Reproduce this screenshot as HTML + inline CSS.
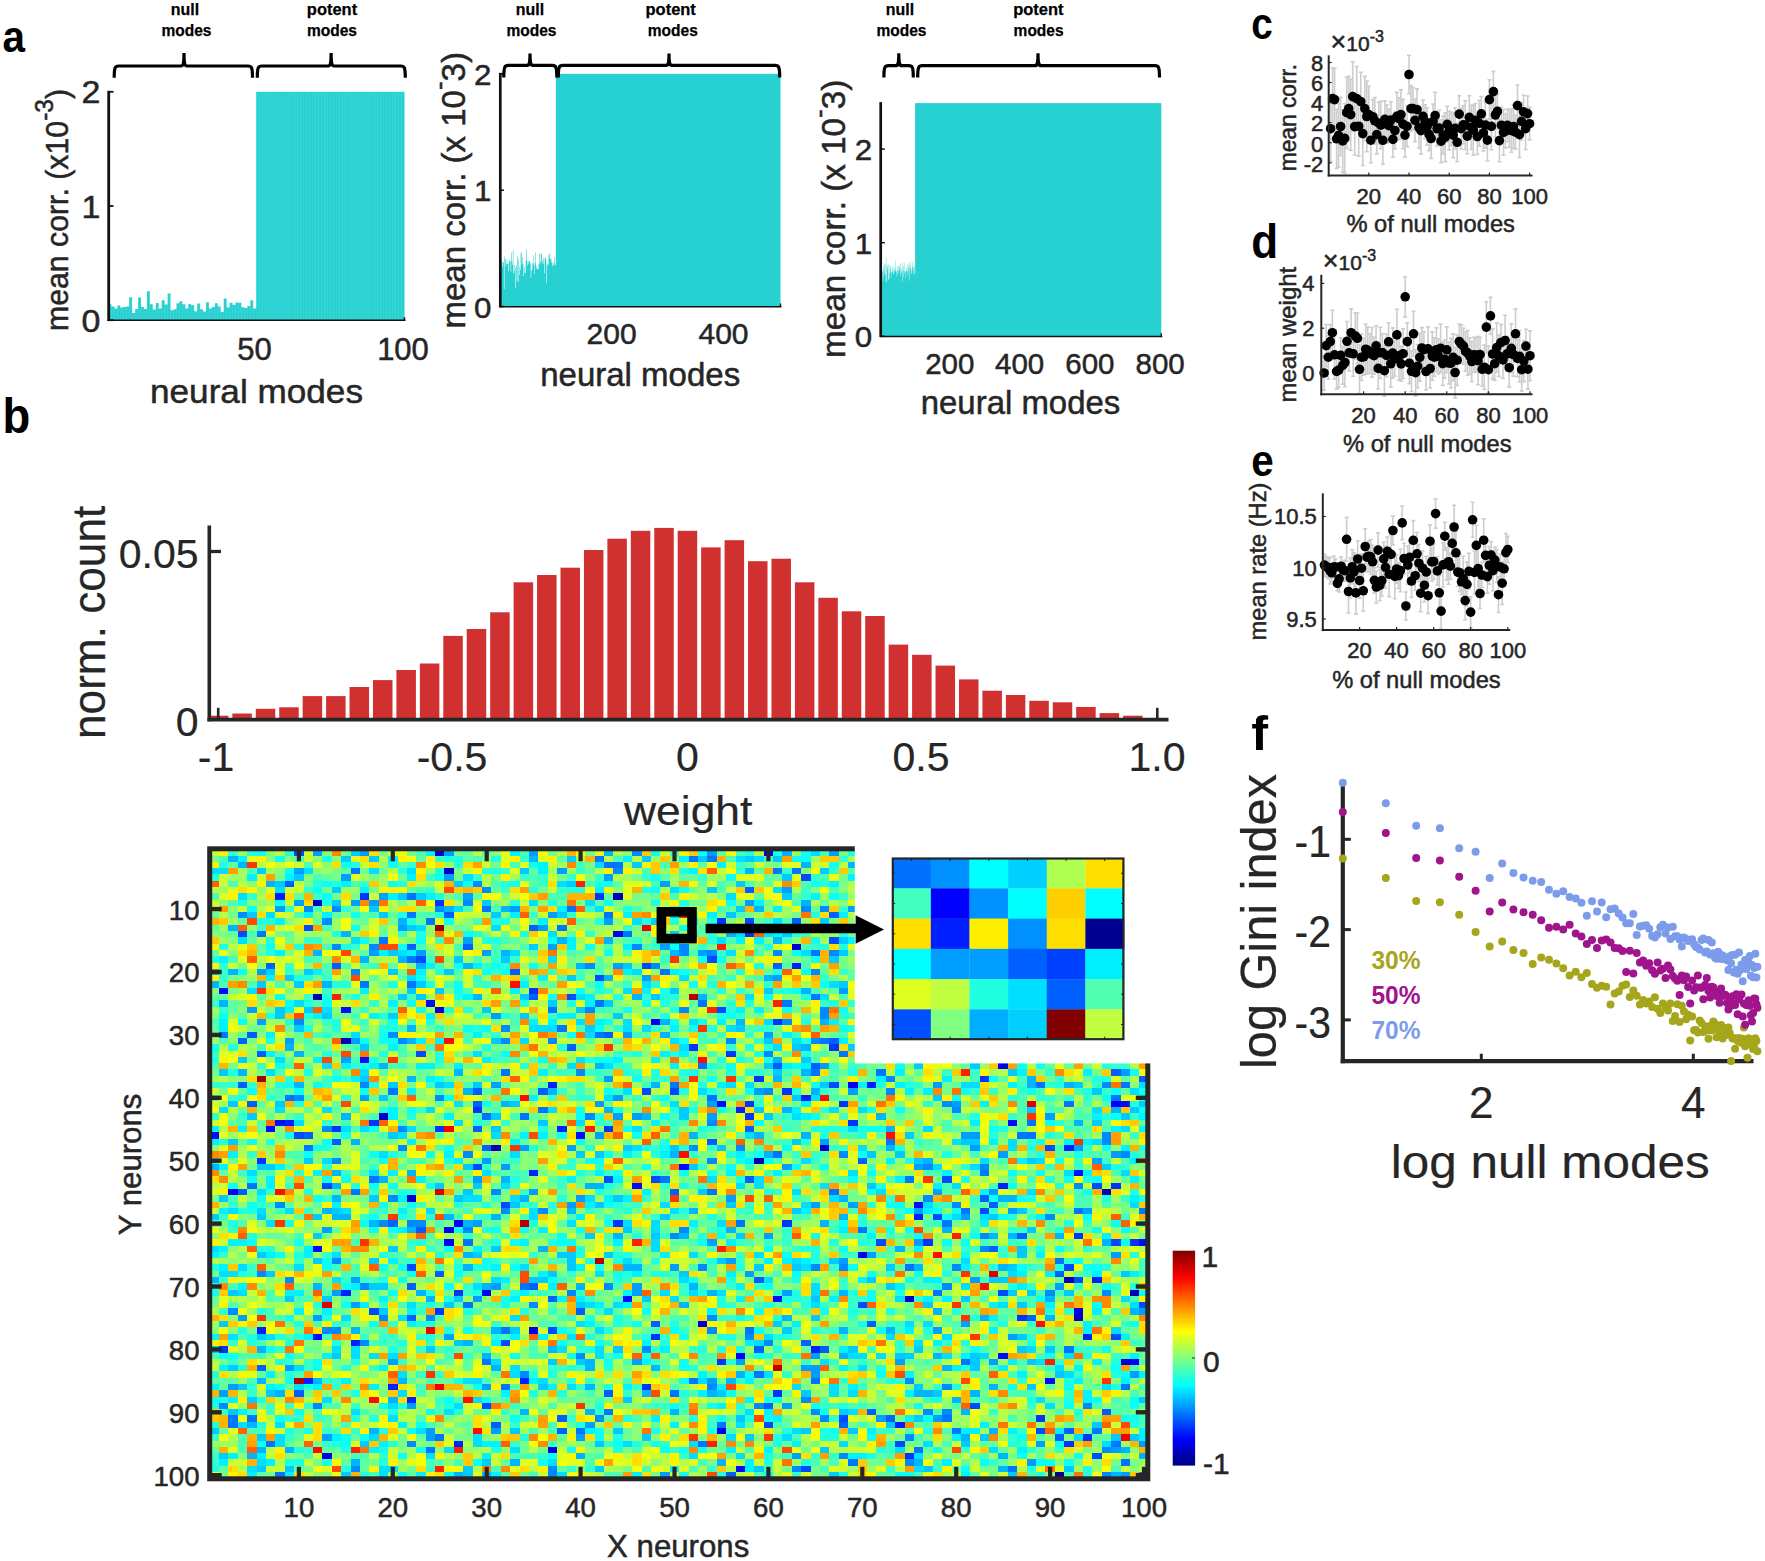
<!DOCTYPE html>
<html><head><meta charset="utf-8"><title>Figure</title>
<style>html,body{margin:0;padding:0;background:#fff}svg{display:block}</style></head>
<body>
<svg width="1765" height="1561" viewBox="0 0 1765 1561" font-family='"Liberation Sans", Arial, Helvetica, sans-serif' stroke-width="0.5">
<style>text{stroke:#262626}text[font-weight]{stroke:none}</style>
<rect width="1765" height="1561" fill="#fff"/>
<path d="M108.50 320.20V304.3H111.45V306.6H114.41V308.4H117.36V305.4H120.32V307.5H123.27V307.1H126.22V306.6H129.18V297.3H132.13V312.9H135.09V309.0H138.04V297.4H140.99V306.9H143.95V309.0H146.90V291.2H149.86V304.2H152.81V309.6H155.76V303.0H158.72V308.4H161.67V300.3H164.63V304.6H167.58V293.6H170.53V310.2H173.49V309.3H176.44V303.2H179.40V301.2H182.35V304.3H185.30V308.4H188.26V304.1H191.21V305.2H194.17V311.3H197.12V303.6H200.07V309.3H203.03V311.4H205.98V302.3H208.94V308.4H211.89V306.9H214.84V303.2H217.80V306.6H220.75V312.0H223.71V298.6H226.66V307.5H229.61V302.7H232.57V304.8H235.52V302.5H238.48V302.8H241.43V307.3H244.38V308.0H247.34V306.1H250.29V300.3H253.25V308.4H256.80V320.20Z" fill="#28D1D1"/>
<rect x="256.20" y="91.80" width="148.30" height="228.40" fill="#28D1D1"/>
<path d="M259.17 91.8V320.2M262.13 91.8V320.2M265.10 91.8V320.2M268.06 91.8V320.2M271.03 91.8V320.2M274.00 91.8V320.2M276.96 91.8V320.2M279.93 91.8V320.2M282.89 91.8V320.2M285.86 91.8V320.2M288.83 91.8V320.2M291.79 91.8V320.2M294.76 91.8V320.2M297.72 91.8V320.2M300.69 91.8V320.2M303.66 91.8V320.2M306.62 91.8V320.2M309.59 91.8V320.2M312.55 91.8V320.2M315.52 91.8V320.2M318.49 91.8V320.2M321.45 91.8V320.2M324.42 91.8V320.2M327.38 91.8V320.2M330.35 91.8V320.2M333.32 91.8V320.2M336.28 91.8V320.2M339.25 91.8V320.2M342.21 91.8V320.2M345.18 91.8V320.2M348.15 91.8V320.2M351.11 91.8V320.2M354.08 91.8V320.2M357.04 91.8V320.2M360.01 91.8V320.2M362.98 91.8V320.2M365.94 91.8V320.2M368.91 91.8V320.2M371.87 91.8V320.2M374.84 91.8V320.2M377.81 91.8V320.2M380.77 91.8V320.2M383.74 91.8V320.2M386.70 91.8V320.2M389.67 91.8V320.2M392.64 91.8V320.2M395.60 91.8V320.2M398.57 91.8V320.2M401.53 91.8V320.2M111.45 290.2V320.2M114.41 290.2V320.2M117.36 290.2V320.2M120.32 290.2V320.2M123.27 290.2V320.2M126.22 290.2V320.2M129.18 290.2V320.2M132.13 290.2V320.2M135.09 290.2V320.2M138.04 290.2V320.2M140.99 290.2V320.2M143.95 290.2V320.2M146.90 290.2V320.2M149.86 290.2V320.2M152.81 290.2V320.2M155.76 290.2V320.2M158.72 290.2V320.2M161.67 290.2V320.2M164.63 290.2V320.2M167.58 290.2V320.2M170.53 290.2V320.2M173.49 290.2V320.2M176.44 290.2V320.2M179.40 290.2V320.2M182.35 290.2V320.2M185.30 290.2V320.2M188.26 290.2V320.2M191.21 290.2V320.2M194.17 290.2V320.2M197.12 290.2V320.2M200.07 290.2V320.2M203.03 290.2V320.2M205.98 290.2V320.2M208.94 290.2V320.2M211.89 290.2V320.2M214.84 290.2V320.2M217.80 290.2V320.2M220.75 290.2V320.2M223.71 290.2V320.2M226.66 290.2V320.2M229.61 290.2V320.2M232.57 290.2V320.2M235.52 290.2V320.2M238.48 290.2V320.2M241.43 290.2V320.2M244.38 290.2V320.2M247.34 290.2V320.2M250.29 290.2V320.2M253.25 290.2V320.2" stroke="#fff" stroke-opacity="0.13" stroke-width="0.8" fill="none"/>
<line x1="108.7" y1="90.8" x2="108.7" y2="321.0" stroke="#111" stroke-width="2.8"/>
<line x1="107.3" y1="320.2" x2="405.5" y2="320.2" stroke="#111" stroke-width="1.6"/>
<line x1="108.5" y1="91.8" x2="113.5" y2="91.8" stroke="#111" stroke-width="1.8"/>
<text x="100.3" y="103.4" font-size="32" text-anchor="end" fill="#262626" textLength="18.9" lengthAdjust="spacingAndGlyphs">2</text>
<line x1="108.5" y1="206.0" x2="113.5" y2="206.0" stroke="#111" stroke-width="1.8"/>
<text x="100.3" y="217.6" font-size="32" text-anchor="end" fill="#262626" textLength="18.9" lengthAdjust="spacingAndGlyphs">1</text>
<line x1="108.5" y1="320.2" x2="113.5" y2="320.2" stroke="#111" stroke-width="1.8"/>
<text x="100.3" y="331.8" font-size="32" text-anchor="end" fill="#262626" textLength="18.9" lengthAdjust="spacingAndGlyphs">0</text>
<line x1="404.5" y1="320.2" x2="404.5" y2="317.2" stroke="#111" stroke-width="1.4"/>
<text x="254.4" y="360.3" font-size="31" text-anchor="middle" fill="#262626">50</text>
<text x="403.0" y="360.3" font-size="31" text-anchor="middle" fill="#262626">100</text>
<text x="256.5" y="402.7" font-size="34" text-anchor="middle" fill="#262626" textLength="213.0" lengthAdjust="spacingAndGlyphs">neural modes</text>
<text x="68.2" y="331.0" font-size="31.5" text-anchor="start" fill="#262626" transform="rotate(-90 68.2 331.0)" textLength="242.0" lengthAdjust="spacingAndGlyphs">mean corr. (x10<tspan font-size="25.5" dy="-15">-3</tspan><tspan dy="15">)</tspan></text>
<path d="M114.2 77.8 C114.2 67.0 115.2 66.0 118.7 66.0 L181.0 66.0 C183.5 66.0 184.0 63.0 184.0 53.0 C184.0 63.0 184.5 66.0 187.0 66.0 L248.0 66.0 C251.5 66.0 252.5 67.0 252.5 77.8" fill="none" stroke="#000" stroke-width="3.2" stroke-linejoin="miter"/>
<path d="M257.3 77.8 C257.3 67.0 258.3 66.0 261.8 66.0 L328.1 66.0 C330.6 66.0 331.1 63.0 331.1 53.0 C331.1 63.0 331.6 66.0 334.1 66.0 L400.8 66.0 C404.3 66.0 405.3 67.0 405.3 77.8" fill="none" stroke="#000" stroke-width="3.2" stroke-linejoin="miter"/>
<text x="185.0" y="15.0" font-size="16.4" font-weight="bold" text-anchor="middle" fill="#000" style="stroke:#000;stroke-width:.25px" textLength="28.3" lengthAdjust="spacingAndGlyphs">null</text>
<text x="186.5" y="36.2" font-size="16.4" font-weight="bold" text-anchor="middle" fill="#000" style="stroke:#000;stroke-width:.25px" textLength="50" lengthAdjust="spacingAndGlyphs">modes</text>
<text x="332.0" y="15.0" font-size="16.4" font-weight="bold" text-anchor="middle" fill="#000" style="stroke:#000;stroke-width:.25px" textLength="50.3" lengthAdjust="spacingAndGlyphs">potent</text>
<text x="332.0" y="36.2" font-size="16.4" font-weight="bold" text-anchor="middle" fill="#000" style="stroke:#000;stroke-width:.25px" textLength="50" lengthAdjust="spacingAndGlyphs">modes</text>
<path d="M500.00 306.50V252.4H500.56V265.3H501.12V262.3H501.67V260.1H502.23V267.2H502.79V262.5H503.35V262.5H503.91V288.9H504.46V256.4H505.02V258.9H505.58V266.3H506.14V263.5H506.70V259.5H507.25V264.1H507.81V264.0H508.37V271.2H508.93V259.2H509.49V261.8H510.04V260.9H510.60V271.7H511.16V252.6H511.72V261.6H512.28V264.8H512.83V250.3H513.39V273.5H513.95V271.2H514.51V264.9H515.07V288.0H515.62V267.4H516.18V265.0H516.74V281.3H517.30V256.1H517.86V282.2H518.41V259.3H518.97V274.9H519.53V266.5H520.09V269.7H520.65V253.7H521.20V251.9H521.76V264.5H522.32V257.5H522.88V263.6H523.44V276.2H523.99V267.0H524.55V272.8H525.11V273.3H525.67V260.2H526.23V249.0H526.78V260.9H527.34V265.6H527.90V264.2H528.46V261.1H529.02V261.9H529.57V261.0H530.13V263.3H530.69V277.4H531.25V271.1H531.81V269.4H532.36V263.1H532.92V255.3H533.48V264.7H534.04V273.9H534.60V263.1H535.15V252.3H535.71V264.8H536.27V267.8H536.83V269.7H537.39V268.8H537.94V264.3H538.50V269.6H539.06V253.5H539.62V264.2H540.18V261.8H540.73V253.9H541.29V253.5H541.85V263.8H542.41V260.5H542.97V258.1H543.52V263.7H544.08V273.2H544.64V258.6H545.20V257.1H545.76V260.0H546.31V283.2H546.87V263.7H547.43V266.0H547.99V264.3H548.55V254.7H549.10V253.3H549.66V258.5H550.22V259.2H550.78V258.4H551.34V262.6H551.89V263.0H552.45V266.5H553.01V262.8H553.57V265.3H554.13V257.3H554.68V264.6H555.24V265.3H556.40V306.50Z" fill="#28D1D1"/>
<rect x="555.80" y="73.80" width="224.70" height="232.70" fill="#28D1D1"/>
<line x1="500.3" y1="72.8" x2="500.3" y2="307.3" stroke="#111" stroke-width="2.7"/>
<line x1="499.2" y1="306.8" x2="781.5" y2="306.8" stroke="#111" stroke-width="1.5"/>
<line x1="500.0" y1="73.8" x2="504.0" y2="73.8" stroke="#111" stroke-width="1.5"/>
<text x="491.5" y="84.8" font-size="30" text-anchor="end" fill="#262626" textLength="17.4" lengthAdjust="spacingAndGlyphs">2</text>
<line x1="500.0" y1="190.2" x2="504.0" y2="190.2" stroke="#111" stroke-width="1.5"/>
<text x="491.5" y="201.2" font-size="30" text-anchor="end" fill="#262626" textLength="17.4" lengthAdjust="spacingAndGlyphs">1</text>
<line x1="500.0" y1="306.5" x2="504.0" y2="306.5" stroke="#111" stroke-width="1.5"/>
<text x="491.5" y="317.5" font-size="30" text-anchor="end" fill="#262626" textLength="17.4" lengthAdjust="spacingAndGlyphs">0</text>
<text x="611.6" y="344.2" font-size="30" text-anchor="middle" fill="#262626">200</text>
<text x="723.5" y="344.2" font-size="30" text-anchor="middle" fill="#262626">400</text>
<line x1="780.5" y1="306.5" x2="780.5" y2="303.5" stroke="#111" stroke-width="1.3"/>
<text x="640.2" y="385.5" font-size="32.5" text-anchor="middle" fill="#262626" textLength="200.0" lengthAdjust="spacingAndGlyphs">neural modes</text>
<text x="464.6" y="328.5" font-size="33" text-anchor="start" fill="#262626" transform="rotate(-90 464.6 328.5)">mean corr. (x 10<tspan dy="-17" font-size="26">-</tspan><tspan dy="17">3)</tspan></text>
<path d="M503.8 77.6 C503.8 66.4 504.8 65.4 508.3 65.4 L527.0 65.4 C529.5 65.4 530.0 62.4 530.0 53.5 C530.0 62.4 530.5 65.4 533.0 65.4 L552.3 65.4 C555.8 65.4 556.8 66.4 556.8 77.6" fill="none" stroke="#000" stroke-width="3.2" stroke-linejoin="miter"/>
<path d="M558.3 77.6 C558.3 66.4 559.3 65.4 562.8 65.4 L666.0 65.4 C668.5 65.4 669.0 62.4 669.0 53.5 C669.0 62.4 669.5 65.4 672.0 65.4 L775.2 65.4 C778.7 65.4 779.7 66.4 779.7 77.6" fill="none" stroke="#000" stroke-width="3.2" stroke-linejoin="miter"/>
<text x="530.0" y="14.7" font-size="16.4" font-weight="bold" text-anchor="middle" fill="#000" style="stroke:#000;stroke-width:.25px" textLength="28.3" lengthAdjust="spacingAndGlyphs">null</text>
<text x="531.5" y="35.6" font-size="16.4" font-weight="bold" text-anchor="middle" fill="#000" style="stroke:#000;stroke-width:.25px" textLength="50" lengthAdjust="spacingAndGlyphs">modes</text>
<text x="670.7" y="14.7" font-size="16.4" font-weight="bold" text-anchor="middle" fill="#000" style="stroke:#000;stroke-width:.25px" textLength="50.3" lengthAdjust="spacingAndGlyphs">potent</text>
<text x="672.8" y="35.6" font-size="16.4" font-weight="bold" text-anchor="middle" fill="#000" style="stroke:#000;stroke-width:.25px" textLength="50" lengthAdjust="spacingAndGlyphs">modes</text>
<path d="M880.30 336.30V278.2H880.65V266.3H881.00V273.2H881.34V268.0H881.69V268.5H882.04V272.8H882.39V269.6H882.74V281.4H883.08V278.5H883.43V265.9H883.78V271.8H884.13V263.5H884.48V268.7H884.82V274.8H885.17V263.8H885.52V275.1H885.87V282.6H886.22V257.9H886.56V281.8H886.91V266.5H887.26V264.7H887.61V269.4H887.96V280.4H888.30V264.2H888.65V278.9H889.00V278.4H889.35V272.5H889.70V265.6H890.04V268.5H890.39V265.4H890.74V273.0H891.09V271.3H891.44V277.1H891.78V272.2H892.13V266.7H892.48V272.1H892.83V267.4H893.18V273.7H893.52V273.9H893.87V270.1H894.22V271.5H894.57V266.7H894.92V269.2H895.26V259.9H895.61V271.6H895.96V271.7H896.31V276.5H896.66V270.2H897.00V266.2H897.35V274.7H897.70V270.6H898.05V266.0H898.40V271.1H898.74V273.4H899.09V264.5H899.44V269.7H899.79V267.9H900.14V263.3H900.48V276.0H900.83V272.4H901.18V273.5H901.53V268.6H901.88V271.1H902.22V281.7H902.57V262.6H902.92V270.2H903.27V265.9H903.62V277.3H903.96V262.6H904.31V273.8H904.66V270.9H905.01V278.7H905.36V271.3H905.70V271.7H906.05V271.4H906.40V267.7H906.75V269.9H907.10V264.4H907.44V273.1H907.79V276.3H908.14V270.4H908.49V266.5H908.84V262.8H909.18V265.4H909.53V280.9H909.88V268.0H910.23V261.5H910.58V269.9H910.92V273.4H911.27V268.4H911.62V273.3H911.97V266.5H912.32V270.4H912.66V261.9H913.01V267.3H913.36V274.6H913.71V266.7H914.06V264.7H914.40V273.7H914.75V272.9H915.70V336.30Z" fill="#28D1D1"/>
<rect x="915.10" y="103.10" width="246.20" height="233.20" fill="#28D1D1"/>
<line x1="880.7" y1="102.1" x2="880.7" y2="337.1" stroke="#111" stroke-width="2.7"/>
<line x1="880.3" y1="336.6" x2="1162.3" y2="336.6" stroke="#111" stroke-width="1.5"/>
<line x1="881.3" y1="336.3" x2="884.8" y2="336.3" stroke="#111" stroke-width="1.5"/>
<text x="872.2" y="347.3" font-size="30" text-anchor="end" fill="#262626" textLength="17.4" lengthAdjust="spacingAndGlyphs">0</text>
<line x1="881.3" y1="242.7" x2="884.8" y2="242.7" stroke="#111" stroke-width="1.5"/>
<text x="872.2" y="253.7" font-size="30" text-anchor="end" fill="#262626" textLength="17.4" lengthAdjust="spacingAndGlyphs">1</text>
<line x1="881.3" y1="149.1" x2="884.8" y2="149.1" stroke="#111" stroke-width="1.5"/>
<text x="872.2" y="160.1" font-size="30" text-anchor="end" fill="#262626" textLength="17.4" lengthAdjust="spacingAndGlyphs">2</text>
<text x="949.8" y="374.2" font-size="29.5" text-anchor="middle" fill="#262626">200</text>
<text x="1019.6" y="374.2" font-size="29.5" text-anchor="middle" fill="#262626">400</text>
<text x="1089.9" y="374.2" font-size="29.5" text-anchor="middle" fill="#262626">600</text>
<text x="1160.1" y="374.2" font-size="29.5" text-anchor="middle" fill="#262626">800</text>
<line x1="1161.3" y1="336.3" x2="1161.3" y2="333.3" stroke="#111" stroke-width="1.3"/>
<text x="1020.5" y="414.4" font-size="32.5" text-anchor="middle" fill="#262626" textLength="199.5" lengthAdjust="spacingAndGlyphs">neural modes</text>
<text x="845.1" y="358.0" font-size="33" text-anchor="start" fill="#262626" transform="rotate(-90 845.1 358.0)" textLength="278.4" lengthAdjust="spacingAndGlyphs">mean corr. (x 10<tspan dy="-17" font-size="26">-</tspan><tspan dy="17">3)</tspan></text>
<path d="M883.9 77.5 C883.9 66.7 884.9 65.7 888.4 65.7 L895.8 65.7 C898.3 65.7 898.8 62.7 898.8 53.3 C898.8 62.7 899.3 65.7 901.8 65.7 L908.8 65.7 C912.3 65.7 913.3 66.7 913.3 77.5" fill="none" stroke="#000" stroke-width="3.2" stroke-linejoin="miter"/>
<path d="M917.7 77.5 C917.7 66.7 918.7 65.7 922.2 65.7 L1035.0 65.7 C1037.5 65.7 1038.0 62.7 1038.0 53.3 C1038.0 62.7 1038.5 65.7 1041.0 65.7 L1155.0 65.7 C1158.5 65.7 1159.5 66.7 1159.5 77.5" fill="none" stroke="#000" stroke-width="3.2" stroke-linejoin="miter"/>
<text x="900.0" y="14.7" font-size="16.4" font-weight="bold" text-anchor="middle" fill="#000" style="stroke:#000;stroke-width:.25px" textLength="28.3" lengthAdjust="spacingAndGlyphs">null</text>
<text x="901.5" y="35.6" font-size="16.4" font-weight="bold" text-anchor="middle" fill="#000" style="stroke:#000;stroke-width:.25px" textLength="50" lengthAdjust="spacingAndGlyphs">modes</text>
<text x="1038.4" y="14.7" font-size="16.4" font-weight="bold" text-anchor="middle" fill="#000" style="stroke:#000;stroke-width:.25px" textLength="50.3" lengthAdjust="spacingAndGlyphs">potent</text>
<text x="1038.6" y="35.6" font-size="16.4" font-weight="bold" text-anchor="middle" fill="#000" style="stroke:#000;stroke-width:.25px" textLength="50" lengthAdjust="spacingAndGlyphs">modes</text>
<text x="2.5" y="52.4" font-size="45" text-anchor="start" fill="#000" font-weight="bold" textLength="22.5" lengthAdjust="spacingAndGlyphs">a</text>
<text x="2.5" y="432.8" font-size="50.5" text-anchor="start" fill="#000" font-weight="bold" textLength="27.8" lengthAdjust="spacingAndGlyphs">b</text>
<text x="1251.3" y="39.3" font-size="44" text-anchor="start" fill="#000" font-weight="bold" textLength="21.5" lengthAdjust="spacingAndGlyphs">c</text>
<text x="1251.3" y="257.8" font-size="49" text-anchor="start" fill="#000" font-weight="bold" textLength="26.9" lengthAdjust="spacingAndGlyphs">d</text>
<text x="1251.3" y="475.5" font-size="44" text-anchor="start" fill="#000" font-weight="bold" textLength="22.5" lengthAdjust="spacingAndGlyphs">e</text>
<text x="1251.2" y="750.3" font-size="49" text-anchor="start" fill="#000" font-weight="bold" textLength="16.8" lengthAdjust="spacingAndGlyphs">f</text>
<rect x="208.90" y="715.70" width="19.50" height="3.60" fill="#D03030"/>
<rect x="232.34" y="713.50" width="19.50" height="5.80" fill="#D03030"/>
<rect x="255.78" y="708.80" width="19.50" height="10.50" fill="#D03030"/>
<rect x="279.22" y="707.30" width="19.50" height="12.00" fill="#D03030"/>
<rect x="302.66" y="696.10" width="19.50" height="23.20" fill="#D03030"/>
<rect x="326.10" y="696.10" width="19.50" height="23.20" fill="#D03030"/>
<rect x="349.54" y="687.00" width="19.50" height="32.30" fill="#D03030"/>
<rect x="372.98" y="680.10" width="19.50" height="39.20" fill="#D03030"/>
<rect x="396.42" y="670.00" width="19.50" height="49.30" fill="#D03030"/>
<rect x="419.86" y="663.50" width="19.50" height="55.80" fill="#D03030"/>
<rect x="443.30" y="635.90" width="19.50" height="83.40" fill="#D03030"/>
<rect x="466.74" y="629.00" width="19.50" height="90.30" fill="#D03030"/>
<rect x="490.18" y="612.30" width="19.50" height="107.00" fill="#D03030"/>
<rect x="513.62" y="582.30" width="19.50" height="137.00" fill="#D03030"/>
<rect x="537.06" y="575.00" width="19.50" height="144.30" fill="#D03030"/>
<rect x="560.50" y="567.70" width="19.50" height="151.60" fill="#D03030"/>
<rect x="583.94" y="550.00" width="19.50" height="169.30" fill="#D03030"/>
<rect x="607.38" y="538.70" width="19.50" height="180.60" fill="#D03030"/>
<rect x="630.82" y="530.80" width="19.50" height="188.50" fill="#D03030"/>
<rect x="654.26" y="527.90" width="19.50" height="191.40" fill="#D03030"/>
<rect x="677.70" y="530.80" width="19.50" height="188.50" fill="#D03030"/>
<rect x="701.14" y="547.40" width="19.50" height="171.90" fill="#D03030"/>
<rect x="724.58" y="540.20" width="19.50" height="179.10" fill="#D03030"/>
<rect x="748.02" y="561.20" width="19.50" height="158.10" fill="#D03030"/>
<rect x="771.46" y="558.70" width="19.50" height="160.60" fill="#D03030"/>
<rect x="794.90" y="582.30" width="19.50" height="137.00" fill="#D03030"/>
<rect x="818.34" y="597.80" width="19.50" height="121.50" fill="#D03030"/>
<rect x="841.78" y="611.30" width="19.50" height="108.00" fill="#D03030"/>
<rect x="865.22" y="616.00" width="19.50" height="103.30" fill="#D03030"/>
<rect x="888.66" y="644.60" width="19.50" height="74.70" fill="#D03030"/>
<rect x="912.10" y="654.80" width="19.50" height="64.50" fill="#D03030"/>
<rect x="935.54" y="665.60" width="19.50" height="53.70" fill="#D03030"/>
<rect x="958.98" y="679.40" width="19.50" height="39.90" fill="#D03030"/>
<rect x="982.42" y="690.70" width="19.50" height="28.60" fill="#D03030"/>
<rect x="1005.86" y="695.00" width="19.50" height="24.30" fill="#D03030"/>
<rect x="1029.30" y="700.80" width="19.50" height="18.50" fill="#D03030"/>
<rect x="1052.74" y="702.30" width="19.50" height="17.00" fill="#D03030"/>
<rect x="1076.18" y="707.00" width="19.50" height="12.30" fill="#D03030"/>
<rect x="1099.62" y="713.10" width="19.50" height="6.20" fill="#D03030"/>
<rect x="1123.06" y="715.70" width="19.50" height="3.60" fill="#D03030"/>
<line x1="207.4" y1="719.6" x2="1168.5" y2="719.6" stroke="#262626" stroke-width="3.8"/>
<line x1="209.3" y1="525.6" x2="209.3" y2="721.3" stroke="#262626" stroke-width="3.6"/>
<line x1="209.0" y1="551.5" x2="221.0" y2="551.5" stroke="#262626" stroke-width="3.3"/>
<line x1="218.2" y1="719.3" x2="218.2" y2="707.8" stroke="#262626" stroke-width="2.6"/>
<line x1="1157.3" y1="719.3" x2="1157.3" y2="707.8" stroke="#262626" stroke-width="2.6"/>
<text x="198.6" y="567.7" font-size="41" text-anchor="end" fill="#262626" stroke-width="0.2">0.05</text>
<text x="198.6" y="736.0" font-size="41" text-anchor="end" fill="#262626" stroke-width="0.2">0</text>
<text x="216.0" y="771.3" font-size="41" text-anchor="middle" fill="#262626" stroke-width="0.2">-1</text>
<text x="452.0" y="771.3" font-size="41" text-anchor="middle" fill="#262626" stroke-width="0.2">-0.5</text>
<text x="687.3" y="771.3" font-size="41" text-anchor="middle" fill="#262626" stroke-width="0.2">0</text>
<text x="921.0" y="771.3" font-size="41" text-anchor="middle" fill="#262626" stroke-width="0.2">0.5</text>
<text x="1157.0" y="771.3" font-size="41" text-anchor="middle" fill="#262626" stroke-width="0.2">1.0</text>
<text x="688.2" y="824.7" font-size="41.5" text-anchor="middle" fill="#262626" textLength="128.4" lengthAdjust="spacingAndGlyphs" stroke-width="0.2">weight</text>
<text x="105.2" y="739.0" font-size="47" text-anchor="start" fill="#262626" transform="rotate(-90 105.2 739.0)" textLength="233.3" lengthAdjust="spacingAndGlyphs" stroke-width="0.2">norm. count</text>
<rect x="209.70" y="849.30" width="939.00" height="629.00" fill="#75FF8A"/>
<g transform="translate(209.7 849.3) scale(9.39 6.29)" shape-rendering="crispEdges">
<path fill="#00008A" d="M86 32h1v1h-1zM90 99h1v1h-1z"/>
<path fill="#00009F" d="M81 29h1v1h-1z"/>
<path fill="#0000B5" d="M43 7h1v1h-1zM11 23h1v1h-1zM14 30h1v1h-1zM30 47h1v1h-1zM58 49h1v1h-1zM95 54h1v1h-1zM98 70h1v1h-1z"/>
<path fill="#0000CA" d="M24 0h1v1h-1zM25 3h1v1h-1zM11 8h1v1h-1zM62 15h1v1h-1zM99 16h1v1h-1zM86 26h1v1h-1zM18 42h1v1h-1zM65 47h1v1h-1zM21 55h1v1h-1zM91 68h1v1h-1zM74 71h1v1h-1zM92 74h1v1h-1z"/>
<path fill="#0000DF" d="M95 11h1v1h-1zM24 25h1v1h-1zM92 73h1v1h-1zM52 75h1v1h-1zM97 81h1v1h-1zM36 95h1v1h-1zM12 96h1v1h-1z"/>
<path fill="#0000F4" d="M59 0h1v1h-1zM89 0h1v1h-1zM97 0h1v1h-1zM43 13h1v1h-1zM76 13h1v1h-1zM47 27h1v1h-1zM84 34h1v1h-1zM68 37h1v1h-1zM96 40h1v1h-1zM2 54h1v1h-1zM26 59h1v1h-1zM25 60h1v1h-1zM25 62h1v1h-1zM69 64h1v1h-1zM29 70h1v1h-1zM34 76h1v1h-1zM56 80h1v1h-1zM98 81h1v1h-1zM54 92h1v1h-1z"/>
<path fill="#000BFF" d="M80 10h1v1h-1zM82 18h1v1h-1zM1 22h1v1h-1zM23 24h1v1h-1zM14 25h1v1h-1zM78 28h1v1h-1zM16 33h1v1h-1zM73 33h1v1h-1zM54 40h1v1h-1zM97 40h1v1h-1zM7 43h1v1h-1zM85 43h1v1h-1zM6 44h1v1h-1zM0 45h1v1h-1zM39 45h1v1h-1zM50 50h1v1h-1zM92 51h1v1h-1zM45 53h1v1h-1zM75 56h1v1h-1zM99 62h1v1h-1zM11 63h1v1h-1zM44 71h1v1h-1zM60 71h1v1h-1zM11 77h1v1h-1zM84 80h1v1h-1zM89 84h1v1h-1zM56 98h1v1h-1z"/>
<path fill="#0020FF" d="M7 7h1v1h-1zM93 17h1v1h-1zM62 18h1v1h-1zM89 25h1v1h-1zM77 27h1v1h-1zM36 37h1v1h-1zM70 37h1v1h-1zM63 39h1v1h-1zM56 41h1v1h-1zM8 43h1v1h-1zM37 44h1v1h-1zM91 47h1v1h-1zM34 51h1v1h-1zM84 53h1v1h-1zM75 58h1v1h-1zM94 68h1v1h-1zM14 70h1v1h-1zM5 76h1v1h-1zM93 77h1v1h-1zM15 78h1v1h-1zM64 79h1v1h-1zM10 84h1v1h-1zM33 84h1v1h-1zM19 85h1v1h-1zM21 87h1v1h-1zM73 91h1v1h-1zM26 94h1v1h-1z"/>
<path fill="#0035FF" d="M99 2h1v1h-1zM84 3h1v1h-1zM16 7h1v1h-1zM41 7h1v1h-1zM24 8h1v1h-1zM54 11h1v1h-1zM98 11h1v1h-1zM55 12h1v1h-1zM57 13h1v1h-1zM34 22h1v1h-1zM72 23h1v1h-1zM90 23h1v1h-1zM60 27h1v1h-1zM51 31h1v1h-1zM66 31h1v1h-1zM55 32h1v1h-1zM58 36h1v1h-1zM82 36h1v1h-1zM61 38h1v1h-1zM57 40h1v1h-1zM67 40h1v1h-1zM28 41h1v1h-1zM57 42h1v1h-1zM17 43h1v1h-1zM68 43h1v1h-1zM13 44h1v1h-1zM24 44h1v1h-1zM42 44h1v1h-1zM5 49h1v1h-1zM96 53h1v1h-1zM43 59h1v1h-1zM61 59h1v1h-1zM92 61h1v1h-1zM76 62h1v1h-1zM98 62h1v1h-1zM26 70h1v1h-1zM24 73h1v1h-1zM86 74h1v1h-1zM47 77h1v1h-1zM1 79h1v1h-1zM54 81h1v1h-1zM46 85h1v1h-1zM60 86h1v1h-1zM88 90h1v1h-1zM93 93h1v1h-1zM91 94h1v1h-1zM74 96h1v1h-1z"/>
<path fill="#004AFF" d="M9 0h1v1h-1zM63 4h1v1h-1zM57 11h1v1h-1zM10 12h1v1h-1zM97 12h1v1h-1zM3 13h1v1h-1zM66 14h1v1h-1zM22 17h1v1h-1zM53 17h1v1h-1zM69 17h1v1h-1zM46 18h1v1h-1zM91 19h1v1h-1zM41 20h1v1h-1zM90 22h1v1h-1zM38 23h1v1h-1zM54 25h1v1h-1zM93 28h1v1h-1zM22 32h1v1h-1zM66 37h1v1h-1zM46 38h1v1h-1zM49 38h1v1h-1zM9 45h1v1h-1zM89 47h1v1h-1zM28 50h1v1h-1zM42 52h1v1h-1zM47 52h1v1h-1zM78 52h1v1h-1zM12 53h1v1h-1zM94 53h1v1h-1zM31 56h1v1h-1zM82 57h1v1h-1zM77 58h1v1h-1zM71 62h1v1h-1zM96 62h1v1h-1zM21 66h1v1h-1zM91 66h1v1h-1zM92 68h1v1h-1zM84 70h1v1h-1zM69 72h1v1h-1zM99 72h1v1h-1zM17 73h1v1h-1zM36 76h1v1h-1zM96 77h1v1h-1zM31 78h1v1h-1zM29 88h1v1h-1zM81 88h1v1h-1zM67 90h1v1h-1zM59 91h1v1h-1zM88 92h1v1h-1zM73 94h1v1h-1zM94 96h1v1h-1zM63 98h1v1h-1z"/>
<path fill="#0060FF" d="M97 1h1v1h-1zM71 3h1v1h-1zM96 4h1v1h-1zM8 5h1v1h-1zM57 6h1v1h-1zM95 7h1v1h-1zM25 10h1v1h-1zM66 10h1v1h-1zM62 11h1v1h-1zM34 12h1v1h-1zM96 12h1v1h-1zM72 13h1v1h-1zM89 13h1v1h-1zM21 15h1v1h-1zM27 15h1v1h-1zM6 18h1v1h-1zM13 18h1v1h-1zM60 18h1v1h-1zM32 19h1v1h-1zM34 23h1v1h-1zM77 25h1v1h-1zM86 25h1v1h-1zM86 28h1v1h-1zM4 29h1v1h-1zM42 29h1v1h-1zM3 30h1v1h-1zM66 30h1v1h-1zM79 30h1v1h-1zM38 31h1v1h-1zM5 32h1v1h-1zM99 32h1v1h-1zM60 34h1v1h-1zM64 34h1v1h-1zM96 35h1v1h-1zM99 36h1v1h-1zM3 37h1v1h-1zM28 38h1v1h-1zM35 38h1v1h-1zM4 40h1v1h-1zM28 40h1v1h-1zM28 44h1v1h-1zM57 44h1v1h-1zM10 45h1v1h-1zM13 46h1v1h-1zM53 46h1v1h-1zM29 47h1v1h-1zM69 49h1v1h-1zM57 52h1v1h-1zM3 54h1v1h-1zM49 54h1v1h-1zM82 55h1v1h-1zM83 56h1v1h-1zM19 59h1v1h-1zM22 60h1v1h-1zM86 61h1v1h-1zM83 63h1v1h-1zM24 67h1v1h-1zM90 67h1v1h-1zM58 68h1v1h-1zM21 69h1v1h-1zM34 69h1v1h-1zM36 71h1v1h-1zM39 73h1v1h-1zM21 74h1v1h-1zM87 74h1v1h-1zM47 75h1v1h-1zM70 75h1v1h-1zM63 78h1v1h-1zM58 79h1v1h-1zM65 79h1v1h-1zM5 82h1v1h-1zM9 86h1v1h-1zM42 86h1v1h-1zM59 88h1v1h-1zM70 89h1v1h-1zM95 89h1v1h-1zM37 90h1v1h-1zM72 90h1v1h-1zM30 91h1v1h-1zM67 91h1v1h-1zM37 92h1v1h-1zM91 92h1v1h-1zM90 93h1v1h-1zM55 99h1v1h-1z"/>
<path fill="#0075FF" d="M41 1h1v1h-1zM51 1h1v1h-1zM53 1h1v1h-1zM84 1h1v1h-1zM42 2h2v1h-2zM15 3h1v1h-1zM60 3h1v1h-1zM62 3h1v1h-1zM21 7h1v1h-1zM29 9h1v1h-1zM38 9h1v1h-1zM21 10h1v1h-1zM42 10h1v1h-1zM23 11h1v1h-1zM37 12h1v1h-1zM5 13h1v1h-1zM44 13h1v1h-1zM91 13h1v1h-1zM18 14h1v1h-1zM64 16h1v1h-1zM21 17h1v1h-1zM48 19h1v1h-1zM75 20h1v1h-1zM98 20h1v1h-1zM16 21h1v1h-1zM21 21h1v1h-1zM69 21h1v1h-1zM64 23h1v1h-1zM41 24h1v1h-1zM52 24h1v1h-1zM61 24h1v1h-1zM87 24h1v1h-1zM36 25h1v1h-1zM85 26h1v1h-1zM37 28h1v1h-1zM1 29h1v1h-1zM41 29h1v1h-1zM76 29h1v1h-1zM65 30h1v1h-1zM94 31h1v1h-1zM67 32h1v1h-1zM74 33h1v1h-1zM52 34h1v1h-1zM31 35h1v1h-1zM64 35h1v1h-1zM71 35h1v1h-1zM49 37h1v1h-1zM88 37h1v1h-1zM97 37h1v1h-1zM19 38h1v1h-1zM8 39h1v1h-1zM53 39h1v1h-1zM96 39h1v1h-1zM91 40h1v1h-1zM35 41h1v1h-1zM29 42h1v1h-1zM33 42h1v1h-1zM87 43h1v1h-1zM86 45h2v1h-2zM72 46h1v1h-1zM10 47h1v1h-1zM60 48h1v1h-1zM82 51h1v1h-1zM17 52h1v1h-1zM48 52h1v1h-1zM74 52h1v1h-1zM4 53h1v1h-1zM15 54h1v1h-1zM53 54h1v1h-1zM66 54h1v1h-1zM80 57h1v1h-1zM92 57h1v1h-1zM99 57h1v1h-1zM56 59h1v1h-1zM78 59h1v1h-1zM69 60h1v1h-1zM27 62h1v1h-1zM90 65h1v1h-1zM74 66h1v1h-1zM33 69h1v1h-1zM77 70h1v1h-1zM27 72h1v1h-1zM31 76h1v1h-1zM57 76h1v1h-1zM91 79h1v1h-1zM29 81h1v1h-1zM80 81h1v1h-1zM58 83h1v1h-1zM51 84h1v1h-1zM64 84h1v1h-1zM31 85h1v1h-1zM97 85h1v1h-1zM49 86h1v1h-1zM42 89h1v1h-1zM2 90h1v1h-1zM4 90h1v1h-1zM78 90h1v1h-1zM2 91h1v1h-1zM54 91h1v1h-1zM39 92h1v1h-1zM79 92h1v1h-1zM94 92h1v1h-1zM24 93h1v1h-1zM6 94h1v1h-1zM52 94h1v1h-1zM96 94h1v1h-1zM23 95h1v1h-1zM75 95h1v1h-1zM68 97h1v1h-1zM97 97h1v1h-1zM85 98h1v1h-1zM7 99h1v1h-1zM99 99h1v1h-1z"/>
<path fill="#008AFF" d="M45 0h1v1h-1zM43 3h1v1h-1zM81 3h1v1h-1zM87 4h1v1h-1zM28 5h1v1h-1zM88 5h1v1h-1zM29 6h1v1h-1zM99 7h1v1h-1zM27 8h1v1h-1zM10 9h1v1h-1zM13 9h1v1h-1zM24 9h1v1h-1zM63 9h1v1h-1zM65 9h1v1h-1zM3 10h1v1h-1zM12 11h1v1h-1zM65 12h1v1h-1zM74 12h1v1h-1zM72 14h1v1h-1zM94 14h1v1h-1zM13 15h1v1h-1zM17 15h1v1h-1zM45 15h1v1h-1zM50 15h1v1h-1zM50 16h1v1h-1zM53 16h1v1h-1zM60 16h1v1h-1zM66 16h1v1h-1zM84 16h1v1h-1zM79 17h1v1h-1zM40 18h1v1h-1zM47 18h1v1h-1zM15 19h1v1h-1zM64 19h1v1h-1zM70 21h1v1h-1zM97 22h1v1h-1zM40 25h1v1h-1zM50 25h1v1h-1zM65 25h1v1h-1zM65 26h1v1h-1zM82 26h1v1h-1zM9 27h1v1h-1zM61 27h1v1h-1zM31 28h1v1h-1zM81 28h1v1h-1zM19 29h1v1h-1zM20 30h1v1h-1zM31 30h1v1h-1zM36 30h1v1h-1zM55 30h1v1h-1zM64 30h1v1h-1zM59 32h1v1h-1zM39 35h1v1h-1zM72 36h1v1h-1zM16 37h1v1h-1zM95 37h1v1h-1zM59 38h1v1h-1zM72 38h1v1h-1zM9 39h1v1h-1zM24 39h1v1h-1zM78 40h1v1h-1zM79 41h1v1h-1zM40 42h1v1h-1zM53 43h1v1h-1zM12 44h1v1h-1zM20 44h1v1h-1zM95 45h1v1h-1zM95 46h1v1h-1zM20 47h1v1h-1zM51 47h1v1h-1zM56 47h1v1h-1zM27 48h1v1h-1zM67 48h1v1h-1zM97 48h1v1h-1zM13 49h1v1h-1zM53 49h1v1h-1zM76 50h1v1h-1zM82 50h1v1h-1zM92 53h1v1h-1zM30 54h1v1h-1zM19 55h1v1h-1zM76 55h1v1h-1zM7 56h1v1h-1zM79 56h1v1h-1zM31 57h1v1h-1zM35 57h1v1h-1zM89 58h1v1h-1zM18 59h1v1h-1zM21 59h2v1h-2zM27 60h1v1h-1zM50 60h1v1h-1zM49 61h1v1h-1zM82 61h1v1h-1zM82 63h1v1h-1zM13 65h1v1h-1zM52 66h1v1h-1zM64 66h1v1h-1zM67 66h1v1h-1zM79 66h1v1h-1zM5 67h1v1h-1zM8 68h1v1h-1zM16 69h1v1h-1zM42 69h1v1h-1zM78 69h1v1h-1zM38 70h1v1h-1zM89 70h1v1h-1zM95 70h1v1h-1zM34 72h1v1h-1zM2 73h1v1h-1zM18 74h1v1h-1zM23 74h1v1h-1zM53 74h1v1h-1zM12 76h2v1h-2zM53 76h1v1h-1zM57 77h1v1h-1zM16 78h1v1h-1zM59 78h1v1h-1zM46 79h1v1h-1zM39 80h1v1h-1zM33 83h1v1h-1zM74 84h1v1h-1zM53 85h1v1h-1zM78 85h1v1h-1zM63 87h1v1h-1zM1 88h1v1h-1zM11 88h1v1h-1zM58 88h1v1h-1zM93 88h1v1h-1zM64 89h1v1h-1zM76 89h1v1h-1zM78 89h1v1h-1zM41 90h1v1h-1zM65 90h1v1h-1zM74 93h1v1h-1zM21 94h1v1h-1zM95 95h1v1h-1zM67 96h1v1h-1zM74 97h1v1h-1zM15 98h1v1h-1zM36 98h1v1h-1zM62 98h1v1h-1zM36 99h1v1h-1zM95 99h1v1h-1z"/>
<path fill="#009FFF" d="M11 0h1v1h-1zM16 0h1v1h-1zM25 0h1v1h-1zM34 0h1v1h-1zM53 0h1v1h-1zM66 0h1v1h-1zM9 3h1v1h-1zM37 3h1v1h-1zM14 4h1v1h-1zM25 4h1v1h-1zM42 4h1v1h-1zM48 5h1v1h-1zM61 6h1v1h-1zM84 6h1v1h-1zM18 7h1v1h-1zM27 7h1v1h-1zM97 7h1v1h-1zM9 8h1v1h-1zM15 8h1v1h-1zM17 8h1v1h-1zM57 8h1v1h-1zM95 8h1v1h-1zM7 9h1v1h-1zM32 9h1v1h-1zM68 9h1v1h-1zM91 9h1v1h-1zM36 10h1v1h-1zM72 10h1v1h-1zM81 10h1v1h-1zM42 11h1v1h-1zM74 11h1v1h-1zM20 12h1v1h-1zM35 12h1v1h-1zM86 12h1v1h-1zM27 14h1v1h-1zM95 14h1v1h-1zM36 15h1v1h-1zM48 15h1v1h-1zM17 16h1v1h-1zM22 16h1v1h-1zM29 16h1v1h-1zM52 16h1v1h-1zM75 16h1v1h-1zM79 16h1v1h-1zM74 17h1v1h-1zM43 18h1v1h-1zM5 19h1v1h-1zM46 20h1v1h-1zM60 20h1v1h-1zM97 21h1v1h-1zM67 22h1v1h-1zM83 24h1v1h-1zM4 25h1v1h-1zM30 26h1v1h-1zM5 27h1v1h-1zM82 27h1v1h-1zM44 29h1v1h-1zM59 29h1v1h-1zM8 30h1v1h-1zM15 30h1v1h-1zM87 32h1v1h-1zM14 33h1v1h-1zM65 34h1v1h-1zM97 35h1v1h-1zM42 36h1v1h-1zM30 37h1v1h-1zM77 37h1v1h-1zM58 38h1v1h-1zM68 38h1v1h-1zM16 39h1v1h-1zM43 39h1v1h-1zM41 40h1v1h-1zM53 40h1v1h-1zM79 40h1v1h-1zM43 42h1v1h-1zM45 42h1v1h-1zM53 42h1v1h-1zM89 42h1v1h-1zM41 45h1v1h-1zM80 45h2v1h-2zM65 46h1v1h-1zM33 47h1v1h-1zM38 47h1v1h-1zM81 47h1v1h-1zM92 47h1v1h-1zM84 48h1v1h-1zM96 48h1v1h-1zM29 49h1v1h-1zM94 49h1v1h-1zM31 50h1v1h-1zM61 50h1v1h-1zM75 50h1v1h-1zM28 52h1v1h-1zM34 54h1v1h-1zM77 54h1v1h-1zM83 54h1v1h-1zM39 55h1v1h-1zM55 55h1v1h-1zM38 56h1v1h-1zM64 56h1v1h-1zM68 56h1v1h-1zM75 57h1v1h-1zM85 57h1v1h-1zM93 57h1v1h-1zM80 58h1v1h-1zM28 59h1v1h-1zM12 60h1v1h-1zM59 61h1v1h-1zM53 62h1v1h-1zM75 62h1v1h-1zM70 64h1v1h-1zM96 64h1v1h-1zM55 65h1v1h-1zM67 65h1v1h-1zM49 66h1v1h-1zM57 67h1v1h-1zM15 68h1v1h-1zM81 68h1v1h-1zM30 69h1v1h-1zM45 69h1v1h-1zM90 69h1v1h-1zM13 70h1v1h-1zM45 70h1v1h-1zM61 70h1v1h-1zM28 71h1v1h-1zM15 72h1v1h-1zM99 73h1v1h-1zM3 74h1v1h-1zM11 74h1v1h-1zM80 75h1v1h-1zM77 76h1v1h-1zM25 77h1v1h-1zM85 77h1v1h-1zM64 80h1v1h-1zM19 81h1v1h-1zM45 81h1v1h-1zM56 81h1v1h-1zM73 81h1v1h-1zM83 81h1v1h-1zM8 82h1v1h-1zM63 82h2v1h-2zM64 83h1v1h-1zM98 83h1v1h-1zM53 84h1v1h-1zM2 85h1v1h-1zM29 85h1v1h-1zM1 86h1v1h-1zM21 88h1v1h-1zM61 88h1v1h-1zM71 90h1v1h-1zM77 90h1v1h-1zM40 91h1v1h-1zM23 92h1v1h-1zM30 92h1v1h-1zM12 93h1v1h-1zM23 93h1v1h-1zM39 93h1v1h-1zM88 94h1v1h-1zM99 94h1v1h-1zM96 95h1v1h-1zM62 96h1v1h-1zM87 97h1v1h-1zM48 99h1v1h-1zM97 99h1v1h-1z"/>
<path fill="#00B5FF" d="M42 0h1v1h-1zM61 0h1v1h-1zM2 1h1v1h-1zM34 1h1v1h-1zM83 1h1v1h-1zM3 2h1v1h-1zM63 2h1v1h-1zM68 2h1v1h-1zM77 2h1v1h-1zM57 3h1v1h-1zM70 3h1v1h-1zM89 3h1v1h-1zM69 4h1v1h-1zM6 5h1v1h-1zM81 6h1v1h-1zM90 6h1v1h-1zM96 7h1v1h-1zM63 8h1v1h-1zM25 9h1v1h-1zM31 9h1v1h-1zM58 9h1v1h-1zM78 10h1v1h-1zM20 11h1v1h-1zM2 12h1v1h-1zM83 12h1v1h-1zM14 13h1v1h-1zM55 13h1v1h-1zM93 13h1v1h-1zM98 13h1v1h-1zM37 14h1v1h-1zM42 14h1v1h-1zM60 14h1v1h-1zM11 16h1v1h-1zM31 16h1v1h-1zM49 16h1v1h-1zM93 16h1v1h-1zM16 17h1v1h-1zM20 17h1v1h-1zM22 18h1v1h-1zM27 18h1v1h-1zM39 18h1v1h-1zM89 18h1v1h-1zM2 19h1v1h-1zM87 19h1v1h-1zM98 19h1v1h-1zM42 20h1v1h-1zM59 20h1v1h-1zM0 21h1v1h-1zM12 21h1v1h-1zM63 22h1v1h-1zM98 22h1v1h-1zM28 23h1v1h-1zM45 23h1v1h-1zM52 23h1v1h-1zM69 23h1v1h-1zM1 24h1v1h-1zM72 24h1v1h-1zM74 25h1v1h-1zM48 27h1v1h-1zM56 27h1v1h-1zM65 27h1v1h-1zM21 28h1v1h-1zM79 28h1v1h-1zM48 29h1v1h-1zM90 29h1v1h-1zM94 29h1v1h-1zM21 30h1v1h-1zM78 30h1v1h-1zM84 30h1v1h-1zM8 31h1v1h-1zM63 31h1v1h-1zM76 31h1v1h-1zM9 32h1v1h-1zM60 33h1v1h-1zM99 33h1v1h-1zM18 34h1v1h-1zM41 34h1v1h-1zM3 35h1v1h-1zM26 35h1v1h-1zM63 35h1v1h-1zM21 36h1v1h-1zM60 36h1v1h-1zM87 36h1v1h-1zM9 37h1v1h-1zM47 37h1v1h-1zM87 37h1v1h-1zM91 37h1v1h-1zM27 38h1v1h-1zM36 38h1v1h-1zM64 38h1v1h-1zM31 40h1v1h-1zM42 41h1v1h-1zM61 41h1v1h-1zM96 41h1v1h-1zM14 42h1v1h-1zM46 42h1v1h-1zM71 42h1v1h-1zM92 43h1v1h-1zM72 44h1v1h-1zM51 45h1v1h-1zM58 45h1v1h-1zM63 45h1v1h-1zM15 46h1v1h-1zM72 47h1v1h-1zM49 48h1v1h-1zM59 48h1v1h-1zM76 49h1v1h-1zM0 50h1v1h-1zM13 51h1v1h-1zM21 51h1v1h-1zM18 52h1v1h-1zM31 52h1v1h-1zM13 53h1v1h-1zM40 53h2v1h-2zM13 55h1v1h-1zM33 55h1v1h-1zM67 55h1v1h-1zM84 55h2v1h-2zM12 57h1v1h-1zM38 57h1v1h-1zM51 57h1v1h-1zM13 58h2v1h-2zM25 58h1v1h-1zM30 58h1v1h-1zM67 58h1v1h-1zM17 59h1v1h-1zM27 59h1v1h-1zM65 59h1v1h-1zM21 60h1v1h-1zM55 60h1v1h-1zM78 60h1v1h-1zM43 61h1v1h-1zM50 61h1v1h-1zM83 61h1v1h-1zM85 61h1v1h-1zM90 61h1v1h-1zM95 62h1v1h-1zM35 63h1v1h-1zM73 63h1v1h-1zM27 64h1v1h-1zM27 66h1v1h-1zM44 66h2v1h-2zM75 66h1v1h-1zM84 66h1v1h-1zM0 68h1v1h-1zM11 69h1v1h-1zM29 69h1v1h-1zM39 69h1v1h-1zM51 69h1v1h-1zM22 70h1v1h-1zM53 70h1v1h-1zM67 70h1v1h-1zM23 71h1v1h-1zM89 71h1v1h-1zM50 72h1v1h-1zM77 73h1v1h-1zM98 73h1v1h-1zM61 74h1v1h-1zM82 74h1v1h-1zM89 74h1v1h-1zM15 76h1v1h-1zM30 76h1v1h-1zM67 76h1v1h-1zM72 76h1v1h-1zM27 78h1v1h-1zM5 79h1v1h-1zM36 79h1v1h-1zM29 80h1v1h-1zM67 80h1v1h-1zM77 80h1v1h-1zM40 81h1v1h-1zM30 82h1v1h-1zM40 82h1v1h-1zM47 82h1v1h-1zM78 82h1v1h-1zM56 83h1v1h-1zM5 84h1v1h-1zM11 84h1v1h-1zM20 84h1v1h-1zM55 84h1v1h-1zM40 85h1v1h-1zM83 85h1v1h-1zM7 86h1v1h-1zM46 86h1v1h-1zM53 86h1v1h-1zM75 86h2v1h-2zM81 86h1v1h-1zM19 87h1v1h-1zM79 87h1v1h-1zM33 89h1v1h-1zM40 89h1v1h-1zM49 89h1v1h-1zM80 89h1v1h-1zM4 91h1v1h-1zM17 92h1v1h-1zM83 92h1v1h-1zM80 93h1v1h-1zM5 95h1v1h-1zM8 95h1v1h-1zM97 95h1v1h-1zM4 96h1v1h-1zM39 96h1v1h-1zM84 96h1v1h-1zM99 96h1v1h-1zM15 97h1v1h-1zM32 97h1v1h-1zM54 97h1v1h-1zM75 97h1v1h-1zM84 98h1v1h-1zM26 99h1v1h-1zM29 99h1v1h-1zM96 99h1v1h-1z"/>
<path fill="#00CAFF" d="M15 0h1v1h-1zM14 1h1v1h-1zM17 1h1v1h-1zM38 1h1v1h-1zM46 1h1v1h-1zM52 1h1v1h-1zM57 1h1v1h-1zM60 1h1v1h-1zM73 1h1v1h-1zM75 1h1v1h-1zM45 2h1v1h-1zM5 3h1v1h-1zM33 3h1v1h-1zM65 3h1v1h-1zM69 3h1v1h-1zM9 4h1v1h-1zM61 4h1v1h-1zM7 5h1v1h-1zM26 5h1v1h-1zM38 5h1v1h-1zM56 5h1v1h-1zM13 6h1v1h-1zM53 6h1v1h-1zM87 6h2v1h-2zM95 6h1v1h-1zM20 7h1v1h-1zM22 7h1v1h-1zM61 7h1v1h-1zM74 7h1v1h-1zM13 8h1v1h-1zM29 8h1v1h-1zM77 8h1v1h-1zM17 9h1v1h-1zM56 9h1v1h-1zM79 9h1v1h-1zM99 9h1v1h-1zM4 10h1v1h-1zM18 10h1v1h-1zM30 10h1v1h-1zM37 10h1v1h-1zM49 10h1v1h-1zM55 10h1v1h-1zM84 10h1v1h-1zM47 11h1v1h-1zM65 11h1v1h-1zM79 11h1v1h-1zM21 12h1v1h-1zM49 13h1v1h-1zM61 13h1v1h-1zM67 14h1v1h-1zM74 14h1v1h-1zM34 15h1v1h-1zM74 15h1v1h-1zM78 15h2v1h-2zM19 16h1v1h-1zM67 16h1v1h-1zM80 16h1v1h-1zM26 17h1v1h-1zM31 17h1v1h-1zM66 17h1v1h-1zM44 18h1v1h-1zM0 19h1v1h-1zM6 19h1v1h-1zM10 19h1v1h-1zM19 19h1v1h-1zM25 19h1v1h-1zM72 19h1v1h-1zM8 20h1v1h-1zM38 20h1v1h-1zM70 20h1v1h-1zM5 21h1v1h-1zM9 21h1v1h-1zM22 21h1v1h-1zM67 21h1v1h-1zM71 21h1v1h-1zM21 22h1v1h-1zM24 22h1v1h-1zM49 22h1v1h-1zM59 22h1v1h-1zM20 23h1v1h-1zM22 23h1v1h-1zM33 23h1v1h-1zM47 23h1v1h-1zM87 23h1v1h-1zM36 24h1v1h-1zM42 24h1v1h-1zM7 25h1v1h-1zM10 25h1v1h-1zM29 25h1v1h-1zM39 25h1v1h-1zM98 25h1v1h-1zM7 26h1v1h-1zM12 26h1v1h-1zM19 26h1v1h-1zM33 26h1v1h-1zM43 26h1v1h-1zM9 28h1v1h-1zM40 28h1v1h-1zM56 28h1v1h-1zM88 28h1v1h-1zM30 30h1v1h-1zM59 30h1v1h-1zM73 30h1v1h-1zM95 30h1v1h-1zM16 31h1v1h-1zM62 31h1v1h-1zM68 31h1v1h-1zM81 32h1v1h-1zM3 33h1v1h-1zM63 33h1v1h-1zM80 33h1v1h-1zM84 33h1v1h-1zM59 34h1v1h-1zM75 34h1v1h-1zM81 34h1v1h-1zM1 35h1v1h-1zM60 35h1v1h-1zM85 35h1v1h-1zM16 36h1v1h-1zM19 37h1v1h-1zM24 37h1v1h-1zM28 37h1v1h-1zM65 37h1v1h-1zM92 37h1v1h-1zM94 38h1v1h-1zM18 39h1v1h-1zM62 39h1v1h-1zM77 39h1v1h-1zM2 40h1v1h-1zM7 40h1v1h-1zM32 40h1v1h-1zM99 40h1v1h-1zM50 41h1v1h-1zM58 41h1v1h-1zM87 41h1v1h-1zM98 41h1v1h-1zM4 42h1v1h-1zM30 42h1v1h-1zM50 42h1v1h-1zM59 42h1v1h-1zM97 42h1v1h-1zM35 43h1v1h-1zM94 43h1v1h-1zM30 44h1v1h-1zM19 45h1v1h-1zM74 45h1v1h-1zM2 46h1v1h-1zM62 46h1v1h-1zM80 46h2v1h-2zM44 47h1v1h-1zM49 47h1v1h-1zM54 47h1v1h-1zM39 48h1v1h-1zM41 48h1v1h-1zM70 48h1v1h-1zM73 48h1v1h-1zM10 49h1v1h-1zM75 49h1v1h-1zM87 49h1v1h-1zM5 50h2v1h-2zM27 50h1v1h-1zM51 50h1v1h-1zM95 50h1v1h-1zM24 53h1v1h-1zM28 53h1v1h-1zM70 53h1v1h-1zM27 54h1v1h-1zM52 54h1v1h-1zM1 55h1v1h-1zM17 55h1v1h-1zM26 55h1v1h-1zM43 55h1v1h-1zM32 56h1v1h-1zM41 56h1v1h-1zM55 56h1v1h-1zM13 57h1v1h-1zM62 57h1v1h-1zM86 57h1v1h-1zM0 58h1v1h-1zM5 58h1v1h-1zM11 58h1v1h-1zM48 58h1v1h-1zM83 58h1v1h-1zM44 60h1v1h-1zM87 60h1v1h-1zM11 61h1v1h-1zM40 61h1v1h-1zM47 61h1v1h-1zM56 61h1v1h-1zM19 63h1v1h-1zM30 63h1v1h-1zM86 63h1v1h-1zM5 64h1v1h-1zM28 64h1v1h-1zM37 64h2v1h-2zM42 64h1v1h-1zM86 64h1v1h-1zM11 65h1v1h-1zM17 65h1v1h-1zM38 65h1v1h-1zM54 65h1v1h-1zM66 65h1v1h-1zM38 66h1v1h-1zM58 66h1v1h-1zM62 66h1v1h-1zM72 66h1v1h-1zM85 66h1v1h-1zM6 67h1v1h-1zM36 67h1v1h-1zM50 67h1v1h-1zM97 67h1v1h-1zM34 68h2v1h-2zM70 68h1v1h-1zM83 68h2v1h-2zM17 69h2v1h-2zM72 69h1v1h-1zM2 70h1v1h-1zM85 70h1v1h-1zM87 70h1v1h-1zM91 70h1v1h-1zM8 71h1v1h-1zM12 71h1v1h-1zM26 71h1v1h-1zM46 71h1v1h-1zM64 71h1v1h-1zM80 71h1v1h-1zM25 72h1v1h-1zM39 72h1v1h-1zM76 72h1v1h-1zM86 72h1v1h-1zM18 73h1v1h-1zM64 74h1v1h-1zM1 75h1v1h-1zM60 75h1v1h-1zM32 76h1v1h-1zM61 76h1v1h-1zM5 77h1v1h-1zM86 77h1v1h-1zM26 78h1v1h-1zM0 79h1v1h-1zM23 79h1v1h-1zM43 79h1v1h-1zM68 79h1v1h-1zM75 79h1v1h-1zM86 79h1v1h-1zM89 79h1v1h-1zM13 80h1v1h-1zM73 80h2v1h-2zM81 80h1v1h-1zM36 81h1v1h-1zM39 81h1v1h-1zM81 81h1v1h-1zM87 81h1v1h-1zM2 82h1v1h-1zM81 82h1v1h-1zM90 83h1v1h-1zM3 85h1v1h-1zM35 85h1v1h-1zM75 85h1v1h-1zM87 85h1v1h-1zM6 86h1v1h-1zM54 86h1v1h-1zM63 86h1v1h-1zM77 86h1v1h-1zM4 87h1v1h-1zM44 87h1v1h-1zM99 87h1v1h-1zM2 89h1v1h-1zM67 89h1v1h-1zM56 90h1v1h-1zM75 90h1v1h-1zM72 91h1v1h-1zM94 91h1v1h-1zM0 92h1v1h-1zM32 92h1v1h-1zM43 92h1v1h-1zM63 92h1v1h-1zM68 92h1v1h-1zM5 93h1v1h-1zM46 93h1v1h-1zM57 93h1v1h-1zM82 93h1v1h-1zM96 93h1v1h-1zM98 93h1v1h-1zM16 94h1v1h-1zM41 94h1v1h-1zM80 94h1v1h-1zM65 95h1v1h-1zM1 96h1v1h-1zM29 97h1v1h-1zM5 98h1v1h-1zM8 98h1v1h-1zM27 98h1v1h-1zM41 98h1v1h-1zM58 98h1v1h-1zM76 98h1v1h-1zM91 98h1v1h-1zM14 99h1v1h-1zM27 99h1v1h-1zM66 99h1v1h-1zM85 99h1v1h-1z"/>
<path fill="#00DFFF" d="M64 0h1v1h-1zM56 1h1v1h-1zM58 1h1v1h-1zM78 1h1v1h-1zM94 1h1v1h-1zM98 1h1v1h-1zM41 2h1v1h-1zM75 2h1v1h-1zM82 2h1v1h-1zM0 3h2v1h-2zM10 3h1v1h-1zM17 3h1v1h-1zM21 3h1v1h-1zM93 3h2v1h-2zM27 4h1v1h-1zM77 4h1v1h-1zM37 5h1v1h-1zM7 6h1v1h-1zM49 6h1v1h-1zM60 6h1v1h-1zM77 6h1v1h-1zM98 6h1v1h-1zM3 7h1v1h-1zM55 7h1v1h-1zM34 8h1v1h-1zM40 8h1v1h-1zM26 9h1v1h-1zM41 9h1v1h-1zM88 9h1v1h-1zM6 10h1v1h-1zM73 10h1v1h-1zM45 11h1v1h-1zM60 11h1v1h-1zM22 12h1v1h-1zM30 12h1v1h-1zM36 13h1v1h-1zM56 13h1v1h-1zM59 13h1v1h-1zM3 14h1v1h-1zM15 14h1v1h-1zM54 14h1v1h-1zM96 14h1v1h-1zM20 16h1v1h-1zM32 16h1v1h-1zM55 16h1v1h-1zM63 16h1v1h-1zM86 16h1v1h-1zM36 17h1v1h-1zM89 17h1v1h-1zM99 17h1v1h-1zM75 18h1v1h-1zM45 19h1v1h-1zM76 19h1v1h-1zM90 19h1v1h-1zM21 20h1v1h-1zM50 20h1v1h-1zM46 21h1v1h-1zM66 21h1v1h-1zM4 22h1v1h-1zM44 22h1v1h-1zM39 23h1v1h-1zM57 23h1v1h-1zM65 23h1v1h-1zM9 24h1v1h-1zM84 24h1v1h-1zM90 24h1v1h-1zM12 25h1v1h-1zM95 25h1v1h-1zM70 26h1v1h-1zM39 27h1v1h-1zM44 27h1v1h-1zM51 27h1v1h-1zM59 27h1v1h-1zM70 27h1v1h-1zM34 28h3v1h-3zM44 28h1v1h-1zM46 28h1v1h-1zM55 28h1v1h-1zM15 29h1v1h-1zM40 29h1v1h-1zM96 29h1v1h-1zM33 30h1v1h-1zM49 30h1v1h-1zM62 30h1v1h-1zM89 30h1v1h-1zM50 31h1v1h-1zM60 31h1v1h-1zM85 31h1v1h-1zM28 32h1v1h-1zM7 33h1v1h-1zM39 33h1v1h-1zM95 33h1v1h-1zM12 34h1v1h-1zM38 34h1v1h-1zM42 34h1v1h-1zM6 35h1v1h-1zM16 35h1v1h-1zM25 37h1v1h-1zM55 37h1v1h-1zM57 37h1v1h-1zM80 37h2v1h-2zM99 37h1v1h-1zM44 38h1v1h-1zM52 38h1v1h-1zM98 38h1v1h-1zM42 39h1v1h-1zM64 39h1v1h-1zM26 40h1v1h-1zM49 40h1v1h-1zM1 41h1v1h-1zM7 41h1v1h-1zM12 41h1v1h-1zM23 41h1v1h-1zM36 41h1v1h-1zM66 41h1v1h-1zM69 41h1v1h-1zM94 41h1v1h-1zM62 42h1v1h-1zM9 43h1v1h-1zM26 43h1v1h-1zM39 43h1v1h-1zM14 44h1v1h-1zM16 44h1v1h-1zM21 44h1v1h-1zM45 44h1v1h-1zM68 44h1v1h-1zM76 44h1v1h-1zM97 44h1v1h-1zM20 45h1v1h-1zM30 45h1v1h-1zM57 45h1v1h-1zM79 46h1v1h-1zM85 46h1v1h-1zM94 46h1v1h-1zM45 47h1v1h-1zM69 47h1v1h-1zM85 47h1v1h-1zM18 48h1v1h-1zM32 48h1v1h-1zM12 49h1v1h-1zM63 49h1v1h-1zM82 49h1v1h-1zM88 49h1v1h-1zM77 50h1v1h-1zM81 50h1v1h-1zM4 51h1v1h-1zM17 51h1v1h-1zM29 51h1v1h-1zM68 51h1v1h-1zM91 51h1v1h-1zM97 51h1v1h-1zM53 52h1v1h-1zM58 52h1v1h-1zM31 53h1v1h-1zM56 53h1v1h-1zM58 53h1v1h-1zM65 53h1v1h-1zM79 53h1v1h-1zM5 54h1v1h-1zM62 54h1v1h-1zM71 54h1v1h-1zM87 54h1v1h-1zM27 55h2v1h-2zM32 55h1v1h-1zM40 55h1v1h-1zM66 55h1v1h-1zM48 56h1v1h-1zM63 56h1v1h-1zM76 56h1v1h-1zM98 56h1v1h-1zM2 57h1v1h-1zM5 57h1v1h-1zM8 57h1v1h-1zM14 57h1v1h-1zM23 57h1v1h-1zM34 57h1v1h-1zM49 57h1v1h-1zM34 58h1v1h-1zM79 58h1v1h-1zM82 58h1v1h-1zM6 59h1v1h-1zM38 59h1v1h-1zM44 59h1v1h-1zM47 59h1v1h-1zM54 59h1v1h-1zM47 60h1v1h-1zM47 62h1v1h-1zM0 63h1v1h-1zM47 63h1v1h-1zM13 64h1v1h-1zM51 64h1v1h-1zM58 64h1v1h-1zM44 65h1v1h-1zM62 65h1v1h-1zM80 65h1v1h-1zM3 66h1v1h-1zM9 66h1v1h-1zM33 66h1v1h-1zM63 66h1v1h-1zM1 67h2v1h-2zM41 67h1v1h-1zM85 67h1v1h-1zM13 68h1v1h-1zM30 68h1v1h-1zM50 68h1v1h-1zM59 68h1v1h-1zM28 69h1v1h-1zM64 69h1v1h-1zM80 69h1v1h-1zM3 70h1v1h-1zM48 70h1v1h-1zM51 70h1v1h-1zM54 70h1v1h-1zM64 70h1v1h-1zM49 71h1v1h-1zM73 71h1v1h-1zM97 71h1v1h-1zM21 72h1v1h-1zM40 72h1v1h-1zM43 72h1v1h-1zM64 72h1v1h-1zM84 72h1v1h-1zM98 72h1v1h-1zM42 73h1v1h-1zM14 74h1v1h-1zM20 74h1v1h-1zM32 74h1v1h-1zM39 75h1v1h-1zM74 75h1v1h-1zM76 75h1v1h-1zM41 76h1v1h-1zM96 76h1v1h-1zM2 77h1v1h-1zM6 77h1v1h-1zM38 77h1v1h-1zM59 77h1v1h-1zM72 77h1v1h-1zM78 77h1v1h-1zM58 78h1v1h-1zM75 78h1v1h-1zM13 79h1v1h-1zM15 79h1v1h-1zM37 79h1v1h-1zM41 79h1v1h-1zM87 79h1v1h-1zM15 80h1v1h-1zM17 80h1v1h-1zM19 80h1v1h-1zM41 80h1v1h-1zM68 80h2v1h-2zM71 80h1v1h-1zM78 80h1v1h-1zM82 80h1v1h-1zM91 80h1v1h-1zM30 81h1v1h-1zM65 81h1v1h-1zM88 81h1v1h-1zM9 82h1v1h-1zM32 82h1v1h-1zM69 82h1v1h-1zM90 82h1v1h-1zM20 83h1v1h-1zM32 83h1v1h-1zM59 83h1v1h-1zM91 83h1v1h-1zM27 84h2v1h-2zM35 84h1v1h-1zM52 84h1v1h-1zM9 85h1v1h-1zM38 85h1v1h-1zM62 85h1v1h-1zM66 85h1v1h-1zM95 85h1v1h-1zM20 86h1v1h-1zM66 86h1v1h-1zM68 86h1v1h-1zM12 87h1v1h-1zM28 87h1v1h-1zM88 87h1v1h-1zM19 88h1v1h-1zM26 88h1v1h-1zM89 88h1v1h-1zM15 89h1v1h-1zM25 89h1v1h-1zM57 89h1v1h-1zM68 89h1v1h-1zM19 90h1v1h-1zM3 91h1v1h-1zM7 91h1v1h-1zM56 91h1v1h-1zM22 92h1v1h-1zM62 92h1v1h-1zM7 93h1v1h-1zM17 93h1v1h-1zM28 93h1v1h-1zM55 93h1v1h-1zM61 93h1v1h-1zM92 93h1v1h-1zM7 94h1v1h-1zM28 94h1v1h-1zM44 94h1v1h-1zM51 94h1v1h-1zM67 94h1v1h-1zM76 94h1v1h-1zM95 94h1v1h-1zM25 95h1v1h-1zM32 95h1v1h-1zM73 95h1v1h-1zM83 95h1v1h-1zM23 96h1v1h-1zM51 96h1v1h-1zM56 96h1v1h-1zM75 96h1v1h-1zM5 97h1v1h-1zM36 97h1v1h-1zM4 98h1v1h-1zM18 98h2v1h-2zM75 98h1v1h-1zM18 99h1v1h-1zM37 99h1v1h-1z"/>
<path fill="#00F4FF" d="M23 0h1v1h-1zM32 0h1v1h-1zM91 0h1v1h-1zM3 1h1v1h-1zM19 1h1v1h-1zM44 1h1v1h-1zM50 1h1v1h-1zM72 1h1v1h-1zM91 1h1v1h-1zM35 2h1v1h-1zM54 2h1v1h-1zM83 2h1v1h-1zM35 3h1v1h-1zM51 3h1v1h-1zM83 3h1v1h-1zM4 4h1v1h-1zM8 4h1v1h-1zM21 4h1v1h-1zM68 4h1v1h-1zM14 5h1v1h-1zM66 5h1v1h-1zM76 5h2v1h-2zM16 6h1v1h-1zM41 6h1v1h-1zM85 6h1v1h-1zM92 6h1v1h-1zM19 7h1v1h-1zM23 7h1v1h-1zM64 7h1v1h-1zM83 7h1v1h-1zM58 8h1v1h-1zM37 9h1v1h-1zM60 9h1v1h-1zM78 9h1v1h-1zM10 10h1v1h-1zM12 10h1v1h-1zM32 10h1v1h-1zM44 10h1v1h-1zM53 10h1v1h-1zM67 10h1v1h-1zM7 11h1v1h-1zM35 11h1v1h-1zM51 11h1v1h-1zM70 11h1v1h-1zM81 11h1v1h-1zM54 12h1v1h-1zM60 12h1v1h-1zM62 12h1v1h-1zM64 12h1v1h-1zM98 12h1v1h-1zM60 13h1v1h-1zM95 13h1v1h-1zM97 13h1v1h-1zM38 14h1v1h-1zM56 14h1v1h-1zM58 14h1v1h-1zM68 14h1v1h-1zM93 14h1v1h-1zM97 14h1v1h-1zM38 15h1v1h-1zM44 15h1v1h-1zM75 15h1v1h-1zM82 15h1v1h-1zM84 15h1v1h-1zM96 15h1v1h-1zM7 16h1v1h-1zM18 16h1v1h-1zM21 16h1v1h-1zM72 16h1v1h-1zM98 16h1v1h-1zM1 17h1v1h-1zM98 17h1v1h-1zM23 18h1v1h-1zM28 18h1v1h-1zM11 19h1v1h-1zM22 19h1v1h-1zM44 19h1v1h-1zM49 19h1v1h-1zM6 20h1v1h-1zM35 20h1v1h-1zM33 21h1v1h-1zM98 21h1v1h-1zM16 22h1v1h-1zM32 22h1v1h-1zM46 22h1v1h-1zM71 22h1v1h-1zM76 22h1v1h-1zM87 22h1v1h-1zM27 23h1v1h-1zM40 23h1v1h-1zM84 23h1v1h-1zM88 23h1v1h-1zM19 24h1v1h-1zM40 24h1v1h-1zM8 25h1v1h-1zM56 25h1v1h-1zM58 25h1v1h-1zM11 26h1v1h-1zM17 26h1v1h-1zM23 26h1v1h-1zM37 26h2v1h-2zM94 26h1v1h-1zM1 27h1v1h-1zM34 27h1v1h-1zM36 27h1v1h-1zM41 27h1v1h-1zM54 27h1v1h-1zM66 27h1v1h-1zM81 27h1v1h-1zM1 28h1v1h-1zM49 28h1v1h-1zM87 28h1v1h-1zM6 29h1v1h-1zM28 29h1v1h-1zM61 29h1v1h-1zM86 29h1v1h-1zM22 30h1v1h-1zM24 30h1v1h-1zM67 30h1v1h-1zM74 30h1v1h-1zM19 31h1v1h-1zM79 31h1v1h-1zM98 31h1v1h-1zM6 32h1v1h-1zM48 32h1v1h-1zM50 32h1v1h-1zM82 32h1v1h-1zM96 32h1v1h-1zM11 33h1v1h-1zM29 33h1v1h-1zM43 33h1v1h-1zM47 33h1v1h-1zM79 33h1v1h-1zM14 34h1v1h-1zM17 34h1v1h-1zM22 34h2v1h-2zM26 34h1v1h-1zM49 34h1v1h-1zM61 34h1v1h-1zM63 34h1v1h-1zM35 35h1v1h-1zM73 35h1v1h-1zM86 35h1v1h-1zM93 35h1v1h-1zM15 36h1v1h-1zM23 36h1v1h-1zM71 36h1v1h-1zM78 36h1v1h-1zM54 37h1v1h-1zM69 37h1v1h-1zM73 37h1v1h-1zM85 37h1v1h-1zM21 38h1v1h-1zM74 38h1v1h-1zM76 38h1v1h-1zM34 39h1v1h-1zM63 40h1v1h-1zM82 40h1v1h-1zM19 41h1v1h-1zM62 41h1v1h-1zM19 42h1v1h-1zM25 42h1v1h-1zM63 42h1v1h-1zM94 42h1v1h-1zM99 42h1v1h-1zM47 43h1v1h-1zM81 43h1v1h-1zM0 44h1v1h-1zM3 44h1v1h-1zM96 44h1v1h-1zM99 44h1v1h-1zM33 45h1v1h-1zM35 45h1v1h-1zM0 46h1v1h-1zM21 46h1v1h-1zM32 46h1v1h-1zM83 46h1v1h-1zM91 46h1v1h-1zM93 46h1v1h-1zM97 47h1v1h-1zM2 48h1v1h-1zM25 48h1v1h-1zM44 48h1v1h-1zM48 48h1v1h-1zM56 48h1v1h-1zM26 49h1v1h-1zM57 49h1v1h-1zM72 49h1v1h-1zM86 49h1v1h-1zM98 49h1v1h-1zM1 50h1v1h-1zM7 50h1v1h-1zM11 51h1v1h-1zM19 51h1v1h-1zM41 51h1v1h-1zM55 51h1v1h-1zM60 51h1v1h-1zM78 51h1v1h-1zM93 51h1v1h-1zM6 52h1v1h-1zM22 52h1v1h-1zM38 52h1v1h-1zM43 52h1v1h-1zM73 52h1v1h-1zM98 52h1v1h-1zM6 53h1v1h-1zM77 53h1v1h-1zM46 54h1v1h-1zM82 54h1v1h-1zM20 55h1v1h-1zM42 55h1v1h-1zM44 55h1v1h-1zM98 55h1v1h-1zM13 56h1v1h-1zM40 56h1v1h-1zM1 57h1v1h-1zM20 57h1v1h-1zM63 57h1v1h-1zM76 57h1v1h-1zM39 58h1v1h-1zM88 58h1v1h-1zM51 59h1v1h-1zM82 59h1v1h-1zM20 60h1v1h-1zM35 60h1v1h-1zM67 60h1v1h-1zM70 61h1v1h-1zM95 61h1v1h-1zM2 62h2v1h-2zM33 62h1v1h-1zM43 62h1v1h-1zM55 62h1v1h-1zM1 63h1v1h-1zM10 63h1v1h-1zM28 63h1v1h-1zM75 63h1v1h-1zM0 64h1v1h-1zM6 64h1v1h-1zM10 64h1v1h-1zM48 64h1v1h-1zM88 64h1v1h-1zM19 65h1v1h-1zM59 65h1v1h-1zM61 65h1v1h-1zM63 65h1v1h-1zM1 66h1v1h-1zM30 66h1v1h-1zM39 66h1v1h-1zM80 66h1v1h-1zM35 67h1v1h-1zM45 67h1v1h-1zM55 67h1v1h-1zM86 67h1v1h-1zM89 67h1v1h-1zM94 67h1v1h-1zM98 67h1v1h-1zM31 68h1v1h-1zM69 68h1v1h-1zM76 68h2v1h-2zM3 69h1v1h-1zM15 69h1v1h-1zM36 69h1v1h-1zM56 69h1v1h-1zM73 69h1v1h-1zM86 69h1v1h-1zM8 70h2v1h-2zM33 70h1v1h-1zM44 70h1v1h-1zM18 71h1v1h-1zM32 71h1v1h-1zM37 71h1v1h-1zM39 71h1v1h-1zM56 71h1v1h-1zM66 71h1v1h-1zM76 71h1v1h-1zM78 71h1v1h-1zM16 72h1v1h-1zM41 72h1v1h-1zM44 72h1v1h-1zM83 72h1v1h-1zM89 72h1v1h-1zM9 73h1v1h-1zM12 73h1v1h-1zM21 73h1v1h-1zM53 73h1v1h-1zM94 73h1v1h-1zM83 74h1v1h-1zM21 75h1v1h-1zM40 75h1v1h-1zM62 75h1v1h-1zM93 75h1v1h-1zM74 76h1v1h-1zM83 76h1v1h-1zM93 76h1v1h-1zM0 77h1v1h-1zM10 77h1v1h-1zM32 77h1v1h-1zM35 77h1v1h-1zM97 77h1v1h-1zM30 78h1v1h-1zM46 78h1v1h-1zM57 78h1v1h-1zM77 78h1v1h-1zM48 79h1v1h-1zM67 79h1v1h-1zM12 80h1v1h-1zM80 80h1v1h-1zM98 80h1v1h-1zM46 81h1v1h-1zM85 81h1v1h-1zM94 81h1v1h-1zM1 82h1v1h-1zM18 82h1v1h-1zM67 82h1v1h-1zM79 82h1v1h-1zM84 82h1v1h-1zM92 82h1v1h-1zM6 83h1v1h-1zM52 83h1v1h-1zM74 83h1v1h-1zM86 83h1v1h-1zM99 83h1v1h-1zM14 84h1v1h-1zM34 84h1v1h-1zM57 84h1v1h-1zM92 84h1v1h-1zM97 84h1v1h-1zM0 85h1v1h-1zM6 85h1v1h-1zM11 85h1v1h-1zM17 85h1v1h-1zM36 85h1v1h-1zM44 85h1v1h-1zM54 85h1v1h-1zM68 85h1v1h-1zM31 86h1v1h-1zM52 86h1v1h-1zM74 86h1v1h-1zM93 86h1v1h-1zM2 87h1v1h-1zM57 87h1v1h-1zM93 87h1v1h-1zM54 88h1v1h-1zM3 89h1v1h-1zM59 89h1v1h-1zM47 90h1v1h-1zM60 90h1v1h-1zM74 90h1v1h-1zM20 91h1v1h-1zM49 91h1v1h-1zM82 91h1v1h-1zM40 92h1v1h-1zM70 92h1v1h-1zM80 92h2v1h-2zM85 92h1v1h-1zM90 92h1v1h-1zM99 92h1v1h-1zM13 93h1v1h-1zM79 93h1v1h-1zM99 93h1v1h-1zM18 94h1v1h-1zM29 94h2v1h-2zM62 94h1v1h-1zM17 95h1v1h-1zM55 95h1v1h-1zM59 95h1v1h-1zM86 95h1v1h-1zM2 96h1v1h-1zM5 96h1v1h-1zM29 96h1v1h-1zM68 96h2v1h-2zM1 97h1v1h-1zM6 97h1v1h-1zM57 97h1v1h-1zM78 97h1v1h-1zM49 98h1v1h-1zM57 98h1v1h-1zM4 99h1v1h-1zM8 99h1v1h-1zM22 99h1v1h-1zM30 99h1v1h-1zM45 99h1v1h-1zM80 99h1v1h-1z"/>
<path fill="#0BFFF4" d="M5 0h1v1h-1zM47 0h1v1h-1zM52 0h1v1h-1zM63 0h1v1h-1zM70 0h1v1h-1zM75 0h1v1h-1zM83 0h1v1h-1zM93 0h1v1h-1zM7 1h1v1h-1zM62 1h2v1h-2zM93 1h1v1h-1zM14 2h1v1h-1zM19 2h1v1h-1zM34 2h1v1h-1zM66 2h1v1h-1zM8 3h1v1h-1zM73 3h1v1h-1zM24 4h1v1h-1zM47 4h1v1h-1zM55 4h1v1h-1zM70 4h1v1h-1zM83 4h1v1h-1zM12 5h1v1h-1zM19 5h1v1h-1zM27 5h1v1h-1zM32 5h1v1h-1zM42 5h1v1h-1zM64 5h1v1h-1zM73 5h1v1h-1zM11 6h1v1h-1zM47 6h1v1h-1zM50 6h1v1h-1zM79 6h1v1h-1zM89 6h1v1h-1zM12 7h1v1h-1zM66 7h1v1h-1zM87 7h1v1h-1zM7 8h1v1h-1zM42 8h1v1h-1zM55 8h1v1h-1zM84 8h1v1h-1zM4 9h1v1h-1zM69 9h1v1h-1zM73 9h1v1h-1zM76 9h1v1h-1zM96 9h2v1h-2zM15 10h1v1h-1zM79 10h1v1h-1zM25 11h1v1h-1zM78 11h1v1h-1zM92 11h1v1h-1zM15 12h1v1h-1zM50 12h1v1h-1zM76 12h2v1h-2zM80 12h1v1h-1zM85 12h1v1h-1zM87 12h2v1h-2zM90 12h1v1h-1zM93 12h2v1h-2zM27 13h1v1h-1zM51 13h1v1h-1zM88 13h1v1h-1zM16 14h1v1h-1zM22 14h1v1h-1zM36 14h1v1h-1zM49 14h1v1h-1zM64 14h1v1h-1zM81 14h1v1h-1zM87 14h1v1h-1zM89 14h1v1h-1zM6 15h1v1h-1zM20 15h1v1h-1zM40 15h1v1h-1zM49 15h1v1h-1zM72 15h1v1h-1zM81 15h1v1h-1zM42 16h1v1h-1zM62 16h1v1h-1zM82 16h1v1h-1zM52 17h1v1h-1zM54 17h1v1h-1zM64 17h1v1h-1zM26 18h1v1h-1zM30 18h1v1h-1zM34 18h1v1h-1zM58 18h1v1h-1zM3 19h1v1h-1zM29 19h1v1h-1zM31 19h1v1h-1zM50 19h1v1h-1zM63 19h1v1h-1zM22 20h1v1h-1zM26 21h1v1h-1zM41 21h1v1h-1zM51 21h1v1h-1zM65 21h1v1h-1zM26 22h1v1h-1zM39 22h1v1h-1zM62 22h1v1h-1zM72 22h1v1h-1zM7 23h1v1h-1zM36 23h1v1h-1zM59 23h1v1h-1zM75 23h1v1h-1zM80 23h1v1h-1zM95 23h1v1h-1zM8 24h1v1h-1zM12 24h1v1h-1zM21 24h1v1h-1zM46 24h1v1h-1zM22 25h1v1h-1zM44 25h1v1h-1zM61 25h1v1h-1zM67 25h1v1h-1zM71 25h1v1h-1zM73 25h1v1h-1zM79 25h1v1h-1zM85 25h1v1h-1zM1 26h1v1h-1zM55 26h1v1h-1zM3 27h1v1h-1zM19 27h1v1h-1zM42 27h1v1h-1zM49 27h1v1h-1zM52 27h1v1h-1zM27 28h1v1h-1zM29 28h1v1h-1zM41 28h1v1h-1zM51 28h1v1h-1zM67 28h1v1h-1zM18 29h1v1h-1zM38 29h1v1h-1zM75 29h1v1h-1zM82 29h1v1h-1zM16 30h1v1h-1zM18 30h2v1h-2zM50 30h1v1h-1zM92 30h1v1h-1zM0 31h1v1h-1zM31 32h1v1h-1zM35 33h1v1h-1zM41 33h2v1h-2zM7 34h1v1h-1zM55 34h1v1h-1zM62 34h1v1h-1zM73 34h1v1h-1zM86 34h1v1h-1zM88 34h1v1h-1zM51 35h1v1h-1zM98 35h1v1h-1zM13 36h1v1h-1zM24 36h1v1h-1zM45 36h1v1h-1zM53 36h1v1h-1zM83 36h1v1h-1zM8 37h1v1h-1zM11 37h1v1h-1zM64 37h1v1h-1zM4 38h1v1h-1zM9 38h1v1h-1zM16 38h1v1h-1zM42 38h1v1h-1zM57 38h1v1h-1zM80 38h1v1h-1zM87 38h1v1h-1zM96 38h1v1h-1zM99 38h1v1h-1zM25 39h1v1h-1zM48 39h1v1h-1zM79 39h1v1h-1zM95 39h1v1h-1zM29 40h1v1h-1zM21 41h1v1h-1zM39 41h1v1h-1zM54 41h1v1h-1zM70 41h1v1h-1zM73 41h1v1h-1zM99 41h1v1h-1zM39 42h1v1h-1zM48 42h1v1h-1zM64 42h1v1h-1zM96 42h1v1h-1zM58 43h1v1h-1zM89 43h1v1h-1zM17 44h1v1h-1zM44 44h1v1h-1zM70 44h2v1h-2zM83 44h1v1h-1zM8 45h1v1h-1zM14 45h1v1h-1zM37 45h1v1h-1zM45 45h1v1h-1zM4 46h1v1h-1zM12 46h1v1h-1zM39 46h1v1h-1zM88 46h1v1h-1zM11 47h1v1h-1zM25 47h1v1h-1zM46 47h1v1h-1zM48 47h1v1h-1zM61 47h1v1h-1zM95 47h1v1h-1zM10 48h1v1h-1zM17 48h1v1h-1zM23 48h1v1h-1zM42 48h1v1h-1zM58 48h1v1h-1zM69 48h1v1h-1zM18 49h1v1h-1zM40 49h2v1h-2zM56 49h1v1h-1zM59 49h1v1h-1zM46 50h1v1h-1zM55 50h1v1h-1zM62 50h1v1h-1zM65 50h1v1h-1zM50 51h1v1h-1zM70 51h1v1h-1zM85 51h1v1h-1zM88 51h1v1h-1zM4 52h1v1h-1zM12 52h1v1h-1zM14 52h1v1h-1zM68 52h1v1h-1zM91 52h1v1h-1zM94 52h1v1h-1zM2 53h1v1h-1zM17 53h1v1h-1zM19 53h1v1h-1zM23 53h1v1h-1zM85 53h1v1h-1zM70 54h1v1h-1zM93 54h1v1h-1zM5 55h1v1h-1zM11 55h1v1h-1zM83 55h1v1h-1zM86 55h1v1h-1zM4 56h1v1h-1zM18 56h1v1h-1zM21 56h1v1h-1zM42 56h1v1h-1zM72 56h2v1h-2zM74 57h1v1h-1zM77 57h1v1h-1zM79 57h1v1h-1zM17 58h1v1h-1zM78 58h1v1h-1zM84 58h1v1h-1zM93 58h1v1h-1zM8 59h1v1h-1zM16 59h1v1h-1zM42 59h1v1h-1zM67 59h1v1h-1zM96 59h1v1h-1zM17 60h1v1h-1zM19 60h1v1h-1zM26 60h1v1h-1zM30 60h1v1h-1zM33 60h1v1h-1zM39 60h1v1h-1zM74 60h1v1h-1zM94 60h1v1h-1zM97 60h1v1h-1zM37 61h1v1h-1zM54 61h1v1h-1zM64 61h1v1h-1zM75 61h1v1h-1zM81 61h1v1h-1zM4 62h1v1h-1zM32 62h1v1h-1zM37 62h2v1h-2zM52 62h1v1h-1zM78 62h1v1h-1zM80 62h1v1h-1zM97 62h1v1h-1zM25 63h1v1h-1zM59 63h1v1h-1zM67 63h1v1h-1zM90 63h1v1h-1zM7 64h1v1h-1zM61 64h1v1h-1zM80 64h1v1h-1zM12 65h1v1h-1zM29 65h1v1h-1zM92 65h1v1h-1zM12 66h1v1h-1zM18 66h1v1h-1zM20 66h1v1h-1zM29 66h1v1h-1zM32 66h1v1h-1zM68 66h1v1h-1zM86 66h1v1h-1zM93 66h2v1h-2zM21 67h1v1h-1zM26 67h1v1h-1zM43 67h1v1h-1zM62 67h1v1h-1zM70 67h1v1h-1zM75 67h1v1h-1zM20 68h1v1h-1zM36 68h1v1h-1zM51 68h1v1h-1zM74 68h1v1h-1zM14 69h1v1h-1zM25 69h1v1h-1zM59 69h1v1h-1zM95 69h1v1h-1zM0 70h1v1h-1zM19 70h1v1h-1zM70 70h1v1h-1zM99 70h1v1h-1zM70 71h1v1h-1zM88 71h1v1h-1zM14 72h1v1h-1zM31 72h1v1h-1zM94 72h1v1h-1zM46 73h1v1h-1zM58 73h1v1h-1zM65 73h1v1h-1zM8 74h1v1h-1zM56 74h1v1h-1zM17 75h1v1h-1zM45 75h1v1h-1zM69 75h1v1h-1zM98 75h1v1h-1zM27 76h1v1h-1zM37 76h1v1h-1zM49 76h1v1h-1zM58 76h1v1h-1zM71 76h1v1h-1zM50 77h1v1h-1zM37 78h1v1h-1zM41 78h1v1h-1zM6 79h1v1h-1zM81 79h1v1h-1zM95 79h1v1h-1zM1 80h2v1h-2zM8 80h1v1h-1zM32 80h1v1h-1zM38 80h1v1h-1zM43 80h1v1h-1zM58 80h1v1h-1zM89 80h1v1h-1zM11 81h1v1h-1zM42 81h1v1h-1zM50 81h1v1h-1zM11 82h1v1h-1zM50 82h1v1h-1zM96 82h1v1h-1zM57 83h1v1h-1zM71 83h1v1h-1zM97 83h1v1h-1zM8 84h1v1h-1zM50 84h1v1h-1zM7 85h1v1h-1zM28 85h1v1h-1zM85 85h1v1h-1zM91 85h1v1h-1zM55 86h1v1h-1zM0 87h1v1h-1zM25 87h1v1h-1zM29 87h1v1h-1zM60 87h1v1h-1zM94 87h1v1h-1zM98 87h1v1h-1zM18 88h1v1h-1zM49 88h1v1h-1zM53 88h1v1h-1zM64 88h1v1h-1zM75 88h1v1h-1zM91 88h1v1h-1zM98 88h1v1h-1zM9 89h1v1h-1zM23 89h1v1h-1zM65 89h1v1h-1zM7 90h1v1h-1zM32 90h1v1h-1zM54 90h1v1h-1zM59 90h1v1h-1zM76 90h1v1h-1zM97 90h2v1h-2zM22 91h1v1h-1zM21 92h1v1h-1zM41 92h1v1h-1zM66 92h1v1h-1zM14 93h1v1h-1zM16 93h1v1h-1zM41 93h1v1h-1zM70 93h1v1h-1zM86 93h1v1h-1zM5 94h1v1h-1zM14 94h1v1h-1zM43 94h1v1h-1zM47 94h1v1h-1zM90 94h1v1h-1zM18 95h1v1h-1zM22 95h1v1h-1zM38 95h1v1h-1zM48 95h1v1h-1zM50 95h1v1h-1zM52 95h1v1h-1zM77 95h1v1h-1zM20 96h1v1h-1zM36 96h1v1h-1zM86 96h1v1h-1zM92 96h1v1h-1zM28 97h1v1h-1zM35 97h1v1h-1zM82 97h1v1h-1zM88 97h2v1h-2zM91 97h1v1h-1zM80 98h1v1h-1zM20 99h1v1h-1zM25 99h1v1h-1zM50 99h1v1h-1zM59 99h1v1h-1zM73 99h2v1h-2z"/>
<path fill="#20FFDF" d="M4 0h1v1h-1zM8 0h1v1h-1zM57 0h1v1h-1zM60 0h1v1h-1zM68 0h1v1h-1zM90 0h1v1h-1zM94 0h1v1h-1zM12 1h1v1h-1zM25 1h2v1h-2zM30 1h1v1h-1zM1 2h1v1h-1zM15 2h1v1h-1zM26 2h1v1h-1zM76 2h1v1h-1zM92 2h1v1h-1zM97 2h1v1h-1zM20 3h1v1h-1zM24 3h1v1h-1zM29 3h2v1h-2zM50 3h1v1h-1zM76 3h1v1h-1zM85 3h1v1h-1zM0 4h1v1h-1zM74 4h1v1h-1zM90 4h1v1h-1zM11 5h1v1h-1zM13 5h1v1h-1zM20 5h1v1h-1zM31 5h1v1h-1zM41 5h1v1h-1zM65 5h1v1h-1zM78 5h1v1h-1zM91 5h2v1h-2zM99 5h1v1h-1zM34 6h1v1h-1zM38 6h2v1h-2zM46 6h1v1h-1zM24 7h1v1h-1zM78 7h1v1h-1zM98 7h1v1h-1zM3 8h1v1h-1zM12 8h1v1h-1zM32 8h1v1h-1zM36 8h1v1h-1zM47 8h1v1h-1zM50 8h1v1h-1zM98 8h1v1h-1zM44 9h1v1h-1zM20 10h1v1h-1zM24 10h1v1h-1zM64 10h1v1h-1zM95 10h1v1h-1zM5 11h2v1h-2zM21 11h1v1h-1zM30 11h2v1h-2zM41 11h1v1h-1zM46 11h1v1h-1zM49 11h1v1h-1zM53 11h1v1h-1zM80 11h1v1h-1zM86 11h1v1h-1zM97 11h1v1h-1zM56 12h1v1h-1zM13 13h1v1h-1zM22 13h1v1h-1zM28 13h1v1h-1zM33 13h1v1h-1zM62 13h1v1h-1zM67 13h1v1h-1zM80 13h1v1h-1zM6 14h1v1h-1zM29 14h2v1h-2zM53 14h1v1h-1zM69 14h1v1h-1zM1 15h1v1h-1zM9 15h1v1h-1zM14 15h1v1h-1zM59 15h1v1h-1zM65 15h1v1h-1zM67 15h1v1h-1zM69 15h1v1h-1zM98 15h2v1h-2zM6 16h1v1h-1zM81 16h1v1h-1zM89 16h1v1h-1zM0 17h1v1h-1zM84 17h1v1h-1zM31 18h1v1h-1zM99 18h1v1h-1zM24 19h1v1h-1zM56 19h1v1h-1zM60 19h1v1h-1zM75 19h1v1h-1zM9 20h2v1h-2zM73 20h1v1h-1zM86 20h1v1h-1zM13 21h2v1h-2zM19 21h1v1h-1zM23 21h1v1h-1zM47 21h1v1h-1zM53 21h1v1h-1zM74 21h1v1h-1zM41 22h1v1h-1zM48 22h1v1h-1zM54 22h1v1h-1zM61 22h1v1h-1zM80 22h1v1h-1zM84 22h1v1h-1zM95 22h1v1h-1zM99 22h1v1h-1zM12 23h1v1h-1zM15 23h1v1h-1zM26 23h1v1h-1zM43 23h1v1h-1zM48 23h2v1h-2zM63 23h1v1h-1zM83 23h1v1h-1zM86 23h1v1h-1zM10 24h1v1h-1zM33 24h1v1h-1zM38 24h1v1h-1zM48 24h1v1h-1zM57 24h1v1h-1zM66 24h1v1h-1zM73 24h1v1h-1zM81 24h1v1h-1zM95 24h1v1h-1zM25 25h1v1h-1zM27 25h1v1h-1zM49 25h1v1h-1zM55 25h1v1h-1zM75 25h1v1h-1zM88 25h1v1h-1zM6 26h1v1h-1zM10 26h1v1h-1zM18 26h1v1h-1zM31 26h1v1h-1zM48 26h1v1h-1zM54 26h1v1h-1zM67 26h1v1h-1zM71 26h1v1h-1zM73 26h1v1h-1zM88 26h1v1h-1zM8 27h1v1h-1zM13 27h1v1h-1zM23 27h1v1h-1zM63 27h1v1h-1zM75 27h1v1h-1zM87 27h1v1h-1zM98 27h1v1h-1zM10 28h1v1h-1zM13 28h1v1h-1zM18 28h2v1h-2zM28 28h1v1h-1zM53 28h1v1h-1zM68 28h1v1h-1zM94 28h1v1h-1zM95 29h1v1h-1zM6 30h1v1h-1zM63 30h1v1h-1zM2 31h1v1h-1zM29 31h1v1h-1zM37 31h1v1h-1zM57 31h1v1h-1zM59 31h1v1h-1zM78 31h1v1h-1zM12 32h1v1h-1zM18 32h1v1h-1zM24 32h1v1h-1zM45 32h1v1h-1zM49 32h1v1h-1zM58 32h1v1h-1zM63 32h1v1h-1zM0 33h1v1h-1zM17 33h1v1h-1zM24 33h1v1h-1zM40 33h1v1h-1zM54 33h1v1h-1zM56 33h1v1h-1zM59 33h1v1h-1zM69 33h1v1h-1zM77 33h1v1h-1zM15 34h2v1h-2zM33 34h1v1h-1zM53 34h1v1h-1zM95 34h1v1h-1zM2 35h1v1h-1zM10 35h1v1h-1zM44 35h1v1h-1zM47 35h1v1h-1zM50 35h1v1h-1zM55 35h1v1h-1zM57 35h1v1h-1zM68 35h1v1h-1zM94 36h2v1h-2zM7 37h1v1h-1zM17 37h1v1h-1zM52 37h1v1h-1zM71 37h1v1h-1zM74 37h1v1h-1zM90 37h1v1h-1zM50 38h1v1h-1zM53 38h1v1h-1zM62 38h1v1h-1zM93 38h1v1h-1zM3 39h1v1h-1zM14 39h1v1h-1zM85 39h1v1h-1zM99 39h1v1h-1zM9 40h1v1h-1zM76 40h1v1h-1zM98 40h1v1h-1zM18 41h1v1h-1zM43 41h1v1h-1zM49 41h1v1h-1zM51 41h1v1h-1zM21 42h1v1h-1zM41 42h1v1h-1zM81 42h1v1h-1zM95 42h1v1h-1zM28 43h1v1h-1zM35 44h1v1h-1zM52 44h1v1h-1zM64 44h4v1h-4zM69 44h1v1h-1zM84 44h1v1h-1zM65 45h1v1h-1zM69 45h1v1h-1zM83 45h1v1h-1zM89 45h1v1h-1zM1 46h1v1h-1zM6 46h1v1h-1zM48 46h1v1h-1zM63 46h1v1h-1zM12 47h1v1h-1zM34 47h1v1h-1zM40 47h1v1h-1zM50 47h1v1h-1zM73 47h1v1h-1zM87 47h1v1h-1zM99 47h1v1h-1zM19 48h1v1h-1zM47 48h1v1h-1zM55 48h1v1h-1zM78 48h1v1h-1zM88 48h1v1h-1zM92 48h1v1h-1zM98 48h1v1h-1zM0 49h1v1h-1zM25 49h1v1h-1zM74 49h1v1h-1zM90 49h1v1h-1zM96 50h1v1h-1zM39 51h1v1h-1zM43 51h1v1h-1zM53 51h1v1h-1zM32 52h1v1h-1zM56 52h1v1h-1zM80 52h1v1h-1zM89 52h1v1h-1zM93 52h1v1h-1zM15 53h1v1h-1zM42 53h1v1h-1zM50 53h1v1h-1zM71 53h1v1h-1zM90 53h1v1h-1zM10 54h1v1h-1zM20 54h2v1h-2zM41 54h1v1h-1zM59 54h1v1h-1zM98 54h1v1h-1zM37 55h1v1h-1zM87 55h1v1h-1zM95 55h1v1h-1zM99 55h1v1h-1zM26 56h1v1h-1zM29 56h1v1h-1zM36 56h1v1h-1zM43 56h1v1h-1zM3 57h2v1h-2zM44 57h1v1h-1zM50 57h1v1h-1zM20 58h1v1h-1zM23 58h1v1h-1zM53 58h1v1h-1zM85 58h1v1h-1zM2 59h1v1h-1zM34 59h1v1h-1zM69 59h1v1h-1zM91 59h1v1h-1zM29 60h1v1h-1zM54 60h1v1h-1zM72 60h1v1h-1zM90 60h1v1h-1zM4 61h1v1h-1zM45 61h1v1h-1zM52 61h1v1h-1zM9 62h1v1h-1zM22 62h1v1h-1zM30 62h1v1h-1zM36 62h1v1h-1zM66 62h1v1h-1zM69 62h1v1h-1zM5 63h2v1h-2zM39 63h1v1h-1zM63 63h2v1h-2zM88 63h1v1h-1zM9 64h1v1h-1zM18 64h1v1h-1zM24 64h1v1h-1zM39 64h1v1h-1zM43 64h2v1h-2zM64 64h1v1h-1zM98 64h1v1h-1zM40 65h1v1h-1zM43 65h1v1h-1zM47 65h1v1h-1zM53 65h1v1h-1zM64 65h1v1h-1zM0 66h1v1h-1zM26 66h1v1h-1zM28 66h1v1h-1zM41 66h1v1h-1zM56 66h1v1h-1zM83 66h1v1h-1zM90 66h1v1h-1zM95 66h1v1h-1zM3 67h1v1h-1zM44 67h1v1h-1zM47 67h2v1h-2zM78 67h1v1h-1zM18 68h1v1h-1zM43 68h1v1h-1zM55 68h1v1h-1zM62 68h1v1h-1zM0 69h1v1h-1zM85 69h1v1h-1zM98 69h1v1h-1zM23 70h1v1h-1zM28 70h1v1h-1zM32 70h1v1h-1zM52 70h1v1h-1zM62 70h1v1h-1zM68 70h1v1h-1zM73 70h1v1h-1zM25 71h1v1h-1zM31 71h1v1h-1zM54 71h1v1h-1zM61 71h2v1h-2zM11 72h1v1h-1zM23 72h1v1h-1zM54 72h1v1h-1zM59 72h1v1h-1zM63 72h1v1h-1zM5 73h1v1h-1zM27 73h1v1h-1zM33 73h1v1h-1zM68 73h1v1h-1zM72 73h1v1h-1zM79 73h1v1h-1zM89 73h1v1h-1zM12 74h1v1h-1zM40 74h1v1h-1zM43 74h1v1h-1zM60 74h1v1h-1zM81 74h1v1h-1zM9 75h1v1h-1zM22 75h2v1h-2zM43 75h1v1h-1zM49 75h1v1h-1zM84 75h1v1h-1zM3 76h1v1h-1zM25 76h1v1h-1zM42 76h1v1h-1zM64 76h1v1h-1zM76 76h1v1h-1zM4 77h1v1h-1zM7 77h1v1h-1zM9 77h1v1h-1zM23 77h1v1h-1zM30 77h1v1h-1zM40 77h1v1h-1zM46 77h1v1h-1zM54 77h2v1h-2zM60 77h2v1h-2zM4 78h1v1h-1zM8 78h1v1h-1zM13 78h1v1h-1zM20 78h1v1h-1zM48 78h1v1h-1zM80 78h1v1h-1zM87 78h1v1h-1zM19 79h1v1h-1zM40 79h1v1h-1zM52 79h1v1h-1zM54 79h1v1h-1zM56 79h1v1h-1zM60 79h1v1h-1zM46 80h1v1h-1zM59 80h1v1h-1zM93 80h1v1h-1zM7 81h1v1h-1zM15 81h1v1h-1zM55 81h1v1h-1zM96 81h1v1h-1zM3 82h1v1h-1zM14 82h1v1h-1zM38 82h1v1h-1zM42 82h1v1h-1zM51 82h1v1h-1zM71 82h1v1h-1zM80 82h1v1h-1zM0 83h1v1h-1zM8 83h1v1h-1zM34 83h1v1h-1zM36 83h1v1h-1zM96 83h1v1h-1zM26 84h1v1h-1zM72 84h1v1h-1zM91 84h1v1h-1zM10 85h1v1h-1zM42 85h1v1h-1zM79 85h1v1h-1zM96 85h1v1h-1zM15 86h1v1h-1zM34 86h1v1h-1zM37 86h1v1h-1zM50 86h1v1h-1zM1 87h1v1h-1zM5 87h1v1h-1zM59 87h1v1h-1zM77 87h1v1h-1zM87 87h1v1h-1zM91 87h1v1h-1zM0 88h1v1h-1zM20 88h1v1h-1zM25 88h1v1h-1zM41 88h1v1h-1zM56 88h1v1h-1zM67 88h1v1h-1zM19 89h1v1h-1zM26 89h1v1h-1zM92 89h1v1h-1zM15 90h1v1h-1zM17 90h1v1h-1zM44 90h1v1h-1zM51 90h1v1h-1zM57 90h1v1h-1zM0 91h1v1h-1zM5 91h1v1h-1zM39 91h1v1h-1zM98 91h1v1h-1zM8 92h1v1h-1zM10 92h1v1h-1zM18 92h1v1h-1zM47 92h1v1h-1zM53 92h1v1h-1zM61 92h1v1h-1zM65 92h1v1h-1zM76 92h1v1h-1zM33 93h1v1h-1zM43 93h1v1h-1zM60 93h1v1h-1zM65 93h2v1h-2zM13 94h1v1h-1zM19 94h1v1h-1zM45 94h1v1h-1zM60 94h1v1h-1zM85 94h1v1h-1zM9 95h1v1h-1zM14 95h1v1h-1zM30 95h1v1h-1zM43 95h1v1h-1zM71 95h1v1h-1zM59 96h1v1h-1zM70 96h1v1h-1zM8 97h2v1h-2zM12 97h1v1h-1zM18 97h1v1h-1zM59 97h1v1h-1zM63 97h1v1h-1zM0 98h1v1h-1zM14 98h1v1h-1zM87 98h1v1h-1zM93 98h1v1h-1zM16 99h1v1h-1zM54 99h1v1h-1zM67 99h1v1h-1zM88 99h1v1h-1zM93 99h1v1h-1z"/>
<path fill="#35FFCA" d="M2 0h1v1h-1zM49 0h1v1h-1zM79 0h2v1h-2zM24 1h1v1h-1zM33 1h1v1h-1zM67 1h1v1h-1zM80 1h1v1h-1zM21 2h1v1h-1zM56 2h1v1h-1zM84 2h1v1h-1zM31 3h1v1h-1zM39 3h1v1h-1zM56 3h1v1h-1zM61 3h1v1h-1zM66 3h1v1h-1zM77 3h1v1h-1zM97 3h2v1h-2zM23 4h1v1h-1zM28 4h1v1h-1zM33 4h1v1h-1zM35 4h1v1h-1zM38 4h1v1h-1zM41 4h1v1h-1zM46 4h1v1h-1zM52 4h1v1h-1zM64 4h1v1h-1zM81 4h1v1h-1zM93 4h1v1h-1zM16 5h1v1h-1zM35 5h1v1h-1zM95 5h1v1h-1zM10 6h1v1h-1zM23 6h1v1h-1zM31 6h1v1h-1zM37 6h1v1h-1zM63 6h1v1h-1zM80 6h1v1h-1zM82 6h1v1h-1zM97 6h1v1h-1zM4 7h1v1h-1zM11 7h1v1h-1zM63 7h1v1h-1zM67 7h1v1h-1zM72 7h1v1h-1zM71 8h1v1h-1zM73 8h1v1h-1zM87 8h2v1h-2zM99 8h1v1h-1zM8 9h1v1h-1zM14 9h1v1h-1zM40 9h1v1h-1zM67 9h1v1h-1zM90 9h1v1h-1zM34 10h1v1h-1zM38 10h1v1h-1zM92 10h2v1h-2zM59 11h1v1h-1zM69 11h1v1h-1zM76 11h1v1h-1zM87 11h1v1h-1zM44 12h1v1h-1zM20 13h1v1h-1zM40 13h1v1h-1zM53 13h1v1h-1zM63 13h1v1h-1zM86 13h1v1h-1zM10 14h2v1h-2zM45 14h1v1h-1zM61 14h1v1h-1zM90 14h1v1h-1zM15 15h1v1h-1zM47 15h1v1h-1zM52 15h1v1h-1zM64 15h1v1h-1zM70 15h1v1h-1zM85 15h1v1h-1zM93 15h1v1h-1zM54 16h1v1h-1zM23 17h1v1h-1zM30 17h1v1h-1zM32 17h1v1h-1zM48 17h1v1h-1zM92 17h1v1h-1zM96 17h1v1h-1zM1 18h1v1h-1zM8 18h1v1h-1zM17 18h1v1h-1zM29 18h1v1h-1zM86 18h1v1h-1zM1 19h1v1h-1zM8 19h1v1h-1zM30 19h1v1h-1zM36 19h1v1h-1zM51 19h1v1h-1zM67 19h1v1h-1zM69 19h1v1h-1zM1 20h1v1h-1zM12 20h1v1h-1zM28 20h1v1h-1zM39 20h1v1h-1zM55 20h1v1h-1zM65 20h1v1h-1zM71 20h1v1h-1zM85 20h1v1h-1zM88 20h1v1h-1zM29 21h1v1h-1zM44 21h1v1h-1zM59 21h1v1h-1zM79 21h1v1h-1zM12 22h1v1h-1zM42 22h1v1h-1zM56 22h1v1h-1zM60 22h1v1h-1zM10 23h1v1h-1zM46 23h1v1h-1zM79 23h1v1h-1zM81 23h1v1h-1zM94 23h1v1h-1zM0 24h1v1h-1zM17 24h1v1h-1zM55 24h1v1h-1zM65 24h1v1h-1zM68 24h1v1h-1zM1 25h1v1h-1zM16 25h1v1h-1zM41 25h1v1h-1zM69 25h2v1h-2zM84 25h1v1h-1zM97 25h1v1h-1zM36 26h1v1h-1zM46 26h1v1h-1zM56 26h1v1h-1zM68 26h1v1h-1zM95 26h1v1h-1zM12 27h1v1h-1zM16 27h1v1h-1zM84 27h1v1h-1zM90 27h1v1h-1zM24 28h1v1h-1zM43 28h1v1h-1zM47 28h1v1h-1zM58 28h2v1h-2zM72 28h1v1h-1zM91 28h1v1h-1zM95 28h2v1h-2zM12 29h1v1h-1zM30 29h1v1h-1zM57 29h1v1h-1zM62 29h1v1h-1zM73 29h1v1h-1zM80 29h1v1h-1zM84 29h1v1h-1zM93 29h1v1h-1zM53 30h1v1h-1zM58 30h1v1h-1zM96 30h1v1h-1zM55 31h1v1h-1zM69 31h1v1h-1zM91 31h1v1h-1zM0 32h1v1h-1zM43 32h2v1h-2zM74 32h1v1h-1zM77 32h1v1h-1zM79 32h1v1h-1zM93 32h1v1h-1zM30 33h1v1h-1zM70 33h1v1h-1zM83 33h1v1h-1zM97 33h1v1h-1zM5 34h1v1h-1zM20 34h1v1h-1zM36 34h1v1h-1zM43 34h2v1h-2zM66 34h1v1h-1zM68 34h1v1h-1zM96 34h2v1h-2zM13 35h1v1h-1zM37 35h1v1h-1zM40 35h2v1h-2zM45 35h1v1h-1zM58 35h1v1h-1zM78 35h1v1h-1zM81 35h1v1h-1zM89 35h1v1h-1zM8 36h1v1h-1zM12 36h1v1h-1zM14 36h1v1h-1zM47 36h2v1h-2zM90 36h1v1h-1zM0 37h3v1h-3zM4 37h1v1h-1zM12 37h1v1h-1zM23 37h1v1h-1zM46 37h1v1h-1zM75 37h1v1h-1zM86 37h1v1h-1zM89 37h1v1h-1zM94 37h1v1h-1zM37 38h1v1h-1zM39 38h1v1h-1zM43 38h1v1h-1zM65 38h1v1h-1zM81 38h1v1h-1zM83 38h1v1h-1zM86 38h1v1h-1zM95 38h1v1h-1zM0 39h1v1h-1zM2 39h1v1h-1zM6 39h1v1h-1zM36 39h1v1h-1zM39 39h2v1h-2zM45 39h1v1h-1zM47 39h1v1h-1zM60 39h1v1h-1zM69 39h1v1h-1zM88 39h2v1h-2zM91 39h1v1h-1zM93 39h1v1h-1zM58 40h1v1h-1zM22 41h1v1h-1zM65 41h1v1h-1zM0 42h1v1h-1zM3 42h1v1h-1zM9 42h1v1h-1zM61 42h1v1h-1zM85 42h1v1h-1zM98 42h1v1h-1zM12 43h1v1h-1zM31 43h1v1h-1zM41 43h1v1h-1zM49 43h1v1h-1zM90 43h1v1h-1zM53 44h1v1h-1zM61 44h1v1h-1zM98 45h1v1h-1zM61 46h1v1h-1zM75 46h1v1h-1zM87 46h1v1h-1zM47 47h1v1h-1zM53 47h1v1h-1zM66 47h2v1h-2zM93 47h1v1h-1zM4 48h1v1h-1zM45 48h1v1h-1zM51 48h1v1h-1zM57 48h1v1h-1zM62 48h1v1h-1zM64 48h1v1h-1zM32 49h1v1h-1zM38 49h1v1h-1zM64 49h1v1h-1zM92 49h1v1h-1zM95 49h1v1h-1zM12 50h1v1h-1zM17 50h1v1h-1zM29 50h1v1h-1zM38 50h1v1h-1zM41 50h1v1h-1zM52 50h1v1h-1zM57 50h1v1h-1zM80 50h1v1h-1zM89 50h1v1h-1zM92 50h1v1h-1zM97 50h1v1h-1zM3 51h1v1h-1zM9 51h1v1h-1zM14 51h1v1h-1zM42 51h1v1h-1zM47 51h1v1h-1zM37 52h1v1h-1zM8 53h1v1h-1zM32 53h1v1h-1zM37 53h1v1h-1zM48 53h1v1h-1zM52 53h1v1h-1zM6 54h1v1h-1zM17 54h1v1h-1zM33 54h1v1h-1zM60 54h1v1h-1zM12 55h1v1h-1zM30 55h1v1h-1zM46 55h1v1h-1zM62 55h1v1h-1zM72 55h1v1h-1zM81 55h1v1h-1zM97 55h1v1h-1zM2 56h1v1h-1zM5 56h1v1h-1zM33 56h2v1h-2zM45 56h1v1h-1zM57 56h1v1h-1zM59 56h1v1h-1zM70 56h1v1h-1zM77 56h2v1h-2zM7 57h1v1h-1zM10 57h1v1h-1zM18 57h1v1h-1zM40 57h1v1h-1zM56 57h2v1h-2zM59 57h1v1h-1zM73 57h1v1h-1zM83 57h1v1h-1zM90 57h1v1h-1zM1 58h1v1h-1zM16 58h1v1h-1zM29 58h1v1h-1zM42 58h1v1h-1zM47 58h1v1h-1zM69 58h1v1h-1zM73 58h1v1h-1zM87 58h1v1h-1zM97 58h1v1h-1zM77 59h1v1h-1zM93 59h1v1h-1zM2 60h1v1h-1zM53 60h1v1h-1zM61 60h1v1h-1zM66 60h1v1h-1zM70 60h1v1h-1zM81 60h1v1h-1zM85 60h2v1h-2zM27 61h1v1h-1zM48 61h1v1h-1zM61 61h1v1h-1zM72 61h1v1h-1zM21 62h1v1h-1zM56 62h1v1h-1zM59 62h1v1h-1zM61 62h1v1h-1zM70 62h1v1h-1zM85 62h1v1h-1zM23 63h1v1h-1zM62 63h1v1h-1zM80 63h2v1h-2zM84 63h1v1h-1zM93 63h1v1h-1zM1 64h1v1h-1zM12 64h1v1h-1zM34 64h1v1h-1zM56 64h1v1h-1zM67 64h2v1h-2zM84 64h1v1h-1zM9 65h1v1h-1zM21 65h1v1h-1zM30 65h1v1h-1zM45 65h1v1h-1zM56 65h1v1h-1zM91 65h1v1h-1zM4 66h1v1h-1zM13 66h1v1h-1zM66 66h1v1h-1zM87 66h1v1h-1zM4 67h1v1h-1zM38 67h1v1h-1zM72 67h1v1h-1zM93 67h1v1h-1zM99 67h1v1h-1zM1 68h1v1h-1zM14 68h1v1h-1zM16 68h1v1h-1zM37 68h1v1h-1zM44 68h1v1h-1zM67 68h1v1h-1zM79 68h1v1h-1zM82 68h1v1h-1zM27 69h1v1h-1zM50 69h1v1h-1zM55 69h1v1h-1zM58 69h1v1h-1zM67 69h1v1h-1zM77 69h1v1h-1zM87 69h1v1h-1zM92 69h1v1h-1zM96 69h1v1h-1zM27 70h1v1h-1zM35 70h1v1h-1zM39 70h1v1h-1zM50 70h1v1h-1zM60 70h1v1h-1zM40 71h1v1h-1zM63 71h1v1h-1zM68 71h2v1h-2zM75 71h1v1h-1zM18 72h1v1h-1zM55 72h1v1h-1zM65 72h1v1h-1zM68 72h1v1h-1zM1 73h1v1h-1zM22 73h1v1h-1zM36 73h1v1h-1zM41 73h1v1h-1zM70 73h1v1h-1zM91 73h1v1h-1zM38 74h1v1h-1zM54 74h2v1h-2zM57 74h1v1h-1zM68 74h1v1h-1zM13 75h2v1h-2zM19 75h1v1h-1zM30 75h1v1h-1zM44 75h1v1h-1zM72 75h2v1h-2zM87 75h1v1h-1zM97 75h1v1h-1zM38 76h1v1h-1zM50 76h1v1h-1zM66 76h1v1h-1zM73 76h1v1h-1zM88 76h1v1h-1zM16 77h1v1h-1zM18 77h2v1h-2zM22 77h1v1h-1zM48 77h1v1h-1zM87 77h1v1h-1zM2 78h1v1h-1zM18 78h1v1h-1zM23 78h1v1h-1zM73 78h1v1h-1zM78 78h1v1h-1zM98 78h1v1h-1zM7 79h1v1h-1zM22 79h1v1h-1zM25 79h1v1h-1zM39 79h1v1h-1zM47 79h1v1h-1zM51 79h1v1h-1zM73 79h1v1h-1zM92 79h2v1h-2zM27 80h1v1h-1zM42 80h1v1h-1zM61 80h2v1h-2zM96 80h1v1h-1zM2 81h1v1h-1zM8 81h1v1h-1zM10 81h1v1h-1zM20 81h1v1h-1zM47 81h1v1h-1zM63 81h1v1h-1zM66 81h1v1h-1zM69 81h1v1h-1zM90 81h1v1h-1zM10 82h1v1h-1zM17 82h1v1h-1zM36 82h2v1h-2zM39 82h1v1h-1zM68 82h1v1h-1zM89 82h1v1h-1zM22 83h1v1h-1zM24 83h1v1h-1zM61 83h1v1h-1zM92 83h1v1h-1zM12 84h2v1h-2zM38 84h1v1h-1zM40 84h1v1h-1zM56 84h1v1h-1zM67 84h1v1h-1zM73 84h1v1h-1zM86 84h1v1h-1zM4 85h1v1h-1zM13 85h1v1h-1zM39 85h1v1h-1zM45 85h1v1h-1zM69 85h1v1h-1zM77 85h1v1h-1zM4 86h1v1h-1zM44 86h1v1h-1zM91 86h1v1h-1zM24 87h1v1h-1zM76 87h1v1h-1zM83 87h1v1h-1zM6 88h1v1h-1zM8 88h1v1h-1zM10 88h1v1h-1zM15 88h1v1h-1zM32 88h1v1h-1zM47 88h2v1h-2zM50 88h1v1h-1zM65 88h2v1h-2zM69 88h1v1h-1zM87 88h1v1h-1zM1 89h1v1h-1zM4 89h1v1h-1zM31 89h1v1h-1zM41 89h1v1h-1zM83 89h1v1h-1zM8 90h2v1h-2zM11 90h1v1h-1zM38 90h1v1h-1zM66 90h1v1h-1zM99 90h1v1h-1zM32 91h1v1h-1zM53 91h1v1h-1zM12 92h1v1h-1zM15 92h1v1h-1zM71 92h2v1h-2zM86 92h1v1h-1zM0 93h1v1h-1zM8 93h1v1h-1zM85 93h1v1h-1zM12 94h1v1h-1zM32 94h1v1h-1zM36 94h1v1h-1zM42 94h1v1h-1zM48 94h1v1h-1zM72 94h1v1h-1zM86 94h1v1h-1zM10 95h1v1h-1zM49 95h1v1h-1zM72 95h1v1h-1zM80 95h1v1h-1zM87 95h1v1h-1zM90 95h1v1h-1zM0 96h1v1h-1zM18 96h1v1h-1zM35 96h1v1h-1zM50 96h1v1h-1zM61 96h1v1h-1zM64 96h1v1h-1zM66 96h1v1h-1zM0 97h1v1h-1zM83 97h1v1h-1zM23 98h1v1h-1zM38 98h1v1h-1zM40 98h1v1h-1zM53 98h1v1h-1zM72 98h1v1h-1zM77 98h1v1h-1zM62 99h1v1h-1z"/>
<path fill="#4AFFB5" d="M22 0h1v1h-1zM33 0h1v1h-1zM56 0h1v1h-1zM65 0h1v1h-1zM69 0h1v1h-1zM85 0h1v1h-1zM98 0h1v1h-1zM1 1h1v1h-1zM9 1h1v1h-1zM28 1h1v1h-1zM43 1h1v1h-1zM55 1h1v1h-1zM59 1h1v1h-1zM79 1h1v1h-1zM10 2h1v1h-1zM32 2h1v1h-1zM39 2h1v1h-1zM48 2h1v1h-1zM70 2h1v1h-1zM4 3h1v1h-1zM46 3h1v1h-1zM88 3h1v1h-1zM92 3h1v1h-1zM96 3h1v1h-1zM11 4h1v1h-1zM34 4h1v1h-1zM65 4h1v1h-1zM2 5h1v1h-1zM15 5h1v1h-1zM30 5h1v1h-1zM40 5h1v1h-1zM47 5h1v1h-1zM54 5h1v1h-1zM57 5h1v1h-1zM63 5h1v1h-1zM22 6h1v1h-1zM54 6h1v1h-1zM66 6h1v1h-1zM73 6h1v1h-1zM99 6h1v1h-1zM0 7h1v1h-1zM26 7h1v1h-1zM36 7h2v1h-2zM49 7h1v1h-1zM79 7h1v1h-1zM2 8h1v1h-1zM62 8h1v1h-1zM83 8h1v1h-1zM86 8h1v1h-1zM91 8h1v1h-1zM11 9h1v1h-1zM27 9h1v1h-1zM30 9h1v1h-1zM45 9h1v1h-1zM49 9h2v1h-2zM54 9h1v1h-1zM77 9h1v1h-1zM87 9h1v1h-1zM92 9h1v1h-1zM98 9h1v1h-1zM9 10h1v1h-1zM17 10h1v1h-1zM22 10h2v1h-2zM56 10h1v1h-1zM88 10h1v1h-1zM28 11h1v1h-1zM61 11h1v1h-1zM82 11h1v1h-1zM90 11h1v1h-1zM5 12h1v1h-1zM12 12h1v1h-1zM52 12h1v1h-1zM72 12h1v1h-1zM4 13h1v1h-1zM84 13h1v1h-1zM94 13h1v1h-1zM24 14h1v1h-1zM31 14h1v1h-1zM44 14h1v1h-1zM47 14h2v1h-2zM55 14h1v1h-1zM78 14h1v1h-1zM12 15h1v1h-1zM22 15h1v1h-1zM26 15h1v1h-1zM30 15h1v1h-1zM33 15h1v1h-1zM42 15h1v1h-1zM46 15h1v1h-1zM63 15h1v1h-1zM73 15h1v1h-1zM88 15h1v1h-1zM91 15h1v1h-1zM30 16h1v1h-1zM38 16h1v1h-1zM44 16h1v1h-1zM51 16h1v1h-1zM58 16h1v1h-1zM77 16h1v1h-1zM97 16h1v1h-1zM2 17h1v1h-1zM10 17h2v1h-2zM28 17h1v1h-1zM71 17h1v1h-1zM73 17h1v1h-1zM86 17h1v1h-1zM90 17h1v1h-1zM12 18h1v1h-1zM14 18h1v1h-1zM16 18h1v1h-1zM24 18h1v1h-1zM41 18h1v1h-1zM61 18h1v1h-1zM63 18h1v1h-1zM69 18h1v1h-1zM12 19h1v1h-1zM26 19h1v1h-1zM39 19h1v1h-1zM41 19h1v1h-1zM81 19h1v1h-1zM83 19h1v1h-1zM96 19h1v1h-1zM33 20h1v1h-1zM37 20h1v1h-1zM53 20h1v1h-1zM58 20h1v1h-1zM72 20h1v1h-1zM91 20h1v1h-1zM1 21h1v1h-1zM4 21h1v1h-1zM7 21h1v1h-1zM25 21h1v1h-1zM28 21h1v1h-1zM40 21h1v1h-1zM27 22h1v1h-1zM64 22h1v1h-1zM86 22h1v1h-1zM21 23h1v1h-1zM67 23h1v1h-1zM82 23h1v1h-1zM11 24h1v1h-1zM89 24h1v1h-1zM92 24h1v1h-1zM97 24h2v1h-2zM19 25h1v1h-1zM42 25h1v1h-1zM47 25h1v1h-1zM87 25h1v1h-1zM94 25h1v1h-1zM15 26h1v1h-1zM28 26h1v1h-1zM32 26h1v1h-1zM63 26h1v1h-1zM79 26h1v1h-1zM83 26h1v1h-1zM92 26h1v1h-1zM97 26h1v1h-1zM0 27h1v1h-1zM21 27h1v1h-1zM32 27h1v1h-1zM69 27h1v1h-1zM85 27h1v1h-1zM20 28h1v1h-1zM39 28h1v1h-1zM57 28h1v1h-1zM69 28h1v1h-1zM71 28h1v1h-1zM74 28h2v1h-2zM83 28h1v1h-1zM99 28h1v1h-1zM11 29h1v1h-1zM27 29h1v1h-1zM45 29h1v1h-1zM52 29h1v1h-1zM54 29h1v1h-1zM67 29h1v1h-1zM1 30h1v1h-1zM10 30h1v1h-1zM27 30h1v1h-1zM43 30h1v1h-1zM52 30h1v1h-1zM81 30h1v1h-1zM5 31h1v1h-1zM11 31h1v1h-1zM15 31h1v1h-1zM20 31h1v1h-1zM23 31h1v1h-1zM83 31h1v1h-1zM99 31h1v1h-1zM7 32h1v1h-1zM20 32h1v1h-1zM27 32h1v1h-1zM30 32h1v1h-1zM53 32h1v1h-1zM65 32h1v1h-1zM71 32h1v1h-1zM78 32h1v1h-1zM80 32h1v1h-1zM92 32h1v1h-1zM15 33h1v1h-1zM31 33h2v1h-2zM51 33h1v1h-1zM57 33h1v1h-1zM64 33h1v1h-1zM71 33h1v1h-1zM89 33h1v1h-1zM0 34h1v1h-1zM8 34h1v1h-1zM19 34h1v1h-1zM24 34h1v1h-1zM54 34h1v1h-1zM69 34h1v1h-1zM7 35h1v1h-1zM38 35h1v1h-1zM42 35h1v1h-1zM61 35h1v1h-1zM66 35h1v1h-1zM29 36h1v1h-1zM41 36h1v1h-1zM50 36h1v1h-1zM63 36h1v1h-1zM66 36h1v1h-1zM81 36h1v1h-1zM86 36h1v1h-1zM27 37h1v1h-1zM39 37h1v1h-1zM7 38h1v1h-1zM24 38h1v1h-1zM30 38h1v1h-1zM88 38h1v1h-1zM92 38h1v1h-1zM7 39h1v1h-1zM31 39h2v1h-2zM38 39h1v1h-1zM58 39h1v1h-1zM66 39h1v1h-1zM86 39h1v1h-1zM11 40h1v1h-1zM19 40h1v1h-1zM46 40h1v1h-1zM51 40h1v1h-1zM86 40h1v1h-1zM93 40h1v1h-1zM95 40h1v1h-1zM15 41h1v1h-1zM30 41h1v1h-1zM86 41h1v1h-1zM89 41h2v1h-2zM92 41h1v1h-1zM17 42h1v1h-1zM28 42h1v1h-1zM32 42h1v1h-1zM49 42h1v1h-1zM60 42h1v1h-1zM67 42h1v1h-1zM79 42h1v1h-1zM92 42h2v1h-2zM3 43h1v1h-1zM14 43h1v1h-1zM20 43h1v1h-1zM29 43h1v1h-1zM42 43h1v1h-1zM50 43h1v1h-1zM61 43h2v1h-2zM78 43h1v1h-1zM83 43h1v1h-1zM15 44h1v1h-1zM49 44h1v1h-1zM62 44h1v1h-1zM78 44h1v1h-1zM91 44h1v1h-1zM93 44h1v1h-1zM95 44h1v1h-1zM18 45h1v1h-1zM49 45h1v1h-1zM52 45h1v1h-1zM67 45h2v1h-2zM90 45h1v1h-1zM92 45h1v1h-1zM26 46h1v1h-1zM60 46h1v1h-1zM76 46h1v1h-1zM24 47h1v1h-1zM58 47h1v1h-1zM82 47h1v1h-1zM90 47h1v1h-1zM8 48h2v1h-2zM20 48h1v1h-1zM65 48h1v1h-1zM81 48h1v1h-1zM87 48h1v1h-1zM93 48h2v1h-2zM99 48h1v1h-1zM16 49h1v1h-1zM21 49h2v1h-2zM31 49h1v1h-1zM60 49h1v1h-1zM84 49h1v1h-1zM97 49h1v1h-1zM37 50h1v1h-1zM44 50h1v1h-1zM54 50h1v1h-1zM70 50h1v1h-1zM6 51h1v1h-1zM16 51h1v1h-1zM30 51h1v1h-1zM32 51h2v1h-2zM40 51h1v1h-1zM59 51h1v1h-1zM76 51h2v1h-2zM96 51h1v1h-1zM10 52h1v1h-1zM33 52h1v1h-1zM67 52h1v1h-1zM72 52h1v1h-1zM85 52h1v1h-1zM87 52h1v1h-1zM43 53h1v1h-1zM78 53h1v1h-1zM83 53h1v1h-1zM42 54h1v1h-1zM78 54h2v1h-2zM92 54h1v1h-1zM2 55h1v1h-1zM92 55h2v1h-2zM6 56h1v1h-1zM22 56h1v1h-1zM44 56h1v1h-1zM81 56h1v1h-1zM89 56h1v1h-1zM92 56h2v1h-2zM95 56h1v1h-1zM17 57h1v1h-1zM21 57h1v1h-1zM27 57h1v1h-1zM36 57h1v1h-1zM43 57h1v1h-1zM68 57h1v1h-1zM21 58h1v1h-1zM26 58h1v1h-1zM28 58h1v1h-1zM33 58h1v1h-1zM38 58h1v1h-1zM49 58h2v1h-2zM58 58h2v1h-2zM62 58h2v1h-2zM0 59h1v1h-1zM3 59h1v1h-1zM24 59h1v1h-1zM66 59h1v1h-1zM76 59h1v1h-1zM41 60h1v1h-1zM51 60h1v1h-1zM98 60h1v1h-1zM9 61h1v1h-1zM23 61h1v1h-1zM31 61h1v1h-1zM42 61h1v1h-1zM67 61h3v1h-3zM74 61h1v1h-1zM15 62h1v1h-1zM24 62h1v1h-1zM29 62h1v1h-1zM51 62h1v1h-1zM57 62h1v1h-1zM82 62h1v1h-1zM86 62h1v1h-1zM21 63h1v1h-1zM29 63h1v1h-1zM53 63h1v1h-1zM72 63h1v1h-1zM78 63h1v1h-1zM19 64h1v1h-1zM71 64h1v1h-1zM14 65h1v1h-1zM20 65h1v1h-1zM26 65h1v1h-1zM32 65h2v1h-2zM36 65h2v1h-2zM99 65h1v1h-1zM15 66h1v1h-1zM24 66h1v1h-1zM51 66h1v1h-1zM53 66h1v1h-1zM78 66h1v1h-1zM81 66h1v1h-1zM88 66h1v1h-1zM99 66h1v1h-1zM14 67h2v1h-2zM19 67h1v1h-1zM49 67h1v1h-1zM53 67h1v1h-1zM60 67h1v1h-1zM17 68h1v1h-1zM26 68h1v1h-1zM61 68h1v1h-1zM75 68h1v1h-1zM2 69h1v1h-1zM31 69h1v1h-1zM43 69h1v1h-1zM52 69h1v1h-1zM75 69h2v1h-2zM6 70h1v1h-1zM12 70h1v1h-1zM17 70h1v1h-1zM34 70h1v1h-1zM57 70h1v1h-1zM66 70h1v1h-1zM88 70h1v1h-1zM90 70h1v1h-1zM96 70h1v1h-1zM6 71h1v1h-1zM9 71h2v1h-2zM14 71h1v1h-1zM43 71h1v1h-1zM82 71h1v1h-1zM86 71h2v1h-2zM98 71h1v1h-1zM2 72h1v1h-1zM20 72h1v1h-1zM22 72h1v1h-1zM46 72h1v1h-1zM58 72h1v1h-1zM61 72h1v1h-1zM87 72h1v1h-1zM6 73h1v1h-1zM28 73h1v1h-1zM62 73h2v1h-2zM69 73h1v1h-1zM96 73h1v1h-1zM6 74h2v1h-2zM24 74h1v1h-1zM37 74h1v1h-1zM44 74h1v1h-1zM49 74h2v1h-2zM75 74h1v1h-1zM78 74h1v1h-1zM84 74h1v1h-1zM95 74h1v1h-1zM11 75h1v1h-1zM35 75h2v1h-2zM41 75h1v1h-1zM79 75h1v1h-1zM94 75h1v1h-1zM18 76h1v1h-1zM47 76h1v1h-1zM62 76h1v1h-1zM65 76h1v1h-1zM68 76h1v1h-1zM3 77h1v1h-1zM8 77h1v1h-1zM12 77h1v1h-1zM31 77h1v1h-1zM45 77h1v1h-1zM62 77h1v1h-1zM67 77h1v1h-1zM76 77h1v1h-1zM5 78h1v1h-1zM17 78h1v1h-1zM19 78h1v1h-1zM38 78h2v1h-2zM42 78h1v1h-1zM89 78h1v1h-1zM99 78h1v1h-1zM20 79h1v1h-1zM24 79h1v1h-1zM28 79h2v1h-2zM34 79h1v1h-1zM70 79h1v1h-1zM82 79h1v1h-1zM94 79h1v1h-1zM99 79h1v1h-1zM0 80h1v1h-1zM3 80h3v1h-3zM9 80h1v1h-1zM25 80h1v1h-1zM34 80h2v1h-2zM49 80h1v1h-1zM52 80h2v1h-2zM88 80h1v1h-1zM97 80h1v1h-1zM24 81h1v1h-1zM44 81h1v1h-1zM52 81h1v1h-1zM76 81h1v1h-1zM86 81h1v1h-1zM99 81h1v1h-1zM23 82h1v1h-1zM83 82h1v1h-1zM98 82h1v1h-1zM9 83h1v1h-1zM53 83h1v1h-1zM85 83h1v1h-1zM4 84h1v1h-1zM23 84h1v1h-1zM29 84h1v1h-1zM44 84h1v1h-1zM22 85h1v1h-1zM49 85h1v1h-1zM99 85h1v1h-1zM22 86h1v1h-1zM40 86h1v1h-1zM51 86h1v1h-1zM85 86h3v1h-3zM98 86h1v1h-1zM26 87h1v1h-1zM31 87h1v1h-1zM41 87h1v1h-1zM50 87h1v1h-1zM65 87h1v1h-1zM72 87h1v1h-1zM81 87h1v1h-1zM96 87h1v1h-1zM12 88h2v1h-2zM24 88h1v1h-1zM36 88h1v1h-1zM46 88h1v1h-1zM68 88h1v1h-1zM79 88h1v1h-1zM94 88h1v1h-1zM97 88h1v1h-1zM6 89h1v1h-1zM11 89h1v1h-1zM16 89h1v1h-1zM24 89h1v1h-1zM50 89h1v1h-1zM56 89h1v1h-1zM77 89h1v1h-1zM90 89h1v1h-1zM96 89h1v1h-1zM12 90h1v1h-1zM22 90h1v1h-1zM33 90h1v1h-1zM45 90h1v1h-1zM53 90h1v1h-1zM85 90h1v1h-1zM92 90h1v1h-1zM14 91h1v1h-1zM23 91h1v1h-1zM36 91h1v1h-1zM60 91h1v1h-1zM69 91h1v1h-1zM76 91h1v1h-1zM99 91h1v1h-1zM4 92h2v1h-2zM9 92h1v1h-1zM13 92h1v1h-1zM34 92h1v1h-1zM36 92h1v1h-1zM55 92h1v1h-1zM74 92h1v1h-1zM78 92h1v1h-1zM3 93h1v1h-1zM62 93h1v1h-1zM75 93h1v1h-1zM3 94h1v1h-1zM78 94h1v1h-1zM3 95h1v1h-1zM45 95h1v1h-1zM57 95h1v1h-1zM10 96h1v1h-1zM15 96h2v1h-2zM32 96h3v1h-3zM41 96h1v1h-1zM72 96h1v1h-1zM82 96h1v1h-1zM23 97h1v1h-1zM26 97h1v1h-1zM40 97h1v1h-1zM52 97h1v1h-1zM64 97h1v1h-1zM66 97h1v1h-1zM77 97h1v1h-1zM30 98h1v1h-1zM46 98h1v1h-1zM51 98h1v1h-1zM59 98h1v1h-1zM65 98h1v1h-1zM96 98h1v1h-1zM17 99h1v1h-1zM34 99h1v1h-1zM42 99h2v1h-2zM58 99h1v1h-1zM75 99h1v1h-1zM87 99h1v1h-1zM91 99h1v1h-1z"/>
<path fill="#60FF9F" d="M27 0h1v1h-1zM29 0h1v1h-1zM54 0h1v1h-1zM72 0h1v1h-1zM92 0h1v1h-1zM22 1h1v1h-1zM27 1h1v1h-1zM37 1h1v1h-1zM81 1h1v1h-1zM86 1h1v1h-1zM89 1h1v1h-1zM2 2h1v1h-1zM20 2h1v1h-1zM52 2h1v1h-1zM57 2h1v1h-1zM73 2h1v1h-1zM78 2h1v1h-1zM89 2h1v1h-1zM14 3h1v1h-1zM34 3h1v1h-1zM40 3h1v1h-1zM58 3h1v1h-1zM68 3h1v1h-1zM12 4h1v1h-1zM48 4h1v1h-1zM50 4h2v1h-2zM59 4h2v1h-2zM73 4h1v1h-1zM75 4h1v1h-1zM98 4h1v1h-1zM34 5h1v1h-1zM43 5h1v1h-1zM52 5h1v1h-1zM59 5h1v1h-1zM72 5h1v1h-1zM87 5h1v1h-1zM89 5h1v1h-1zM21 6h1v1h-1zM30 6h1v1h-1zM51 6h1v1h-1zM9 7h1v1h-1zM28 7h1v1h-1zM42 7h1v1h-1zM47 7h1v1h-1zM58 7h1v1h-1zM62 7h1v1h-1zM81 7h1v1h-1zM88 7h1v1h-1zM91 7h2v1h-2zM37 8h1v1h-1zM41 8h1v1h-1zM65 8h1v1h-1zM97 8h1v1h-1zM55 9h1v1h-1zM64 9h1v1h-1zM74 9h1v1h-1zM0 10h1v1h-1zM13 10h1v1h-1zM16 10h1v1h-1zM19 10h1v1h-1zM69 10h1v1h-1zM74 10h1v1h-1zM3 11h1v1h-1zM11 11h1v1h-1zM16 11h1v1h-1zM22 11h1v1h-1zM39 11h1v1h-1zM58 11h1v1h-1zM72 11h1v1h-1zM91 11h1v1h-1zM0 12h1v1h-1zM26 12h1v1h-1zM61 12h1v1h-1zM63 12h1v1h-1zM68 12h1v1h-1zM2 13h1v1h-1zM8 13h1v1h-1zM18 13h1v1h-1zM31 13h1v1h-1zM38 13h1v1h-1zM46 13h1v1h-1zM52 13h1v1h-1zM78 13h1v1h-1zM85 13h1v1h-1zM92 13h1v1h-1zM4 14h1v1h-1zM32 14h1v1h-1zM79 14h1v1h-1zM85 14h1v1h-1zM98 14h1v1h-1zM5 15h1v1h-1zM58 15h1v1h-1zM90 15h1v1h-1zM92 15h1v1h-1zM0 16h1v1h-1zM5 16h1v1h-1zM16 16h1v1h-1zM23 16h1v1h-1zM26 16h1v1h-1zM34 16h1v1h-1zM39 16h1v1h-1zM48 16h1v1h-1zM91 16h1v1h-1zM94 16h1v1h-1zM41 17h1v1h-1zM63 17h1v1h-1zM88 17h1v1h-1zM19 18h1v1h-1zM54 18h1v1h-1zM94 18h1v1h-1zM54 19h1v1h-1zM59 19h1v1h-1zM65 19h1v1h-1zM68 19h1v1h-1zM73 19h2v1h-2zM17 20h1v1h-1zM20 20h1v1h-1zM54 20h1v1h-1zM57 20h1v1h-1zM68 20h1v1h-1zM18 21h1v1h-1zM30 21h1v1h-1zM36 21h1v1h-1zM43 21h1v1h-1zM52 22h1v1h-1zM66 22h1v1h-1zM82 22h1v1h-1zM0 23h2v1h-2zM5 23h1v1h-1zM14 23h1v1h-1zM19 23h1v1h-1zM53 23h1v1h-1zM2 24h1v1h-1zM49 24h1v1h-1zM51 24h1v1h-1zM82 24h1v1h-1zM2 25h1v1h-1zM15 25h1v1h-1zM43 25h1v1h-1zM62 25h1v1h-1zM3 26h1v1h-1zM29 26h1v1h-1zM77 26h1v1h-1zM10 27h1v1h-1zM15 27h1v1h-1zM67 27h1v1h-1zM74 27h1v1h-1zM0 28h1v1h-1zM8 28h1v1h-1zM12 28h1v1h-1zM16 28h1v1h-1zM23 28h1v1h-1zM32 28h1v1h-1zM60 28h1v1h-1zM64 28h1v1h-1zM92 28h1v1h-1zM3 29h1v1h-1zM9 29h1v1h-1zM13 29h2v1h-2zM29 29h1v1h-1zM46 29h1v1h-1zM66 29h1v1h-1zM69 29h1v1h-1zM91 29h1v1h-1zM40 30h1v1h-1zM70 30h1v1h-1zM90 30h1v1h-1zM99 30h1v1h-1zM10 31h1v1h-1zM14 31h1v1h-1zM17 31h1v1h-1zM89 31h1v1h-1zM92 31h1v1h-1zM10 32h1v1h-1zM13 32h1v1h-1zM33 32h1v1h-1zM56 32h1v1h-1zM61 32h1v1h-1zM64 32h1v1h-1zM70 32h1v1h-1zM75 32h1v1h-1zM91 32h1v1h-1zM8 33h1v1h-1zM34 33h1v1h-1zM87 33h1v1h-1zM10 34h1v1h-1zM28 34h1v1h-1zM80 34h1v1h-1zM89 34h1v1h-1zM91 34h1v1h-1zM18 35h1v1h-1zM22 35h1v1h-1zM36 35h1v1h-1zM53 35h1v1h-1zM59 35h1v1h-1zM62 35h1v1h-1zM67 35h1v1h-1zM70 35h1v1h-1zM75 35h1v1h-1zM25 36h1v1h-1zM34 36h1v1h-1zM52 36h1v1h-1zM56 36h1v1h-1zM61 36h1v1h-1zM65 36h1v1h-1zM74 36h1v1h-1zM84 36h1v1h-1zM93 36h1v1h-1zM97 36h1v1h-1zM31 37h1v1h-1zM35 37h1v1h-1zM38 37h1v1h-1zM59 37h1v1h-1zM79 37h1v1h-1zM3 38h1v1h-1zM6 38h1v1h-1zM8 38h1v1h-1zM29 38h1v1h-1zM34 38h1v1h-1zM54 38h1v1h-1zM66 38h1v1h-1zM70 38h1v1h-1zM75 38h1v1h-1zM97 38h1v1h-1zM10 39h1v1h-1zM17 39h1v1h-1zM19 39h1v1h-1zM44 39h1v1h-1zM54 39h3v1h-3zM67 39h1v1h-1zM90 39h1v1h-1zM5 40h1v1h-1zM13 40h1v1h-1zM24 40h1v1h-1zM30 40h1v1h-1zM42 40h1v1h-1zM48 40h1v1h-1zM89 40h1v1h-1zM3 41h1v1h-1zM10 41h1v1h-1zM13 41h1v1h-1zM55 41h1v1h-1zM8 42h1v1h-1zM34 42h1v1h-1zM73 42h1v1h-1zM80 42h1v1h-1zM86 42h1v1h-1zM2 43h1v1h-1zM5 43h1v1h-1zM44 43h1v1h-1zM48 43h1v1h-1zM60 43h1v1h-1zM75 43h1v1h-1zM91 43h1v1h-1zM95 43h1v1h-1zM99 43h1v1h-1zM5 44h1v1h-1zM22 44h2v1h-2zM39 44h1v1h-1zM54 44h1v1h-1zM79 44h1v1h-1zM81 44h1v1h-1zM86 44h1v1h-1zM92 44h1v1h-1zM24 45h1v1h-1zM32 45h1v1h-1zM56 45h1v1h-1zM59 45h1v1h-1zM71 45h1v1h-1zM3 46h1v1h-1zM27 46h1v1h-1zM33 46h1v1h-1zM55 46h1v1h-1zM59 46h1v1h-1zM77 46h1v1h-1zM16 47h1v1h-1zM71 47h1v1h-1zM75 47h3v1h-3zM80 47h1v1h-1zM16 48h1v1h-1zM29 48h1v1h-1zM31 48h1v1h-1zM79 48h1v1h-1zM90 48h2v1h-2zM95 48h1v1h-1zM9 49h1v1h-1zM17 49h1v1h-1zM28 49h1v1h-1zM30 49h1v1h-1zM48 49h2v1h-2zM62 49h1v1h-1zM83 49h1v1h-1zM8 50h1v1h-1zM20 50h1v1h-1zM32 50h1v1h-1zM64 50h1v1h-1zM1 51h1v1h-1zM5 51h1v1h-1zM26 51h1v1h-1zM31 51h1v1h-1zM48 51h1v1h-1zM61 51h1v1h-1zM81 51h1v1h-1zM86 51h1v1h-1zM8 52h1v1h-1zM23 52h1v1h-1zM27 52h1v1h-1zM36 52h1v1h-1zM39 52h1v1h-1zM63 52h1v1h-1zM66 52h1v1h-1zM70 52h1v1h-1zM97 52h1v1h-1zM30 53h1v1h-1zM51 53h1v1h-1zM62 53h1v1h-1zM64 53h1v1h-1zM99 53h1v1h-1zM13 54h1v1h-1zM19 54h1v1h-1zM37 54h1v1h-1zM48 54h1v1h-1zM57 54h1v1h-1zM24 55h1v1h-1zM48 55h1v1h-1zM50 55h1v1h-1zM63 55h1v1h-1zM90 55h1v1h-1zM8 56h1v1h-1zM11 56h1v1h-1zM20 56h1v1h-1zM27 56h2v1h-2zM53 56h1v1h-1zM82 56h1v1h-1zM84 56h1v1h-1zM88 56h1v1h-1zM25 57h1v1h-1zM41 57h1v1h-1zM87 57h1v1h-1zM89 57h1v1h-1zM9 58h1v1h-1zM31 58h1v1h-1zM43 58h1v1h-1zM54 58h1v1h-1zM56 58h2v1h-2zM30 59h1v1h-1zM37 59h1v1h-1zM52 59h2v1h-2zM70 59h3v1h-3zM81 59h1v1h-1zM89 59h1v1h-1zM99 59h1v1h-1zM13 60h1v1h-1zM45 60h1v1h-1zM48 60h1v1h-1zM58 60h1v1h-1zM83 60h1v1h-1zM89 60h1v1h-1zM93 60h1v1h-1zM6 61h2v1h-2zM19 61h1v1h-1zM34 61h1v1h-1zM36 61h1v1h-1zM39 61h1v1h-1zM73 61h1v1h-1zM8 62h1v1h-1zM42 62h1v1h-1zM49 62h2v1h-2zM60 62h1v1h-1zM83 62h1v1h-1zM9 63h1v1h-1zM13 63h1v1h-1zM24 63h1v1h-1zM43 63h1v1h-1zM61 63h1v1h-1zM70 63h1v1h-1zM91 63h1v1h-1zM94 63h2v1h-2zM15 64h1v1h-1zM20 64h1v1h-1zM52 64h1v1h-1zM72 64h1v1h-1zM6 65h1v1h-1zM65 65h1v1h-1zM74 65h1v1h-1zM78 65h1v1h-1zM82 65h1v1h-1zM94 65h1v1h-1zM8 66h1v1h-1zM46 66h1v1h-1zM73 66h1v1h-1zM18 67h1v1h-1zM27 67h1v1h-1zM32 67h1v1h-1zM46 67h1v1h-1zM92 67h1v1h-1zM96 67h1v1h-1zM23 68h1v1h-1zM28 68h1v1h-1zM40 68h1v1h-1zM49 68h1v1h-1zM64 68h1v1h-1zM15 70h1v1h-1zM36 70h1v1h-1zM41 70h1v1h-1zM93 70h1v1h-1zM0 71h1v1h-1zM7 71h1v1h-1zM17 71h1v1h-1zM84 71h1v1h-1zM9 72h1v1h-1zM24 72h1v1h-1zM26 72h1v1h-1zM29 72h2v1h-2zM36 72h1v1h-1zM60 72h1v1h-1zM66 72h1v1h-1zM11 73h1v1h-1zM13 73h1v1h-1zM43 73h1v1h-1zM74 73h1v1h-1zM80 73h1v1h-1zM84 73h2v1h-2zM27 74h1v1h-1zM34 74h1v1h-1zM70 74h1v1h-1zM67 75h2v1h-2zM78 75h1v1h-1zM83 75h1v1h-1zM9 76h1v1h-1zM16 76h2v1h-2zM28 76h1v1h-1zM46 76h1v1h-1zM59 76h1v1h-1zM69 76h1v1h-1zM79 76h1v1h-1zM87 76h1v1h-1zM97 76h1v1h-1zM41 77h1v1h-1zM90 77h1v1h-1zM34 78h1v1h-1zM52 78h1v1h-1zM55 78h1v1h-1zM60 78h1v1h-1zM66 78h1v1h-1zM83 78h1v1h-1zM10 79h1v1h-1zM26 79h1v1h-1zM63 79h1v1h-1zM77 79h1v1h-1zM80 79h1v1h-1zM90 79h1v1h-1zM57 80h1v1h-1zM25 81h1v1h-1zM27 81h1v1h-1zM48 81h1v1h-1zM53 81h1v1h-1zM68 81h1v1h-1zM70 81h1v1h-1zM74 81h2v1h-2zM77 81h1v1h-1zM92 81h1v1h-1zM27 82h1v1h-1zM34 82h1v1h-1zM48 82h1v1h-1zM86 82h1v1h-1zM5 83h1v1h-1zM30 83h1v1h-1zM77 83h1v1h-1zM81 83h1v1h-1zM0 84h3v1h-3zM21 84h1v1h-1zM25 84h1v1h-1zM59 84h1v1h-1zM69 84h1v1h-1zM71 84h1v1h-1zM82 84h1v1h-1zM98 84h1v1h-1zM1 85h1v1h-1zM8 85h1v1h-1zM32 85h1v1h-1zM67 85h1v1h-1zM82 85h1v1h-1zM89 85h1v1h-1zM94 85h1v1h-1zM14 86h1v1h-1zM59 86h1v1h-1zM61 86h1v1h-1zM67 86h1v1h-1zM30 87h1v1h-1zM37 87h2v1h-2zM82 87h1v1h-1zM97 87h1v1h-1zM70 88h1v1h-1zM96 88h1v1h-1zM99 88h1v1h-1zM28 89h2v1h-2zM35 89h1v1h-1zM48 89h1v1h-1zM97 89h1v1h-1zM42 90h1v1h-1zM55 90h1v1h-1zM87 90h1v1h-1zM12 91h1v1h-1zM27 91h1v1h-1zM38 91h1v1h-1zM43 91h1v1h-1zM47 91h1v1h-1zM57 91h1v1h-1zM61 91h1v1h-1zM75 91h1v1h-1zM91 91h1v1h-1zM1 92h1v1h-1zM25 92h1v1h-1zM44 92h1v1h-1zM50 92h1v1h-1zM93 92h1v1h-1zM9 93h1v1h-1zM15 93h1v1h-1zM22 93h1v1h-1zM37 93h1v1h-1zM88 93h1v1h-1zM94 93h2v1h-2zM8 94h1v1h-1zM40 94h1v1h-1zM54 94h1v1h-1zM61 94h1v1h-1zM82 94h2v1h-2zM0 95h1v1h-1zM12 95h2v1h-2zM54 95h1v1h-1zM76 95h1v1h-1zM84 95h1v1h-1zM88 95h1v1h-1zM40 96h1v1h-1zM60 96h1v1h-1zM71 96h1v1h-1zM81 96h1v1h-1zM88 96h1v1h-1zM14 97h1v1h-1zM16 97h1v1h-1zM24 97h1v1h-1zM31 97h1v1h-1zM80 97h1v1h-1zM84 97h1v1h-1zM1 98h1v1h-1zM9 98h1v1h-1zM16 98h1v1h-1zM37 98h1v1h-1zM5 99h1v1h-1zM21 99h1v1h-1zM31 99h1v1h-1zM71 99h2v1h-2zM81 99h1v1h-1z"/>
<path fill="#75FF8A" d="M14 0h1v1h-1zM18 0h1v1h-1zM21 0h1v1h-1zM26 0h1v1h-1zM36 0h1v1h-1zM40 0h1v1h-1zM67 0h1v1h-1zM0 1h1v1h-1zM77 1h1v1h-1zM92 1h1v1h-1zM30 2h1v1h-1zM40 2h1v1h-1zM60 2h1v1h-1zM71 2h1v1h-1zM87 2h1v1h-1zM90 2h1v1h-1zM13 3h1v1h-1zM16 3h1v1h-1zM18 3h1v1h-1zM26 3h1v1h-1zM7 4h1v1h-1zM13 4h1v1h-1zM17 4h1v1h-1zM20 4h1v1h-1zM26 4h1v1h-1zM30 4h1v1h-1zM37 4h1v1h-1zM45 4h1v1h-1zM67 4h1v1h-1zM72 4h1v1h-1zM78 4h1v1h-1zM84 4h1v1h-1zM95 4h1v1h-1zM10 5h1v1h-1zM55 5h1v1h-1zM67 5h1v1h-1zM79 5h1v1h-1zM12 6h1v1h-1zM17 6h1v1h-1zM35 6h1v1h-1zM83 6h1v1h-1zM86 6h1v1h-1zM96 6h1v1h-1zM13 7h1v1h-1zM15 7h1v1h-1zM25 7h1v1h-1zM45 7h2v1h-2zM20 8h1v1h-1zM43 8h1v1h-1zM51 8h2v1h-2zM56 8h1v1h-1zM59 8h1v1h-1zM92 8h1v1h-1zM15 9h1v1h-1zM86 9h1v1h-1zM93 9h1v1h-1zM2 10h1v1h-1zM54 10h1v1h-1zM57 10h1v1h-1zM62 10h1v1h-1zM15 11h1v1h-1zM19 11h1v1h-1zM34 11h1v1h-1zM66 11h1v1h-1zM18 12h1v1h-1zM27 12h1v1h-1zM32 12h1v1h-1zM45 12h1v1h-1zM1 13h1v1h-1zM7 13h1v1h-1zM29 13h1v1h-1zM68 13h1v1h-1zM70 13h1v1h-1zM77 13h1v1h-1zM83 13h1v1h-1zM87 13h1v1h-1zM96 13h1v1h-1zM8 14h1v1h-1zM17 14h1v1h-1zM21 14h1v1h-1zM43 14h1v1h-1zM59 14h1v1h-1zM80 14h1v1h-1zM51 15h1v1h-1zM53 15h1v1h-1zM40 16h1v1h-1zM68 16h1v1h-1zM71 16h1v1h-1zM95 16h1v1h-1zM38 17h1v1h-1zM50 17h1v1h-1zM57 17h1v1h-1zM61 17h1v1h-1zM67 17h1v1h-1zM3 18h1v1h-1zM35 18h1v1h-1zM38 18h1v1h-1zM42 18h1v1h-1zM45 18h1v1h-1zM48 18h1v1h-1zM65 18h1v1h-1zM67 18h1v1h-1zM71 18h1v1h-1zM9 19h1v1h-1zM20 19h1v1h-1zM40 19h1v1h-1zM84 19h1v1h-1zM86 19h1v1h-1zM92 19h1v1h-1zM2 20h1v1h-1zM11 20h1v1h-1zM26 20h1v1h-1zM45 20h1v1h-1zM66 20h1v1h-1zM94 20h1v1h-1zM35 21h1v1h-1zM49 21h1v1h-1zM81 21h1v1h-1zM89 21h1v1h-1zM94 21h1v1h-1zM2 22h1v1h-1zM8 22h1v1h-1zM25 22h1v1h-1zM40 22h1v1h-1zM53 22h1v1h-1zM57 22h1v1h-1zM91 22h1v1h-1zM96 22h1v1h-1zM55 23h1v1h-1zM77 23h1v1h-1zM99 23h1v1h-1zM3 24h1v1h-1zM26 24h1v1h-1zM31 24h1v1h-1zM43 24h1v1h-1zM54 24h1v1h-1zM70 24h1v1h-1zM74 24h1v1h-1zM79 24h1v1h-1zM86 24h1v1h-1zM88 24h1v1h-1zM93 24h1v1h-1zM6 25h1v1h-1zM32 25h1v1h-1zM51 25h1v1h-1zM59 25h1v1h-1zM76 25h1v1h-1zM96 25h1v1h-1zM13 26h2v1h-2zM34 26h1v1h-1zM42 26h1v1h-1zM47 26h1v1h-1zM53 26h1v1h-1zM58 26h1v1h-1zM72 26h1v1h-1zM90 26h2v1h-2zM99 26h1v1h-1zM18 27h1v1h-1zM30 27h1v1h-1zM72 27h1v1h-1zM76 27h1v1h-1zM88 27h1v1h-1zM4 28h2v1h-2zM25 28h1v1h-1zM42 28h1v1h-1zM48 28h1v1h-1zM50 28h1v1h-1zM77 28h1v1h-1zM84 28h2v1h-2zM89 28h1v1h-1zM37 29h1v1h-1zM49 29h1v1h-1zM60 29h1v1h-1zM4 30h1v1h-1zM9 30h1v1h-1zM17 30h1v1h-1zM83 30h1v1h-1zM12 31h1v1h-1zM18 31h1v1h-1zM30 31h2v1h-2zM39 31h1v1h-1zM70 31h1v1h-1zM72 31h1v1h-1zM74 31h1v1h-1zM77 31h1v1h-1zM88 31h1v1h-1zM15 32h1v1h-1zM21 32h1v1h-1zM29 32h1v1h-1zM51 32h1v1h-1zM85 32h1v1h-1zM4 33h1v1h-1zM18 33h1v1h-1zM68 33h1v1h-1zM75 33h1v1h-1zM82 33h1v1h-1zM86 33h1v1h-1zM88 33h1v1h-1zM94 33h1v1h-1zM2 34h1v1h-1zM21 34h1v1h-1zM25 34h1v1h-1zM27 34h1v1h-1zM58 34h1v1h-1zM70 34h2v1h-2zM93 34h1v1h-1zM0 35h1v1h-1zM5 35h1v1h-1zM23 35h1v1h-1zM94 35h1v1h-1zM22 36h1v1h-1zM30 36h1v1h-1zM46 36h1v1h-1zM70 36h1v1h-1zM89 36h1v1h-1zM21 37h1v1h-1zM67 37h1v1h-1zM78 37h1v1h-1zM1 38h1v1h-1zM40 38h1v1h-1zM69 38h1v1h-1zM71 38h1v1h-1zM78 38h1v1h-1zM52 39h1v1h-1zM71 39h1v1h-1zM81 39h1v1h-1zM94 39h1v1h-1zM27 40h1v1h-1zM62 40h1v1h-1zM69 40h1v1h-1zM73 40h1v1h-1zM20 41h1v1h-1zM29 41h1v1h-1zM45 41h1v1h-1zM74 41h1v1h-1zM78 41h1v1h-1zM83 41h1v1h-1zM93 41h1v1h-1zM6 42h1v1h-1zM16 42h1v1h-1zM24 42h1v1h-1zM35 42h1v1h-1zM13 43h1v1h-1zM22 43h1v1h-1zM69 43h1v1h-1zM86 43h1v1h-1zM93 43h1v1h-1zM33 44h1v1h-1zM46 44h1v1h-1zM55 44h1v1h-1zM75 44h1v1h-1zM7 45h1v1h-1zM13 45h1v1h-1zM16 45h2v1h-2zM26 45h1v1h-1zM36 45h1v1h-1zM53 45h1v1h-1zM75 45h1v1h-1zM84 45h1v1h-1zM93 45h1v1h-1zM17 46h3v1h-3zM35 46h1v1h-1zM40 46h2v1h-2zM44 46h1v1h-1zM47 46h1v1h-1zM86 46h1v1h-1zM13 47h1v1h-1zM26 47h1v1h-1zM35 47h1v1h-1zM78 47h1v1h-1zM83 47h1v1h-1zM13 48h1v1h-1zM34 48h1v1h-1zM43 48h1v1h-1zM52 48h2v1h-2zM61 48h1v1h-1zM2 49h1v1h-1zM39 49h1v1h-1zM52 49h1v1h-1zM65 49h1v1h-1zM4 50h1v1h-1zM16 50h1v1h-1zM25 50h1v1h-1zM34 50h1v1h-1zM45 50h1v1h-1zM84 50h1v1h-1zM99 50h1v1h-1zM27 51h1v1h-1zM35 51h1v1h-1zM54 51h1v1h-1zM65 51h1v1h-1zM87 51h1v1h-1zM20 52h1v1h-1zM24 52h1v1h-1zM50 52h2v1h-2zM77 52h1v1h-1zM99 52h1v1h-1zM5 53h1v1h-1zM36 53h1v1h-1zM39 53h1v1h-1zM75 53h1v1h-1zM87 53h1v1h-1zM4 54h1v1h-1zM26 54h1v1h-1zM31 54h1v1h-1zM43 54h2v1h-2zM68 54h1v1h-1zM0 55h1v1h-1zM14 55h1v1h-1zM16 55h1v1h-1zM54 55h1v1h-1zM68 55h2v1h-2zM30 56h1v1h-1zM51 56h1v1h-1zM97 56h1v1h-1zM26 57h1v1h-1zM32 57h1v1h-1zM45 57h1v1h-1zM97 57h1v1h-1zM4 58h1v1h-1zM6 58h1v1h-1zM18 58h1v1h-1zM41 58h1v1h-1zM46 58h1v1h-1zM52 58h1v1h-1zM76 58h1v1h-1zM81 58h1v1h-1zM1 59h1v1h-1zM10 59h1v1h-1zM25 59h1v1h-1zM29 59h1v1h-1zM62 59h1v1h-1zM79 59h1v1h-1zM24 60h1v1h-1zM34 60h1v1h-1zM56 60h1v1h-1zM60 60h1v1h-1zM76 60h1v1h-1zM92 60h1v1h-1zM5 61h1v1h-1zM12 61h1v1h-1zM15 61h1v1h-1zM30 61h1v1h-1zM35 61h1v1h-1zM44 61h1v1h-1zM58 61h1v1h-1zM80 61h1v1h-1zM87 61h2v1h-2zM99 61h1v1h-1zM23 62h1v1h-1zM88 62h1v1h-1zM37 63h1v1h-1zM46 63h1v1h-1zM49 63h1v1h-1zM51 63h1v1h-1zM66 63h1v1h-1zM87 63h1v1h-1zM3 64h1v1h-1zM22 64h1v1h-1zM25 64h1v1h-1zM35 64h1v1h-1zM45 64h1v1h-1zM47 64h1v1h-1zM85 64h1v1h-1zM5 65h1v1h-1zM31 65h1v1h-1zM52 65h1v1h-1zM58 65h1v1h-1zM72 65h1v1h-1zM75 65h1v1h-1zM79 65h1v1h-1zM7 66h1v1h-1zM19 66h1v1h-1zM47 66h1v1h-1zM0 67h1v1h-1zM20 67h1v1h-1zM28 67h1v1h-1zM30 67h1v1h-1zM34 67h1v1h-1zM37 67h1v1h-1zM42 67h1v1h-1zM58 67h1v1h-1zM66 67h1v1h-1zM71 67h1v1h-1zM81 67h1v1h-1zM84 67h1v1h-1zM38 68h1v1h-1zM42 68h1v1h-1zM57 68h1v1h-1zM90 68h1v1h-1zM9 69h1v1h-1zM12 69h1v1h-1zM19 69h1v1h-1zM54 69h1v1h-1zM62 69h1v1h-1zM71 69h1v1h-1zM74 69h1v1h-1zM89 69h1v1h-1zM94 69h1v1h-1zM10 70h1v1h-1zM25 70h1v1h-1zM42 70h1v1h-1zM47 70h1v1h-1zM56 70h1v1h-1zM83 70h1v1h-1zM15 71h1v1h-1zM19 71h1v1h-1zM41 71h1v1h-1zM77 71h1v1h-1zM91 71h1v1h-1zM0 72h1v1h-1zM32 72h1v1h-1zM42 72h1v1h-1zM57 72h1v1h-1zM74 72h1v1h-1zM80 72h1v1h-1zM14 73h1v1h-1zM34 73h1v1h-1zM37 73h1v1h-1zM73 73h1v1h-1zM81 73h1v1h-1zM10 74h1v1h-1zM29 74h1v1h-1zM35 74h1v1h-1zM46 74h1v1h-1zM48 74h1v1h-1zM74 74h1v1h-1zM85 74h1v1h-1zM94 74h1v1h-1zM97 74h1v1h-1zM8 75h1v1h-1zM27 75h1v1h-1zM48 75h1v1h-1zM50 75h1v1h-1zM61 75h1v1h-1zM71 75h1v1h-1zM95 75h1v1h-1zM4 76h1v1h-1zM29 76h1v1h-1zM40 76h1v1h-1zM85 76h2v1h-2zM90 76h1v1h-1zM98 76h1v1h-1zM24 77h1v1h-1zM56 77h1v1h-1zM82 77h1v1h-1zM98 77h2v1h-2zM11 78h1v1h-1zM28 78h1v1h-1zM90 78h1v1h-1zM92 78h1v1h-1zM11 79h1v1h-1zM27 79h1v1h-1zM66 79h1v1h-1zM83 79h1v1h-1zM30 80h1v1h-1zM99 80h1v1h-1zM1 81h1v1h-1zM3 81h1v1h-1zM13 81h1v1h-1zM82 81h1v1h-1zM13 82h1v1h-1zM33 82h1v1h-1zM44 82h1v1h-1zM58 82h1v1h-1zM62 82h1v1h-1zM66 82h1v1h-1zM70 82h1v1h-1zM75 82h2v1h-2zM88 82h1v1h-1zM95 82h1v1h-1zM16 83h1v1h-1zM82 83h1v1h-1zM89 83h1v1h-1zM24 84h1v1h-1zM36 84h2v1h-2zM54 84h1v1h-1zM58 84h1v1h-1zM78 84h1v1h-1zM84 84h1v1h-1zM93 84h1v1h-1zM27 85h1v1h-1zM41 85h1v1h-1zM58 85h1v1h-1zM63 85h1v1h-1zM84 85h1v1h-1zM93 85h1v1h-1zM10 86h1v1h-1zM18 86h1v1h-1zM39 86h1v1h-1zM71 86h1v1h-1zM82 86h1v1h-1zM99 86h1v1h-1zM34 87h1v1h-1zM39 87h2v1h-2zM42 87h1v1h-1zM47 87h2v1h-2zM89 87h2v1h-2zM5 88h1v1h-1zM33 88h1v1h-1zM40 88h1v1h-1zM43 88h1v1h-1zM52 88h1v1h-1zM71 88h1v1h-1zM74 88h1v1h-1zM17 89h2v1h-2zM32 89h1v1h-1zM38 89h1v1h-1zM63 89h1v1h-1zM71 89h1v1h-1zM87 89h1v1h-1zM98 89h1v1h-1zM25 90h1v1h-1zM31 90h1v1h-1zM34 90h1v1h-1zM61 90h1v1h-1zM73 90h1v1h-1zM24 91h1v1h-1zM26 91h1v1h-1zM68 91h1v1h-1zM70 91h1v1h-1zM27 92h1v1h-1zM20 93h1v1h-1zM26 93h2v1h-2zM44 93h1v1h-1zM68 93h1v1h-1zM73 93h1v1h-1zM76 93h1v1h-1zM11 94h1v1h-1zM20 94h1v1h-1zM23 94h1v1h-1zM33 94h1v1h-1zM46 94h1v1h-1zM56 94h1v1h-1zM59 94h1v1h-1zM64 94h1v1h-1zM69 94h1v1h-1zM74 94h2v1h-2zM33 95h1v1h-1zM35 95h1v1h-1zM41 95h1v1h-1zM44 95h1v1h-1zM53 95h1v1h-1zM63 95h1v1h-1zM93 95h1v1h-1zM9 96h1v1h-1zM55 96h1v1h-1zM79 96h1v1h-1zM85 96h1v1h-1zM11 97h1v1h-1zM17 97h1v1h-1zM53 97h1v1h-1zM70 97h2v1h-2zM92 97h1v1h-1zM96 97h1v1h-1zM98 97h1v1h-1zM10 98h1v1h-1zM21 98h1v1h-1zM44 98h1v1h-1zM61 98h1v1h-1zM64 98h1v1h-1zM79 98h1v1h-1zM82 98h2v1h-2zM1 99h1v1h-1zM6 99h1v1h-1zM33 99h1v1h-1zM47 99h1v1h-1zM64 99h2v1h-2zM83 99h1v1h-1z"/>
<path fill="#8AFF75" d="M6 0h1v1h-1zM12 0h1v1h-1zM30 0h1v1h-1zM44 0h1v1h-1zM6 1h1v1h-1zM8 1h1v1h-1zM11 1h1v1h-1zM13 1h1v1h-1zM29 1h1v1h-1zM49 1h1v1h-1zM69 1h1v1h-1zM74 1h1v1h-1zM87 1h1v1h-1zM12 2h1v1h-1zM18 2h1v1h-1zM59 2h1v1h-1zM80 2h1v1h-1zM93 2h1v1h-1zM95 2h1v1h-1zM7 3h1v1h-1zM11 3h1v1h-1zM48 3h1v1h-1zM63 3h1v1h-1zM79 3h1v1h-1zM91 3h1v1h-1zM10 4h1v1h-1zM40 4h1v1h-1zM71 4h1v1h-1zM4 5h1v1h-1zM58 5h1v1h-1zM69 5h3v1h-3zM94 5h1v1h-1zM5 6h1v1h-1zM43 6h1v1h-1zM52 6h1v1h-1zM64 6h1v1h-1zM67 6h1v1h-1zM31 7h1v1h-1zM54 7h1v1h-1zM89 7h1v1h-1zM93 7h1v1h-1zM1 8h1v1h-1zM4 8h2v1h-2zM30 8h1v1h-1zM35 8h1v1h-1zM39 8h1v1h-1zM44 8h3v1h-3zM67 8h1v1h-1zM74 8h1v1h-1zM81 8h1v1h-1zM2 9h1v1h-1zM34 9h1v1h-1zM43 9h1v1h-1zM46 9h2v1h-2zM59 9h1v1h-1zM11 10h1v1h-1zM14 10h1v1h-1zM31 10h1v1h-1zM51 10h1v1h-1zM85 10h1v1h-1zM87 10h1v1h-1zM91 10h1v1h-1zM94 10h1v1h-1zM8 11h1v1h-1zM27 11h1v1h-1zM40 11h1v1h-1zM43 11h1v1h-1zM52 11h1v1h-1zM55 11h1v1h-1zM68 11h1v1h-1zM71 11h1v1h-1zM85 11h1v1h-1zM93 11h1v1h-1zM4 12h1v1h-1zM40 12h1v1h-1zM67 12h1v1h-1zM71 12h1v1h-1zM78 12h1v1h-1zM92 12h1v1h-1zM0 13h1v1h-1zM23 13h1v1h-1zM45 13h1v1h-1zM48 13h1v1h-1zM65 13h1v1h-1zM79 13h1v1h-1zM81 13h1v1h-1zM2 14h1v1h-1zM12 14h1v1h-1zM33 14h1v1h-1zM46 14h1v1h-1zM62 14h1v1h-1zM77 14h1v1h-1zM83 14h1v1h-1zM31 15h2v1h-2zM55 15h1v1h-1zM95 15h1v1h-1zM97 15h1v1h-1zM2 16h1v1h-1zM8 16h1v1h-1zM15 16h1v1h-1zM33 16h1v1h-1zM61 16h1v1h-1zM74 16h1v1h-1zM85 16h1v1h-1zM88 16h1v1h-1zM96 16h1v1h-1zM25 17h1v1h-1zM29 17h1v1h-1zM39 17h1v1h-1zM55 17h1v1h-1zM62 17h1v1h-1zM76 17h1v1h-1zM5 18h1v1h-1zM10 18h1v1h-1zM21 18h1v1h-1zM68 18h1v1h-1zM91 18h1v1h-1zM95 18h1v1h-1zM97 18h1v1h-1zM47 19h1v1h-1zM55 19h1v1h-1zM3 20h1v1h-1zM14 20h1v1h-1zM44 20h1v1h-1zM93 20h1v1h-1zM96 20h1v1h-1zM84 21h1v1h-1zM86 21h1v1h-1zM88 21h1v1h-1zM0 22h1v1h-1zM18 22h1v1h-1zM65 22h1v1h-1zM70 22h1v1h-1zM78 22h1v1h-1zM92 22h2v1h-2zM16 23h1v1h-1zM61 23h2v1h-2zM96 23h2v1h-2zM5 24h1v1h-1zM20 24h1v1h-1zM28 24h1v1h-1zM59 24h1v1h-1zM62 24h1v1h-1zM75 24h1v1h-1zM3 25h1v1h-1zM13 25h1v1h-1zM18 25h1v1h-1zM28 25h1v1h-1zM31 25h1v1h-1zM38 25h1v1h-1zM45 25h1v1h-1zM57 25h1v1h-1zM0 26h1v1h-1zM2 26h1v1h-1zM39 26h1v1h-1zM41 26h1v1h-1zM57 26h1v1h-1zM64 26h1v1h-1zM74 26h1v1h-1zM84 26h1v1h-1zM93 26h1v1h-1zM11 27h1v1h-1zM86 27h1v1h-1zM26 28h1v1h-1zM0 29h1v1h-1zM5 29h1v1h-1zM17 29h1v1h-1zM25 29h1v1h-1zM53 29h1v1h-1zM65 29h1v1h-1zM88 29h2v1h-2zM92 29h1v1h-1zM2 30h1v1h-1zM12 30h1v1h-1zM54 30h1v1h-1zM56 30h1v1h-1zM75 30h1v1h-1zM93 30h1v1h-1zM97 30h1v1h-1zM28 31h1v1h-1zM32 31h1v1h-1zM52 31h1v1h-1zM65 31h1v1h-1zM90 31h1v1h-1zM4 32h1v1h-1zM11 32h1v1h-1zM26 32h1v1h-1zM42 32h1v1h-1zM46 32h1v1h-1zM66 32h1v1h-1zM20 33h1v1h-1zM38 33h1v1h-1zM78 33h1v1h-1zM81 33h1v1h-1zM85 33h1v1h-1zM35 34h1v1h-1zM74 34h1v1h-1zM79 34h1v1h-1zM14 35h1v1h-1zM30 35h1v1h-1zM52 35h1v1h-1zM54 35h1v1h-1zM88 35h1v1h-1zM2 36h2v1h-2zM10 36h2v1h-2zM26 36h3v1h-3zM54 36h1v1h-1zM69 36h1v1h-1zM73 36h1v1h-1zM10 37h1v1h-1zM37 37h1v1h-1zM42 37h1v1h-1zM58 37h1v1h-1zM76 37h1v1h-1zM98 37h1v1h-1zM13 38h1v1h-1zM18 38h1v1h-1zM22 38h1v1h-1zM25 38h1v1h-1zM38 38h1v1h-1zM22 39h1v1h-1zM49 39h1v1h-1zM68 39h1v1h-1zM70 39h1v1h-1zM74 39h1v1h-1zM18 40h1v1h-1zM45 40h1v1h-1zM52 40h1v1h-1zM60 40h2v1h-2zM77 40h1v1h-1zM80 40h1v1h-1zM84 40h1v1h-1zM5 41h2v1h-2zM25 41h1v1h-1zM72 41h1v1h-1zM82 41h1v1h-1zM84 41h1v1h-1zM2 42h1v1h-1zM13 42h1v1h-1zM20 42h1v1h-1zM47 42h1v1h-1zM51 42h1v1h-1zM65 42h1v1h-1zM69 42h1v1h-1zM72 42h1v1h-1zM74 42h1v1h-1zM77 42h1v1h-1zM34 43h1v1h-1zM37 43h1v1h-1zM46 43h1v1h-1zM63 43h1v1h-1zM73 43h1v1h-1zM77 43h1v1h-1zM84 43h1v1h-1zM7 44h1v1h-1zM36 44h1v1h-1zM41 44h1v1h-1zM50 44h1v1h-1zM63 44h1v1h-1zM80 44h1v1h-1zM85 44h1v1h-1zM27 45h1v1h-1zM54 45h1v1h-1zM11 46h1v1h-1zM51 46h1v1h-1zM66 46h1v1h-1zM84 46h1v1h-1zM90 46h1v1h-1zM0 47h1v1h-1zM6 47h1v1h-1zM15 47h1v1h-1zM39 47h1v1h-1zM55 47h1v1h-1zM63 47h1v1h-1zM96 47h1v1h-1zM11 48h1v1h-1zM30 48h1v1h-1zM33 48h1v1h-1zM72 48h1v1h-1zM77 48h1v1h-1zM85 48h1v1h-1zM4 49h1v1h-1zM8 49h1v1h-1zM11 49h1v1h-1zM14 49h1v1h-1zM23 49h1v1h-1zM33 49h2v1h-2zM55 49h1v1h-1zM70 49h1v1h-1zM73 49h1v1h-1zM33 50h1v1h-1zM48 50h1v1h-1zM67 50h1v1h-1zM72 50h1v1h-1zM79 50h1v1h-1zM93 50h1v1h-1zM98 50h1v1h-1zM74 51h1v1h-1zM79 51h1v1h-1zM90 51h1v1h-1zM3 52h1v1h-1zM5 52h1v1h-1zM34 52h1v1h-1zM40 52h1v1h-1zM55 52h1v1h-1zM60 52h1v1h-1zM84 52h1v1h-1zM90 52h1v1h-1zM10 53h1v1h-1zM26 53h1v1h-1zM34 53h2v1h-2zM57 53h1v1h-1zM59 53h1v1h-1zM86 53h1v1h-1zM28 54h1v1h-1zM38 54h1v1h-1zM51 54h1v1h-1zM56 54h1v1h-1zM4 55h1v1h-1zM15 55h1v1h-1zM31 55h1v1h-1zM75 55h1v1h-1zM3 56h1v1h-1zM16 56h1v1h-1zM65 56h1v1h-1zM67 56h1v1h-1zM90 56h1v1h-1zM96 56h1v1h-1zM6 57h1v1h-1zM11 57h1v1h-1zM19 57h1v1h-1zM39 57h1v1h-1zM78 57h1v1h-1zM81 57h1v1h-1zM91 57h1v1h-1zM3 58h1v1h-1zM5 59h1v1h-1zM23 59h1v1h-1zM48 59h1v1h-1zM85 59h1v1h-1zM90 59h1v1h-1zM95 59h1v1h-1zM10 60h2v1h-2zM38 60h1v1h-1zM57 60h1v1h-1zM96 60h1v1h-1zM0 61h1v1h-1zM8 61h1v1h-1zM17 61h1v1h-1zM28 61h1v1h-1zM33 61h1v1h-1zM46 61h1v1h-1zM51 61h1v1h-1zM55 61h1v1h-1zM60 61h1v1h-1zM97 61h1v1h-1zM58 62h1v1h-1zM73 62h1v1h-1zM79 62h1v1h-1zM91 62h1v1h-1zM2 63h1v1h-1zM27 63h1v1h-1zM33 63h1v1h-1zM69 63h1v1h-1zM74 63h1v1h-1zM46 64h1v1h-1zM65 64h1v1h-1zM95 64h1v1h-1zM2 65h1v1h-1zM4 65h1v1h-1zM23 65h1v1h-1zM35 65h1v1h-1zM88 65h1v1h-1zM95 65h1v1h-1zM34 66h1v1h-1zM60 66h1v1h-1zM97 66h1v1h-1zM39 67h1v1h-1zM56 67h1v1h-1zM59 67h1v1h-1zM63 67h1v1h-1zM79 67h1v1h-1zM87 67h1v1h-1zM6 68h1v1h-1zM11 68h2v1h-2zM22 68h1v1h-1zM32 68h1v1h-1zM46 68h1v1h-1zM48 68h1v1h-1zM78 68h1v1h-1zM5 69h1v1h-1zM10 69h1v1h-1zM53 69h1v1h-1zM60 69h2v1h-2zM68 69h1v1h-1zM18 70h1v1h-1zM78 70h1v1h-1zM82 70h1v1h-1zM13 71h1v1h-1zM29 71h1v1h-1zM42 71h1v1h-1zM50 71h1v1h-1zM81 71h1v1h-1zM90 71h1v1h-1zM3 72h1v1h-1zM28 72h1v1h-1zM33 72h1v1h-1zM56 72h1v1h-1zM97 72h1v1h-1zM30 73h1v1h-1zM49 73h1v1h-1zM67 73h1v1h-1zM2 74h1v1h-1zM36 74h1v1h-1zM65 74h1v1h-1zM76 74h1v1h-1zM24 75h2v1h-2zM31 75h1v1h-1zM37 75h1v1h-1zM42 75h1v1h-1zM51 75h1v1h-1zM66 75h1v1h-1zM75 75h1v1h-1zM0 76h1v1h-1zM2 76h1v1h-1zM80 76h1v1h-1zM89 76h1v1h-1zM20 77h1v1h-1zM53 77h1v1h-1zM70 77h1v1h-1zM75 77h1v1h-1zM10 78h1v1h-1zM53 78h1v1h-1zM65 78h1v1h-1zM86 78h1v1h-1zM96 78h1v1h-1zM16 79h1v1h-1zM33 79h1v1h-1zM45 79h1v1h-1zM74 79h1v1h-1zM6 80h1v1h-1zM11 80h1v1h-1zM28 80h1v1h-1zM33 80h1v1h-1zM48 80h1v1h-1zM60 80h1v1h-1zM65 80h1v1h-1zM79 80h1v1h-1zM14 81h1v1h-1zM16 81h1v1h-1zM18 81h1v1h-1zM22 81h1v1h-1zM61 81h1v1h-1zM15 82h1v1h-1zM49 82h1v1h-1zM7 83h1v1h-1zM17 83h1v1h-1zM21 83h1v1h-1zM37 83h1v1h-1zM42 83h1v1h-1zM47 83h1v1h-1zM75 83h1v1h-1zM87 83h1v1h-1zM93 83h1v1h-1zM22 84h1v1h-1zM41 84h1v1h-1zM49 84h1v1h-1zM63 84h1v1h-1zM70 84h1v1h-1zM75 84h2v1h-2zM96 84h1v1h-1zM15 85h1v1h-1zM18 85h1v1h-1zM50 85h1v1h-1zM74 85h1v1h-1zM76 85h1v1h-1zM12 86h1v1h-1zM24 86h2v1h-2zM29 86h2v1h-2zM35 86h1v1h-1zM41 86h1v1h-1zM45 86h1v1h-1zM56 86h1v1h-1zM64 86h1v1h-1zM69 87h1v1h-1zM71 87h1v1h-1zM84 87h1v1h-1zM22 88h1v1h-1zM34 88h1v1h-1zM44 88h2v1h-2zM57 88h1v1h-1zM78 88h1v1h-1zM90 88h1v1h-1zM95 88h1v1h-1zM86 89h1v1h-1zM89 89h1v1h-1zM27 90h1v1h-1zM30 90h1v1h-1zM46 90h1v1h-1zM49 90h2v1h-2zM83 90h1v1h-1zM86 90h1v1h-1zM94 90h1v1h-1zM10 91h1v1h-1zM45 91h1v1h-1zM55 91h1v1h-1zM79 91h1v1h-1zM83 91h1v1h-1zM42 92h1v1h-1zM45 92h1v1h-1zM60 92h1v1h-1zM29 93h1v1h-1zM45 93h1v1h-1zM47 93h1v1h-1zM49 93h1v1h-1zM52 93h1v1h-1zM58 93h1v1h-1zM78 93h1v1h-1zM89 93h1v1h-1zM91 93h1v1h-1zM9 94h1v1h-1zM22 94h1v1h-1zM37 94h1v1h-1zM39 94h1v1h-1zM94 94h1v1h-1zM20 95h1v1h-1zM24 95h1v1h-1zM27 95h1v1h-1zM31 95h1v1h-1zM40 95h1v1h-1zM78 95h1v1h-1zM89 95h1v1h-1zM98 95h1v1h-1zM3 96h1v1h-1zM8 96h1v1h-1zM13 96h2v1h-2zM76 96h1v1h-1zM78 96h1v1h-1zM97 96h1v1h-1zM25 97h1v1h-1zM47 97h1v1h-1zM90 97h1v1h-1zM94 97h1v1h-1zM39 98h1v1h-1zM98 98h1v1h-1zM11 99h2v1h-2zM89 99h1v1h-1z"/>
<path fill="#9FFF60" d="M3 0h1v1h-1zM62 0h1v1h-1zM77 0h2v1h-2zM99 0h1v1h-1zM39 1h1v1h-1zM47 1h1v1h-1zM64 1h1v1h-1zM68 1h1v1h-1zM71 1h1v1h-1zM85 1h1v1h-1zM99 1h1v1h-1zM25 2h1v1h-1zM37 2h1v1h-1zM50 2h1v1h-1zM86 2h1v1h-1zM3 3h1v1h-1zM6 3h1v1h-1zM12 3h1v1h-1zM23 3h1v1h-1zM36 3h1v1h-1zM38 3h1v1h-1zM80 3h1v1h-1zM2 4h2v1h-2zM16 4h1v1h-1zM18 4h1v1h-1zM32 4h1v1h-1zM44 4h1v1h-1zM49 4h1v1h-1zM53 4h2v1h-2zM91 4h1v1h-1zM97 4h1v1h-1zM18 5h1v1h-1zM23 5h1v1h-1zM49 5h1v1h-1zM1 6h1v1h-1zM14 6h2v1h-2zM72 6h1v1h-1zM52 7h1v1h-1zM65 7h1v1h-1zM68 7h3v1h-3zM73 7h1v1h-1zM90 7h1v1h-1zM6 8h1v1h-1zM26 8h1v1h-1zM31 8h1v1h-1zM76 8h1v1h-1zM82 8h1v1h-1zM19 9h1v1h-1zM22 9h1v1h-1zM52 9h1v1h-1zM61 9h1v1h-1zM29 10h1v1h-1zM41 10h1v1h-1zM58 10h1v1h-1zM61 10h1v1h-1zM77 10h1v1h-1zM2 11h1v1h-1zM13 11h1v1h-1zM32 11h1v1h-1zM63 11h1v1h-1zM96 11h1v1h-1zM99 11h1v1h-1zM1 12h1v1h-1zM13 12h1v1h-1zM16 12h1v1h-1zM23 12h1v1h-1zM25 12h1v1h-1zM39 12h1v1h-1zM41 12h2v1h-2zM51 12h1v1h-1zM69 12h1v1h-1zM82 12h1v1h-1zM95 12h1v1h-1zM10 13h3v1h-3zM15 13h1v1h-1zM41 13h1v1h-1zM50 13h1v1h-1zM54 13h1v1h-1zM66 13h1v1h-1zM71 13h1v1h-1zM74 13h1v1h-1zM99 13h1v1h-1zM1 14h1v1h-1zM9 14h1v1h-1zM13 14h2v1h-2zM20 14h1v1h-1zM26 14h1v1h-1zM39 14h1v1h-1zM50 14h1v1h-1zM65 14h1v1h-1zM70 14h1v1h-1zM76 14h1v1h-1zM23 15h1v1h-1zM35 15h1v1h-1zM41 15h1v1h-1zM56 15h1v1h-1zM24 16h1v1h-1zM37 16h1v1h-1zM59 16h1v1h-1zM69 16h2v1h-2zM12 17h1v1h-1zM17 17h1v1h-1zM27 17h1v1h-1zM34 17h1v1h-1zM42 17h1v1h-1zM68 17h1v1h-1zM72 17h1v1h-1zM75 17h1v1h-1zM95 17h1v1h-1zM25 18h1v1h-1zM33 18h1v1h-1zM50 18h1v1h-1zM79 18h1v1h-1zM87 18h1v1h-1zM42 19h1v1h-1zM78 19h1v1h-1zM89 19h1v1h-1zM99 19h1v1h-1zM4 20h1v1h-1zM23 20h1v1h-1zM29 20h1v1h-1zM34 20h1v1h-1zM40 20h1v1h-1zM81 20h1v1h-1zM97 20h1v1h-1zM17 21h1v1h-1zM63 21h1v1h-1zM80 21h1v1h-1zM83 21h1v1h-1zM95 21h2v1h-2zM3 22h1v1h-1zM13 22h2v1h-2zM20 22h1v1h-1zM31 22h1v1h-1zM33 22h1v1h-1zM38 22h1v1h-1zM51 22h1v1h-1zM89 22h1v1h-1zM8 23h1v1h-1zM18 23h1v1h-1zM23 23h1v1h-1zM32 23h1v1h-1zM41 23h1v1h-1zM50 23h1v1h-1zM73 23h1v1h-1zM16 24h1v1h-1zM27 24h1v1h-1zM37 24h1v1h-1zM44 24h2v1h-2zM63 24h1v1h-1zM69 24h1v1h-1zM91 24h1v1h-1zM0 25h1v1h-1zM23 25h1v1h-1zM37 25h1v1h-1zM46 25h1v1h-1zM48 25h1v1h-1zM68 25h1v1h-1zM82 25h1v1h-1zM90 25h1v1h-1zM92 25h1v1h-1zM25 26h1v1h-1zM44 26h1v1h-1zM51 26h1v1h-1zM75 26h1v1h-1zM87 26h1v1h-1zM4 27h1v1h-1zM6 27h2v1h-2zM24 27h1v1h-1zM43 27h1v1h-1zM55 27h1v1h-1zM71 27h1v1h-1zM78 27h1v1h-1zM92 27h2v1h-2zM17 28h1v1h-1zM22 28h1v1h-1zM45 28h1v1h-1zM97 28h1v1h-1zM2 29h1v1h-1zM8 29h1v1h-1zM16 29h1v1h-1zM33 29h1v1h-1zM50 29h1v1h-1zM97 29h1v1h-1zM99 29h1v1h-1zM0 30h1v1h-1zM42 30h1v1h-1zM47 30h1v1h-1zM61 30h1v1h-1zM68 30h1v1h-1zM4 31h1v1h-1zM40 31h1v1h-1zM43 31h1v1h-1zM46 31h1v1h-1zM80 31h1v1h-1zM97 31h1v1h-1zM8 32h1v1h-1zM17 32h1v1h-1zM23 32h1v1h-1zM54 32h1v1h-1zM73 32h1v1h-1zM76 32h1v1h-1zM83 32h1v1h-1zM95 32h1v1h-1zM6 33h1v1h-1zM13 33h1v1h-1zM23 33h1v1h-1zM44 33h2v1h-2zM48 33h1v1h-1zM50 33h1v1h-1zM53 33h1v1h-1zM66 33h1v1h-1zM72 33h1v1h-1zM40 34h1v1h-1zM67 34h1v1h-1zM82 34h1v1h-1zM21 35h1v1h-1zM83 35h1v1h-1zM0 36h1v1h-1zM67 36h1v1h-1zM75 36h1v1h-1zM79 36h2v1h-2zM6 37h1v1h-1zM32 37h2v1h-2zM45 37h1v1h-1zM61 37h1v1h-1zM84 37h1v1h-1zM93 37h1v1h-1zM10 38h1v1h-1zM60 38h1v1h-1zM84 38h1v1h-1zM90 38h1v1h-1zM23 39h1v1h-1zM29 39h1v1h-1zM35 39h1v1h-1zM50 39h1v1h-1zM1 40h1v1h-1zM15 40h1v1h-1zM20 40h1v1h-1zM39 40h1v1h-1zM90 40h1v1h-1zM92 40h1v1h-1zM26 41h1v1h-1zM44 41h1v1h-1zM67 41h1v1h-1zM77 41h1v1h-1zM11 42h1v1h-1zM22 42h1v1h-1zM27 42h1v1h-1zM38 42h1v1h-1zM55 42h1v1h-1zM75 42h1v1h-1zM91 42h1v1h-1zM32 43h2v1h-2zM55 43h1v1h-1zM59 43h1v1h-1zM66 43h1v1h-1zM70 43h2v1h-2zM27 44h1v1h-1zM29 44h1v1h-1zM32 44h1v1h-1zM51 44h1v1h-1zM59 44h1v1h-1zM74 44h1v1h-1zM2 45h1v1h-1zM11 45h1v1h-1zM40 45h1v1h-1zM48 45h1v1h-1zM79 45h1v1h-1zM94 45h1v1h-1zM5 46h1v1h-1zM7 46h1v1h-1zM14 46h1v1h-1zM16 46h1v1h-1zM22 46h1v1h-1zM30 46h1v1h-1zM57 46h1v1h-1zM68 46h1v1h-1zM70 46h1v1h-1zM74 46h1v1h-1zM97 46h2v1h-2zM3 47h1v1h-1zM5 47h1v1h-1zM9 47h1v1h-1zM28 47h1v1h-1zM31 47h1v1h-1zM36 47h1v1h-1zM57 47h1v1h-1zM70 47h1v1h-1zM79 47h1v1h-1zM6 48h1v1h-1zM12 48h1v1h-1zM14 48h1v1h-1zM71 48h1v1h-1zM74 48h1v1h-1zM20 49h1v1h-1zM27 49h1v1h-1zM45 49h1v1h-1zM67 49h1v1h-1zM71 49h1v1h-1zM21 50h1v1h-1zM30 50h1v1h-1zM35 50h1v1h-1zM58 50h1v1h-1zM73 50h1v1h-1zM83 50h1v1h-1zM87 50h1v1h-1zM15 51h1v1h-1zM36 51h1v1h-1zM45 51h1v1h-1zM71 51h1v1h-1zM73 51h1v1h-1zM89 51h1v1h-1zM19 52h1v1h-1zM25 52h1v1h-1zM65 52h1v1h-1zM69 52h1v1h-1zM82 52h1v1h-1zM96 52h1v1h-1zM11 53h1v1h-1zM63 53h1v1h-1zM81 53h1v1h-1zM12 54h1v1h-1zM22 54h1v1h-1zM64 54h1v1h-1zM89 54h1v1h-1zM91 54h1v1h-1zM9 55h1v1h-1zM25 55h1v1h-1zM29 55h1v1h-1zM35 55h1v1h-1zM38 55h1v1h-1zM41 55h1v1h-1zM47 55h1v1h-1zM94 55h1v1h-1zM96 55h1v1h-1zM1 56h1v1h-1zM10 56h1v1h-1zM19 56h1v1h-1zM50 56h1v1h-1zM61 56h1v1h-1zM74 56h1v1h-1zM94 56h1v1h-1zM42 57h1v1h-1zM54 57h1v1h-1zM72 57h1v1h-1zM98 57h1v1h-1zM7 58h1v1h-1zM44 58h1v1h-1zM51 58h1v1h-1zM60 58h1v1h-1zM64 58h1v1h-1zM91 58h1v1h-1zM31 59h1v1h-1zM57 59h1v1h-1zM63 59h2v1h-2zM75 59h1v1h-1zM80 59h1v1h-1zM87 59h1v1h-1zM1 60h1v1h-1zM9 60h1v1h-1zM16 60h1v1h-1zM37 60h1v1h-1zM46 60h1v1h-1zM49 60h1v1h-1zM52 60h1v1h-1zM16 61h1v1h-1zM25 61h1v1h-1zM71 61h1v1h-1zM77 61h1v1h-1zM94 61h1v1h-1zM7 62h1v1h-1zM10 62h1v1h-1zM18 62h1v1h-1zM28 62h1v1h-1zM34 62h2v1h-2zM39 62h1v1h-1zM62 62h2v1h-2zM77 62h1v1h-1zM89 62h1v1h-1zM7 63h1v1h-1zM34 63h1v1h-1zM52 63h1v1h-1zM57 63h1v1h-1zM8 64h1v1h-1zM11 64h1v1h-1zM54 64h1v1h-1zM87 64h1v1h-1zM90 64h1v1h-1zM1 65h1v1h-1zM3 65h1v1h-1zM7 65h1v1h-1zM10 65h1v1h-1zM15 65h1v1h-1zM69 65h1v1h-1zM77 65h1v1h-1zM86 65h2v1h-2zM97 65h1v1h-1zM6 66h1v1h-1zM10 66h1v1h-1zM37 66h1v1h-1zM96 66h1v1h-1zM16 67h1v1h-1zM31 67h1v1h-1zM54 67h1v1h-1zM74 67h1v1h-1zM82 67h1v1h-1zM7 68h1v1h-1zM21 68h1v1h-1zM25 68h1v1h-1zM52 68h2v1h-2zM60 68h1v1h-1zM65 68h1v1h-1zM97 68h2v1h-2zM6 69h1v1h-1zM20 69h1v1h-1zM38 69h1v1h-1zM47 69h1v1h-1zM65 69h1v1h-1zM43 70h1v1h-1zM71 70h1v1h-1zM92 70h1v1h-1zM94 70h1v1h-1zM4 71h1v1h-1zM21 71h1v1h-1zM27 71h1v1h-1zM55 71h1v1h-1zM58 71h1v1h-1zM72 71h1v1h-1zM79 71h1v1h-1zM96 71h1v1h-1zM6 72h2v1h-2zM13 72h1v1h-1zM62 72h1v1h-1zM4 73h1v1h-1zM20 73h1v1h-1zM40 73h1v1h-1zM15 74h1v1h-1zM22 74h1v1h-1zM51 74h1v1h-1zM72 74h1v1h-1zM79 74h1v1h-1zM96 74h1v1h-1zM0 75h1v1h-1zM5 75h1v1h-1zM15 75h2v1h-2zM26 75h1v1h-1zM64 75h1v1h-1zM77 75h1v1h-1zM81 75h1v1h-1zM14 76h1v1h-1zM22 76h1v1h-1zM43 76h1v1h-1zM45 76h1v1h-1zM51 76h1v1h-1zM56 76h1v1h-1zM60 76h1v1h-1zM33 77h1v1h-1zM65 77h1v1h-1zM92 77h1v1h-1zM6 78h1v1h-1zM14 78h1v1h-1zM56 78h1v1h-1zM67 78h1v1h-1zM93 78h3v1h-3zM12 79h1v1h-1zM18 79h1v1h-1zM35 79h1v1h-1zM57 79h1v1h-1zM59 79h1v1h-1zM61 79h1v1h-1zM76 79h1v1h-1zM88 79h1v1h-1zM16 80h1v1h-1zM83 80h1v1h-1zM41 81h1v1h-1zM51 81h1v1h-1zM59 81h1v1h-1zM64 81h1v1h-1zM84 81h1v1h-1zM95 81h1v1h-1zM43 82h1v1h-1zM52 82h1v1h-1zM56 82h1v1h-1zM61 82h1v1h-1zM94 82h1v1h-1zM12 83h1v1h-1zM15 83h1v1h-1zM44 83h1v1h-1zM65 83h1v1h-1zM3 84h1v1h-1zM6 84h1v1h-1zM15 84h1v1h-1zM18 84h1v1h-1zM48 84h1v1h-1zM83 84h1v1h-1zM94 84h1v1h-1zM34 85h1v1h-1zM65 85h1v1h-1zM70 85h1v1h-1zM23 86h1v1h-1zM38 86h1v1h-1zM57 86h1v1h-1zM65 86h1v1h-1zM13 87h1v1h-1zM16 87h1v1h-1zM53 87h2v1h-2zM61 87h2v1h-2zM74 87h1v1h-1zM78 87h1v1h-1zM3 88h1v1h-1zM16 88h2v1h-2zM60 88h1v1h-1zM62 88h1v1h-1zM83 88h1v1h-1zM10 89h1v1h-1zM20 89h1v1h-1zM22 89h1v1h-1zM72 89h1v1h-1zM79 89h1v1h-1zM85 89h1v1h-1zM16 90h1v1h-1zM26 90h1v1h-1zM62 90h1v1h-1zM64 90h1v1h-1zM79 90h2v1h-2zM82 90h1v1h-1zM89 90h1v1h-1zM93 90h1v1h-1zM13 91h1v1h-1zM16 91h1v1h-1zM21 91h1v1h-1zM41 91h1v1h-1zM80 91h1v1h-1zM86 91h1v1h-1zM88 91h1v1h-1zM93 91h1v1h-1zM26 92h1v1h-1zM31 92h1v1h-1zM33 92h1v1h-1zM35 92h1v1h-1zM48 92h1v1h-1zM51 92h1v1h-1zM56 92h1v1h-1zM82 92h1v1h-1zM30 93h1v1h-1zM54 93h1v1h-1zM72 93h1v1h-1zM84 93h1v1h-1zM0 94h3v1h-3zM38 94h1v1h-1zM63 94h1v1h-1zM68 94h1v1h-1zM81 94h1v1h-1zM97 94h1v1h-1zM21 95h1v1h-1zM28 95h1v1h-1zM60 95h1v1h-1zM85 95h1v1h-1zM94 95h1v1h-1zM26 96h1v1h-1zM83 96h1v1h-1zM87 96h1v1h-1zM91 96h1v1h-1zM20 97h1v1h-1zM62 97h1v1h-1zM65 97h1v1h-1zM85 97h1v1h-1zM99 97h1v1h-1zM20 98h1v1h-1zM43 98h1v1h-1zM52 98h1v1h-1zM68 98h1v1h-1zM70 98h1v1h-1zM92 98h1v1h-1zM94 98h1v1h-1zM19 99h1v1h-1zM52 99h1v1h-1zM78 99h1v1h-1z"/>
<path fill="#B5FF4A" d="M7 0h1v1h-1zM28 0h1v1h-1zM37 0h1v1h-1zM43 0h1v1h-1zM58 0h1v1h-1zM73 0h2v1h-2zM87 0h1v1h-1zM18 1h1v1h-1zM42 1h1v1h-1zM45 1h1v1h-1zM70 1h1v1h-1zM88 1h1v1h-1zM5 2h1v1h-1zM44 2h1v1h-1zM67 2h1v1h-1zM19 3h1v1h-1zM41 3h1v1h-1zM86 3h1v1h-1zM29 4h1v1h-1zM43 4h1v1h-1zM94 4h1v1h-1zM3 5h1v1h-1zM22 5h1v1h-1zM29 5h1v1h-1zM68 5h1v1h-1zM86 5h1v1h-1zM0 6h1v1h-1zM48 6h1v1h-1zM62 6h1v1h-1zM68 6h1v1h-1zM76 6h1v1h-1zM5 7h1v1h-1zM53 7h1v1h-1zM75 7h1v1h-1zM86 7h1v1h-1zM19 8h1v1h-1zM21 8h1v1h-1zM48 8h1v1h-1zM64 8h1v1h-1zM66 8h1v1h-1zM93 8h1v1h-1zM5 9h1v1h-1zM23 9h1v1h-1zM82 9h1v1h-1zM1 10h1v1h-1zM60 10h1v1h-1zM68 10h1v1h-1zM82 10h1v1h-1zM90 10h1v1h-1zM9 11h1v1h-1zM26 11h1v1h-1zM56 11h1v1h-1zM19 12h1v1h-1zM38 12h1v1h-1zM43 12h1v1h-1zM49 12h1v1h-1zM66 12h1v1h-1zM9 13h1v1h-1zM21 13h1v1h-1zM73 13h1v1h-1zM5 14h1v1h-1zM35 14h1v1h-1zM73 14h1v1h-1zM2 15h1v1h-1zM16 15h1v1h-1zM28 15h1v1h-1zM39 15h1v1h-1zM43 15h1v1h-1zM77 15h1v1h-1zM83 15h1v1h-1zM94 15h1v1h-1zM41 16h1v1h-1zM43 16h1v1h-1zM87 16h1v1h-1zM5 17h1v1h-1zM18 17h2v1h-2zM51 17h1v1h-1zM78 17h1v1h-1zM83 17h1v1h-1zM59 18h1v1h-1zM74 18h1v1h-1zM4 19h1v1h-1zM14 19h1v1h-1zM16 19h1v1h-1zM23 19h1v1h-1zM52 19h1v1h-1zM85 19h1v1h-1zM16 20h1v1h-1zM18 20h1v1h-1zM67 20h1v1h-1zM78 20h1v1h-1zM83 20h1v1h-1zM92 20h1v1h-1zM6 21h1v1h-1zM8 21h1v1h-1zM31 21h1v1h-1zM34 21h1v1h-1zM42 21h1v1h-1zM58 21h1v1h-1zM61 21h1v1h-1zM72 21h1v1h-1zM76 21h1v1h-1zM15 22h1v1h-1zM17 22h1v1h-1zM19 22h1v1h-1zM36 22h1v1h-1zM43 22h1v1h-1zM50 22h1v1h-1zM55 22h1v1h-1zM75 22h1v1h-1zM81 22h1v1h-1zM6 23h1v1h-1zM9 23h1v1h-1zM29 23h1v1h-1zM89 23h1v1h-1zM91 23h1v1h-1zM18 24h1v1h-1zM34 24h2v1h-2zM71 24h1v1h-1zM77 24h1v1h-1zM17 25h1v1h-1zM83 25h1v1h-1zM52 26h1v1h-1zM98 26h1v1h-1zM26 27h3v1h-3zM31 27h1v1h-1zM37 27h1v1h-1zM46 27h1v1h-1zM50 27h1v1h-1zM73 27h1v1h-1zM80 27h1v1h-1zM97 27h1v1h-1zM11 28h1v1h-1zM54 28h1v1h-1zM76 28h1v1h-1zM80 28h1v1h-1zM31 29h1v1h-1zM58 29h1v1h-1zM87 29h1v1h-1zM11 30h1v1h-1zM38 30h1v1h-1zM41 30h1v1h-1zM57 30h1v1h-1zM72 30h1v1h-1zM86 30h1v1h-1zM1 31h1v1h-1zM3 31h1v1h-1zM9 31h1v1h-1zM21 31h1v1h-1zM48 31h1v1h-1zM86 31h1v1h-1zM96 31h1v1h-1zM36 32h1v1h-1zM38 32h1v1h-1zM41 32h1v1h-1zM57 32h1v1h-1zM60 32h1v1h-1zM72 32h1v1h-1zM88 32h1v1h-1zM10 33h1v1h-1zM21 33h1v1h-1zM33 33h1v1h-1zM46 33h1v1h-1zM91 33h1v1h-1zM11 34h1v1h-1zM31 34h1v1h-1zM37 34h1v1h-1zM45 34h1v1h-1zM57 34h1v1h-1zM87 34h1v1h-1zM98 34h1v1h-1zM4 35h1v1h-1zM9 35h1v1h-1zM12 35h1v1h-1zM20 35h1v1h-1zM25 35h1v1h-1zM27 35h1v1h-1zM49 35h1v1h-1zM72 35h1v1h-1zM74 35h1v1h-1zM77 35h1v1h-1zM84 35h1v1h-1zM1 36h1v1h-1zM6 36h1v1h-1zM18 36h1v1h-1zM20 36h1v1h-1zM35 36h1v1h-1zM40 36h1v1h-1zM57 36h1v1h-1zM91 36h1v1h-1zM98 36h1v1h-1zM34 37h1v1h-1zM40 37h1v1h-1zM48 37h1v1h-1zM33 38h1v1h-1zM47 38h1v1h-1zM56 38h1v1h-1zM63 38h1v1h-1zM73 38h1v1h-1zM15 39h1v1h-1zM46 39h1v1h-1zM57 39h1v1h-1zM76 39h1v1h-1zM84 39h1v1h-1zM87 39h1v1h-1zM92 39h1v1h-1zM23 40h1v1h-1zM34 40h1v1h-1zM55 40h1v1h-1zM66 40h1v1h-1zM88 40h1v1h-1zM94 40h1v1h-1zM2 41h1v1h-1zM8 41h1v1h-1zM14 41h1v1h-1zM32 41h2v1h-2zM75 41h1v1h-1zM81 41h1v1h-1zM91 41h1v1h-1zM7 42h1v1h-1zM26 42h1v1h-1zM37 42h1v1h-1zM54 42h1v1h-1zM78 42h1v1h-1zM10 43h1v1h-1zM15 43h1v1h-1zM21 43h1v1h-1zM23 43h2v1h-2zM36 43h1v1h-1zM52 43h1v1h-1zM79 43h1v1h-1zM1 44h1v1h-1zM11 44h1v1h-1zM31 44h1v1h-1zM34 44h1v1h-1zM58 44h1v1h-1zM5 45h2v1h-2zM21 45h1v1h-1zM25 45h1v1h-1zM28 45h1v1h-1zM60 45h1v1h-1zM97 45h1v1h-1zM8 46h3v1h-3zM29 46h1v1h-1zM34 46h1v1h-1zM37 46h1v1h-1zM42 46h2v1h-2zM54 46h1v1h-1zM14 47h1v1h-1zM17 47h2v1h-2zM42 47h1v1h-1zM60 47h1v1h-1zM74 47h1v1h-1zM94 47h1v1h-1zM3 48h1v1h-1zM38 48h1v1h-1zM80 48h1v1h-1zM82 48h1v1h-1zM86 48h1v1h-1zM6 49h1v1h-1zM46 49h1v1h-1zM61 49h1v1h-1zM77 49h1v1h-1zM81 49h1v1h-1zM53 50h1v1h-1zM56 50h1v1h-1zM63 50h1v1h-1zM68 50h1v1h-1zM85 50h1v1h-1zM91 50h1v1h-1zM24 51h1v1h-1zM49 51h1v1h-1zM51 51h1v1h-1zM57 51h1v1h-1zM66 51h1v1h-1zM83 51h1v1h-1zM2 52h1v1h-1zM11 52h1v1h-1zM30 52h1v1h-1zM41 52h1v1h-1zM44 52h1v1h-1zM0 53h1v1h-1zM3 53h1v1h-1zM20 53h1v1h-1zM25 53h1v1h-1zM67 53h1v1h-1zM95 53h1v1h-1zM97 53h1v1h-1zM23 54h1v1h-1zM47 54h1v1h-1zM34 55h1v1h-1zM36 55h1v1h-1zM53 55h1v1h-1zM9 56h1v1h-1zM23 56h2v1h-2zM46 56h1v1h-1zM24 57h1v1h-1zM30 57h1v1h-1zM47 57h1v1h-1zM96 57h1v1h-1zM8 58h1v1h-1zM86 58h1v1h-1zM90 58h1v1h-1zM95 58h1v1h-1zM20 59h1v1h-1zM41 59h1v1h-1zM59 59h1v1h-1zM94 59h1v1h-1zM6 60h1v1h-1zM84 60h1v1h-1zM88 60h1v1h-1zM18 61h1v1h-1zM26 61h1v1h-1zM66 61h1v1h-1zM19 62h1v1h-1zM40 62h1v1h-1zM54 62h1v1h-1zM84 62h1v1h-1zM90 62h1v1h-1zM3 63h1v1h-1zM17 63h1v1h-1zM20 63h1v1h-1zM40 63h1v1h-1zM45 63h1v1h-1zM50 63h1v1h-1zM65 63h1v1h-1zM68 63h1v1h-1zM79 63h1v1h-1zM89 63h1v1h-1zM92 63h1v1h-1zM96 63h1v1h-1zM99 63h1v1h-1zM2 64h1v1h-1zM14 64h1v1h-1zM16 64h1v1h-1zM36 64h1v1h-1zM55 64h1v1h-1zM81 64h1v1h-1zM93 64h1v1h-1zM0 65h1v1h-1zM27 65h1v1h-1zM42 65h1v1h-1zM46 65h1v1h-1zM51 65h1v1h-1zM68 65h1v1h-1zM70 65h1v1h-1zM83 65h1v1h-1zM93 65h1v1h-1zM25 66h1v1h-1zM35 66h1v1h-1zM42 66h1v1h-1zM54 66h1v1h-1zM71 66h1v1h-1zM98 66h1v1h-1zM17 67h1v1h-1zM23 67h1v1h-1zM40 67h1v1h-1zM65 67h1v1h-1zM45 68h1v1h-1zM87 68h2v1h-2zM22 69h1v1h-1zM46 69h1v1h-1zM70 69h1v1h-1zM84 69h1v1h-1zM21 70h1v1h-1zM30 70h1v1h-1zM37 70h1v1h-1zM2 71h2v1h-2zM45 71h1v1h-1zM65 71h1v1h-1zM93 71h1v1h-1zM17 72h1v1h-1zM37 72h1v1h-1zM47 72h1v1h-1zM51 72h1v1h-1zM73 72h1v1h-1zM82 72h1v1h-1zM0 73h1v1h-1zM29 73h1v1h-1zM31 73h1v1h-1zM35 73h1v1h-1zM44 73h1v1h-1zM51 73h1v1h-1zM55 73h1v1h-1zM75 73h1v1h-1zM78 73h1v1h-1zM9 74h1v1h-1zM39 74h1v1h-1zM41 74h1v1h-1zM45 74h1v1h-1zM62 74h2v1h-2zM66 74h1v1h-1zM69 74h1v1h-1zM98 74h1v1h-1zM32 75h1v1h-1zM34 75h1v1h-1zM38 75h1v1h-1zM46 75h1v1h-1zM91 75h2v1h-2zM81 76h1v1h-1zM17 77h1v1h-1zM42 77h1v1h-1zM63 77h1v1h-1zM91 77h1v1h-1zM25 78h1v1h-1zM47 78h1v1h-1zM54 78h1v1h-1zM62 78h1v1h-1zM64 78h1v1h-1zM91 78h1v1h-1zM3 79h1v1h-1zM14 79h1v1h-1zM42 79h1v1h-1zM49 79h2v1h-2zM53 79h1v1h-1zM96 79h1v1h-1zM10 80h1v1h-1zM24 80h1v1h-1zM40 80h1v1h-1zM72 80h1v1h-1zM75 80h1v1h-1zM90 80h1v1h-1zM0 81h1v1h-1zM6 81h1v1h-1zM9 81h1v1h-1zM21 81h1v1h-1zM43 81h1v1h-1zM71 81h1v1h-1zM78 81h1v1h-1zM93 81h1v1h-1zM6 82h1v1h-1zM25 82h2v1h-2zM35 82h1v1h-1zM41 82h1v1h-1zM45 82h1v1h-1zM54 82h1v1h-1zM74 82h1v1h-1zM82 82h1v1h-1zM87 82h1v1h-1zM91 82h1v1h-1zM2 83h1v1h-1zM29 83h1v1h-1zM40 83h1v1h-1zM51 83h1v1h-1zM66 83h1v1h-1zM78 83h2v1h-2zM94 83h1v1h-1zM7 84h1v1h-1zM30 84h1v1h-1zM43 84h1v1h-1zM79 84h1v1h-1zM88 84h1v1h-1zM90 84h1v1h-1zM99 84h1v1h-1zM51 85h1v1h-1zM64 85h1v1h-1zM80 85h1v1h-1zM90 85h1v1h-1zM98 85h1v1h-1zM3 86h1v1h-1zM5 86h1v1h-1zM88 86h1v1h-1zM97 86h1v1h-1zM7 87h1v1h-1zM10 87h1v1h-1zM15 87h1v1h-1zM23 87h1v1h-1zM33 87h1v1h-1zM36 87h1v1h-1zM45 87h1v1h-1zM67 87h1v1h-1zM70 87h1v1h-1zM75 87h1v1h-1zM35 88h1v1h-1zM37 88h1v1h-1zM72 88h2v1h-2zM76 88h1v1h-1zM92 88h1v1h-1zM14 89h1v1h-1zM21 89h1v1h-1zM75 89h1v1h-1zM84 89h1v1h-1zM91 89h1v1h-1zM99 89h1v1h-1zM6 90h1v1h-1zM13 90h1v1h-1zM20 90h2v1h-2zM63 90h1v1h-1zM69 90h1v1h-1zM84 90h1v1h-1zM29 91h1v1h-1zM31 91h1v1h-1zM63 91h1v1h-1zM65 91h1v1h-1zM90 91h1v1h-1zM92 91h1v1h-1zM24 92h1v1h-1zM73 92h1v1h-1zM2 93h1v1h-1zM42 93h1v1h-1zM63 93h1v1h-1zM27 94h1v1h-1zM58 94h1v1h-1zM77 94h1v1h-1zM6 95h1v1h-1zM29 95h1v1h-1zM34 95h1v1h-1zM42 95h1v1h-1zM66 95h2v1h-2zM74 95h1v1h-1zM17 96h1v1h-1zM21 96h1v1h-1zM25 96h1v1h-1zM28 96h1v1h-1zM44 96h1v1h-1zM48 96h1v1h-1zM57 96h1v1h-1zM7 97h1v1h-1zM48 97h1v1h-1zM50 97h1v1h-1zM56 97h1v1h-1zM81 97h1v1h-1zM3 98h1v1h-1zM28 98h1v1h-1zM34 98h1v1h-1zM42 98h1v1h-1zM55 98h1v1h-1zM73 98h1v1h-1zM86 98h1v1h-1zM99 98h1v1h-1zM41 99h1v1h-1zM51 99h1v1h-1zM56 99h1v1h-1zM60 99h1v1h-1z"/>
<path fill="#CAFF35" d="M0 0h1v1h-1zM10 0h1v1h-1zM19 0h1v1h-1zM48 0h1v1h-1zM76 0h1v1h-1zM84 0h1v1h-1zM95 0h1v1h-1zM10 1h1v1h-1zM95 1h2v1h-2zM7 2h1v1h-1zM9 2h1v1h-1zM16 2h1v1h-1zM29 2h1v1h-1zM36 2h1v1h-1zM55 2h1v1h-1zM58 2h1v1h-1zM64 2h2v1h-2zM74 2h1v1h-1zM85 2h1v1h-1zM88 2h1v1h-1zM27 3h1v1h-1zM45 3h1v1h-1zM54 3h1v1h-1zM1 4h1v1h-1zM5 4h1v1h-1zM36 4h1v1h-1zM80 4h1v1h-1zM82 4h1v1h-1zM1 5h1v1h-1zM9 5h1v1h-1zM46 5h1v1h-1zM97 5h1v1h-1zM8 6h2v1h-2zM24 6h1v1h-1zM36 6h1v1h-1zM55 6h1v1h-1zM75 6h1v1h-1zM91 6h1v1h-1zM17 7h1v1h-1zM32 7h1v1h-1zM51 7h1v1h-1zM0 8h1v1h-1zM8 8h1v1h-1zM33 8h1v1h-1zM60 8h1v1h-1zM69 8h1v1h-1zM3 9h1v1h-1zM12 9h1v1h-1zM51 9h1v1h-1zM81 9h1v1h-1zM83 9h1v1h-1zM8 10h1v1h-1zM27 10h2v1h-2zM35 10h1v1h-1zM40 10h1v1h-1zM89 10h1v1h-1zM17 11h1v1h-1zM37 11h1v1h-1zM50 11h1v1h-1zM73 11h1v1h-1zM77 11h1v1h-1zM83 11h1v1h-1zM88 11h1v1h-1zM7 12h1v1h-1zM36 12h1v1h-1zM48 12h1v1h-1zM89 12h1v1h-1zM99 12h1v1h-1zM19 13h1v1h-1zM30 13h1v1h-1zM37 13h1v1h-1zM42 13h1v1h-1zM64 13h1v1h-1zM28 14h1v1h-1zM71 14h1v1h-1zM82 14h1v1h-1zM84 14h1v1h-1zM86 14h1v1h-1zM7 15h1v1h-1zM25 15h1v1h-1zM57 15h1v1h-1zM71 15h1v1h-1zM76 15h1v1h-1zM56 16h1v1h-1zM7 17h1v1h-1zM9 17h1v1h-1zM43 17h2v1h-2zM47 17h1v1h-1zM56 17h1v1h-1zM85 17h1v1h-1zM2 18h1v1h-1zM15 18h1v1h-1zM37 18h1v1h-1zM49 18h1v1h-1zM70 18h1v1h-1zM76 18h1v1h-1zM85 18h1v1h-1zM88 18h1v1h-1zM98 18h1v1h-1zM33 19h1v1h-1zM82 19h1v1h-1zM13 20h1v1h-1zM25 20h1v1h-1zM27 20h1v1h-1zM51 20h1v1h-1zM56 20h1v1h-1zM84 20h1v1h-1zM27 21h1v1h-1zM56 21h1v1h-1zM73 21h1v1h-1zM82 21h1v1h-1zM9 22h1v1h-1zM11 22h1v1h-1zM29 22h1v1h-1zM37 22h1v1h-1zM88 22h1v1h-1zM2 23h1v1h-1zM30 23h1v1h-1zM42 23h1v1h-1zM44 23h1v1h-1zM54 23h1v1h-1zM66 23h1v1h-1zM70 23h1v1h-1zM14 24h1v1h-1zM58 24h1v1h-1zM78 24h1v1h-1zM5 25h1v1h-1zM72 25h1v1h-1zM80 25h1v1h-1zM4 26h1v1h-1zM27 26h1v1h-1zM45 26h1v1h-1zM76 26h1v1h-1zM78 26h1v1h-1zM80 26h1v1h-1zM53 27h1v1h-1zM3 28h1v1h-1zM6 28h1v1h-1zM72 29h1v1h-1zM83 29h1v1h-1zM7 30h1v1h-1zM35 30h1v1h-1zM37 30h1v1h-1zM69 30h1v1h-1zM76 30h1v1h-1zM88 30h1v1h-1zM27 31h1v1h-1zM35 31h1v1h-1zM56 31h1v1h-1zM75 31h1v1h-1zM82 31h1v1h-1zM87 31h1v1h-1zM19 32h1v1h-1zM37 32h1v1h-1zM40 32h1v1h-1zM69 32h1v1h-1zM9 33h1v1h-1zM26 33h1v1h-1zM90 33h1v1h-1zM96 33h1v1h-1zM4 34h1v1h-1zM30 34h1v1h-1zM48 34h1v1h-1zM94 34h1v1h-1zM19 35h1v1h-1zM24 35h1v1h-1zM32 35h2v1h-2zM56 35h1v1h-1zM44 36h1v1h-1zM59 36h1v1h-1zM92 36h1v1h-1zM15 37h1v1h-1zM53 37h1v1h-1zM72 37h1v1h-1zM83 37h1v1h-1zM0 38h1v1h-1zM14 38h2v1h-2zM20 38h1v1h-1zM23 38h1v1h-1zM41 38h1v1h-1zM48 38h1v1h-1zM67 38h1v1h-1zM75 39h1v1h-1zM6 40h1v1h-1zM12 40h1v1h-1zM17 40h1v1h-1zM37 40h1v1h-1zM59 40h1v1h-1zM70 40h1v1h-1zM75 40h1v1h-1zM9 41h1v1h-1zM17 41h1v1h-1zM47 41h1v1h-1zM80 41h1v1h-1zM10 42h1v1h-1zM23 42h1v1h-1zM36 42h1v1h-1zM0 43h1v1h-1zM4 43h1v1h-1zM27 43h1v1h-1zM80 43h1v1h-1zM77 44h1v1h-1zM87 44h1v1h-1zM15 45h1v1h-1zM62 45h1v1h-1zM64 45h1v1h-1zM78 45h1v1h-1zM85 45h1v1h-1zM88 45h1v1h-1zM20 46h1v1h-1zM45 46h1v1h-1zM69 46h1v1h-1zM71 46h1v1h-1zM8 47h1v1h-1zM64 47h1v1h-1zM24 48h1v1h-1zM36 48h1v1h-1zM36 49h1v1h-1zM44 49h1v1h-1zM50 49h1v1h-1zM66 49h1v1h-1zM78 49h1v1h-1zM96 49h1v1h-1zM39 50h1v1h-1zM47 50h1v1h-1zM66 50h1v1h-1zM2 51h1v1h-1zM7 51h1v1h-1zM18 51h1v1h-1zM46 51h1v1h-1zM84 51h1v1h-1zM99 51h1v1h-1zM16 52h1v1h-1zM49 52h1v1h-1zM62 52h1v1h-1zM81 52h1v1h-1zM1 53h1v1h-1zM18 53h1v1h-1zM21 53h1v1h-1zM27 53h1v1h-1zM60 53h1v1h-1zM93 53h1v1h-1zM9 54h1v1h-1zM11 54h1v1h-1zM29 54h1v1h-1zM40 54h1v1h-1zM73 54h2v1h-2zM76 54h1v1h-1zM85 54h1v1h-1zM3 55h1v1h-1zM56 55h1v1h-1zM58 55h1v1h-1zM64 55h1v1h-1zM70 55h1v1h-1zM74 55h1v1h-1zM79 55h2v1h-2zM88 55h1v1h-1zM25 56h1v1h-1zM35 56h1v1h-1zM85 56h1v1h-1zM87 56h1v1h-1zM91 56h1v1h-1zM0 57h1v1h-1zM16 57h1v1h-1zM37 57h1v1h-1zM48 57h1v1h-1zM55 57h1v1h-1zM84 57h1v1h-1zM94 57h1v1h-1zM15 58h1v1h-1zM37 58h1v1h-1zM55 58h1v1h-1zM61 58h1v1h-1zM70 58h1v1h-1zM92 58h1v1h-1zM11 59h2v1h-2zM35 59h1v1h-1zM5 60h1v1h-1zM7 60h1v1h-1zM31 60h1v1h-1zM63 60h1v1h-1zM82 60h1v1h-1zM99 60h1v1h-1zM13 61h1v1h-1zM29 61h1v1h-1zM38 61h1v1h-1zM78 61h1v1h-1zM84 61h1v1h-1zM98 61h1v1h-1zM1 62h1v1h-1zM6 62h1v1h-1zM20 62h1v1h-1zM26 62h1v1h-1zM65 62h1v1h-1zM67 62h1v1h-1zM92 62h1v1h-1zM56 63h1v1h-1zM58 63h1v1h-1zM60 63h1v1h-1zM77 63h1v1h-1zM97 63h1v1h-1zM17 64h1v1h-1zM21 64h1v1h-1zM29 64h1v1h-1zM73 64h1v1h-1zM76 64h1v1h-1zM92 64h1v1h-1zM8 65h1v1h-1zM16 65h1v1h-1zM48 65h3v1h-3zM57 65h1v1h-1zM81 65h1v1h-1zM23 66h1v1h-1zM50 66h1v1h-1zM57 66h1v1h-1zM70 66h1v1h-1zM76 66h1v1h-1zM13 67h1v1h-1zM52 67h1v1h-1zM64 67h1v1h-1zM69 67h1v1h-1zM91 67h1v1h-1zM10 68h1v1h-1zM24 68h1v1h-1zM29 68h1v1h-1zM41 68h1v1h-1zM56 68h1v1h-1zM68 68h1v1h-1zM89 68h1v1h-1zM93 68h1v1h-1zM99 68h1v1h-1zM32 69h1v1h-1zM69 69h1v1h-1zM79 69h1v1h-1zM4 70h1v1h-1zM16 70h1v1h-1zM59 70h1v1h-1zM72 70h1v1h-1zM79 70h1v1h-1zM5 71h1v1h-1zM22 71h1v1h-1zM34 71h1v1h-1zM71 71h1v1h-1zM85 71h1v1h-1zM5 72h1v1h-1zM8 72h1v1h-1zM72 72h1v1h-1zM90 72h1v1h-1zM96 72h1v1h-1zM7 73h2v1h-2zM71 73h1v1h-1zM87 73h1v1h-1zM19 74h1v1h-1zM26 74h1v1h-1zM47 74h1v1h-1zM67 74h1v1h-1zM73 74h1v1h-1zM90 74h1v1h-1zM93 74h1v1h-1zM58 75h1v1h-1zM85 75h1v1h-1zM7 76h1v1h-1zM20 76h2v1h-2zM26 76h1v1h-1zM33 76h1v1h-1zM35 76h1v1h-1zM75 76h1v1h-1zM78 76h1v1h-1zM84 76h1v1h-1zM91 76h1v1h-1zM36 77h1v1h-1zM51 77h1v1h-1zM71 77h1v1h-1zM84 77h1v1h-1zM7 78h1v1h-1zM21 78h1v1h-1zM50 78h1v1h-1zM68 78h1v1h-1zM72 78h1v1h-1zM82 78h1v1h-1zM85 78h1v1h-1zM31 79h1v1h-1zM84 79h1v1h-1zM98 79h1v1h-1zM14 80h1v1h-1zM21 80h1v1h-1zM31 80h1v1h-1zM36 80h1v1h-1zM66 80h1v1h-1zM33 81h1v1h-1zM57 81h1v1h-1zM0 82h1v1h-1zM22 82h1v1h-1zM31 82h1v1h-1zM46 82h1v1h-1zM55 82h1v1h-1zM72 82h1v1h-1zM85 82h1v1h-1zM99 82h1v1h-1zM18 83h1v1h-1zM27 83h1v1h-1zM62 83h1v1h-1zM67 83h1v1h-1zM76 83h1v1h-1zM17 84h1v1h-1zM31 84h1v1h-1zM42 84h1v1h-1zM21 85h1v1h-1zM57 85h1v1h-1zM71 85h2v1h-2zM92 85h1v1h-1zM26 86h1v1h-1zM48 86h1v1h-1zM70 86h1v1h-1zM94 86h1v1h-1zM22 87h1v1h-1zM52 87h1v1h-1zM85 87h1v1h-1zM14 88h1v1h-1zM23 88h1v1h-1zM27 88h1v1h-1zM38 88h1v1h-1zM82 88h1v1h-1zM86 88h1v1h-1zM88 88h1v1h-1zM27 89h1v1h-1zM39 89h1v1h-1zM44 89h1v1h-1zM52 89h1v1h-1zM55 89h1v1h-1zM61 89h2v1h-2zM82 89h1v1h-1zM6 91h1v1h-1zM17 91h1v1h-1zM25 91h1v1h-1zM33 91h1v1h-1zM48 91h1v1h-1zM85 91h1v1h-1zM96 91h1v1h-1zM7 92h1v1h-1zM20 92h1v1h-1zM38 92h1v1h-1zM57 92h2v1h-2zM95 92h1v1h-1zM98 92h1v1h-1zM25 93h1v1h-1zM67 93h1v1h-1zM65 94h2v1h-2zM79 94h1v1h-1zM19 95h1v1h-1zM37 95h1v1h-1zM46 95h1v1h-1zM56 95h1v1h-1zM68 95h2v1h-2zM92 95h1v1h-1zM6 96h1v1h-1zM11 96h1v1h-1zM19 96h1v1h-1zM30 96h1v1h-1zM47 96h1v1h-1zM80 96h1v1h-1zM90 96h1v1h-1zM93 96h1v1h-1zM98 96h1v1h-1zM2 97h2v1h-2zM10 97h1v1h-1zM30 97h1v1h-1zM46 97h1v1h-1zM58 97h1v1h-1zM60 97h1v1h-1zM6 98h2v1h-2zM60 98h1v1h-1zM67 98h1v1h-1zM81 98h1v1h-1zM97 98h1v1h-1zM10 99h1v1h-1zM35 99h1v1h-1zM40 99h1v1h-1zM49 99h1v1h-1zM57 99h1v1h-1zM68 99h1v1h-1zM79 99h1v1h-1zM84 99h1v1h-1z"/>
<path fill="#DFFF20" d="M31 0h1v1h-1zM41 0h1v1h-1zM81 0h1v1h-1zM86 0h1v1h-1zM4 1h1v1h-1zM15 1h1v1h-1zM31 1h1v1h-1zM35 1h1v1h-1zM90 1h1v1h-1zM11 2h1v1h-1zM33 2h1v1h-1zM61 2h2v1h-2zM96 2h1v1h-1zM32 3h1v1h-1zM72 3h1v1h-1zM78 3h1v1h-1zM15 4h1v1h-1zM56 4h3v1h-3zM62 4h1v1h-1zM88 4h1v1h-1zM24 5h1v1h-1zM33 5h1v1h-1zM44 5h2v1h-2zM53 5h1v1h-1zM60 5h1v1h-1zM85 5h1v1h-1zM98 5h1v1h-1zM2 6h1v1h-1zM6 6h1v1h-1zM44 6h1v1h-1zM78 6h1v1h-1zM93 6h1v1h-1zM1 7h1v1h-1zM44 7h1v1h-1zM56 7h2v1h-2zM59 7h1v1h-1zM14 8h1v1h-1zM28 8h1v1h-1zM68 8h1v1h-1zM0 9h1v1h-1zM6 9h1v1h-1zM9 9h1v1h-1zM42 9h1v1h-1zM48 9h1v1h-1zM62 9h1v1h-1zM94 9h1v1h-1zM7 10h1v1h-1zM26 10h1v1h-1zM39 10h1v1h-1zM47 10h1v1h-1zM83 10h1v1h-1zM24 11h1v1h-1zM36 11h1v1h-1zM8 12h1v1h-1zM17 12h1v1h-1zM29 12h1v1h-1zM33 12h1v1h-1zM57 12h1v1h-1zM75 12h1v1h-1zM6 13h1v1h-1zM25 13h1v1h-1zM82 13h1v1h-1zM23 14h1v1h-1zM34 14h1v1h-1zM40 14h1v1h-1zM3 15h1v1h-1zM29 15h1v1h-1zM60 15h1v1h-1zM68 15h1v1h-1zM86 15h1v1h-1zM9 16h1v1h-1zM25 16h1v1h-1zM73 16h1v1h-1zM3 17h1v1h-1zM8 17h1v1h-1zM14 17h1v1h-1zM33 17h1v1h-1zM45 17h1v1h-1zM58 17h1v1h-1zM70 17h1v1h-1zM81 17h2v1h-2zM97 17h1v1h-1zM7 18h1v1h-1zM78 18h1v1h-1zM84 18h1v1h-1zM90 18h1v1h-1zM93 18h1v1h-1zM96 18h1v1h-1zM7 19h1v1h-1zM18 19h1v1h-1zM70 19h1v1h-1zM79 19h1v1h-1zM93 19h1v1h-1zM97 19h1v1h-1zM19 20h1v1h-1zM49 20h1v1h-1zM82 20h1v1h-1zM87 20h1v1h-1zM99 20h1v1h-1zM15 21h1v1h-1zM20 21h1v1h-1zM24 21h1v1h-1zM39 21h1v1h-1zM45 21h1v1h-1zM50 21h1v1h-1zM52 21h1v1h-1zM93 21h1v1h-1zM68 22h2v1h-2zM83 22h1v1h-1zM3 23h1v1h-1zM31 23h1v1h-1zM58 23h1v1h-1zM60 23h1v1h-1zM68 23h1v1h-1zM78 23h1v1h-1zM92 23h1v1h-1zM13 24h1v1h-1zM39 24h1v1h-1zM47 24h1v1h-1zM53 24h1v1h-1zM21 25h1v1h-1zM30 25h1v1h-1zM35 25h1v1h-1zM52 25h1v1h-1zM64 25h1v1h-1zM78 25h1v1h-1zM16 26h1v1h-1zM26 26h1v1h-1zM49 26h1v1h-1zM60 26h1v1h-1zM62 26h1v1h-1zM89 26h1v1h-1zM96 26h1v1h-1zM2 27h1v1h-1zM17 27h1v1h-1zM35 27h1v1h-1zM14 28h2v1h-2zM33 28h1v1h-1zM61 28h1v1h-1zM7 29h1v1h-1zM22 29h2v1h-2zM68 29h1v1h-1zM74 29h1v1h-1zM5 30h1v1h-1zM28 30h1v1h-1zM34 30h1v1h-1zM6 31h1v1h-1zM58 31h1v1h-1zM84 31h1v1h-1zM93 31h1v1h-1zM1 32h2v1h-2zM84 32h1v1h-1zM98 32h1v1h-1zM22 33h1v1h-1zM61 33h1v1h-1zM76 33h1v1h-1zM3 34h1v1h-1zM77 34h1v1h-1zM90 34h1v1h-1zM11 35h1v1h-1zM92 35h1v1h-1zM64 36h1v1h-1zM77 36h1v1h-1zM85 36h1v1h-1zM96 36h1v1h-1zM29 37h1v1h-1zM41 37h1v1h-1zM56 37h1v1h-1zM63 37h1v1h-1zM13 39h1v1h-1zM28 39h1v1h-1zM41 39h1v1h-1zM80 39h1v1h-1zM82 39h1v1h-1zM97 39h1v1h-1zM0 40h1v1h-1zM25 40h1v1h-1zM38 40h1v1h-1zM11 41h1v1h-1zM24 41h1v1h-1zM27 41h1v1h-1zM31 41h1v1h-1zM63 41h1v1h-1zM15 42h1v1h-1zM31 42h1v1h-1zM52 42h1v1h-1zM56 42h1v1h-1zM66 42h1v1h-1zM68 42h1v1h-1zM76 42h1v1h-1zM83 42h1v1h-1zM90 42h1v1h-1zM11 43h1v1h-1zM25 43h1v1h-1zM30 43h1v1h-1zM45 43h1v1h-1zM65 43h1v1h-1zM76 43h1v1h-1zM9 44h1v1h-1zM18 44h1v1h-1zM26 44h1v1h-1zM38 44h1v1h-1zM98 44h1v1h-1zM1 45h1v1h-1zM3 45h1v1h-1zM12 45h1v1h-1zM77 45h1v1h-1zM82 45h1v1h-1zM24 46h1v1h-1zM78 46h1v1h-1zM1 47h1v1h-1zM15 48h1v1h-1zM26 48h1v1h-1zM35 48h1v1h-1zM40 48h1v1h-1zM68 48h1v1h-1zM76 48h1v1h-1zM1 49h1v1h-1zM3 49h1v1h-1zM15 49h1v1h-1zM37 49h1v1h-1zM42 49h1v1h-1zM47 49h1v1h-1zM54 49h1v1h-1zM68 49h1v1h-1zM80 49h1v1h-1zM91 49h1v1h-1zM13 50h3v1h-3zM43 50h1v1h-1zM23 51h1v1h-1zM38 51h1v1h-1zM52 51h1v1h-1zM64 51h1v1h-1zM72 51h1v1h-1zM80 51h1v1h-1zM35 52h1v1h-1zM61 52h1v1h-1zM64 52h1v1h-1zM75 52h1v1h-1zM83 52h1v1h-1zM7 53h1v1h-1zM29 53h1v1h-1zM44 53h1v1h-1zM46 53h1v1h-1zM69 53h1v1h-1zM72 53h1v1h-1zM74 53h1v1h-1zM82 53h1v1h-1zM91 53h1v1h-1zM0 54h1v1h-1zM35 54h1v1h-1zM50 54h1v1h-1zM58 54h1v1h-1zM69 54h1v1h-1zM75 54h1v1h-1zM84 54h1v1h-1zM97 54h1v1h-1zM6 55h2v1h-2zM23 55h1v1h-1zM60 55h1v1h-1zM47 56h1v1h-1zM52 56h1v1h-1zM58 56h1v1h-1zM62 56h1v1h-1zM71 56h1v1h-1zM86 56h1v1h-1zM15 57h1v1h-1zM22 57h1v1h-1zM28 57h2v1h-2zM52 57h1v1h-1zM95 57h1v1h-1zM12 58h1v1h-1zM32 58h1v1h-1zM36 58h1v1h-1zM45 58h1v1h-1zM65 58h1v1h-1zM68 58h1v1h-1zM98 58h1v1h-1zM4 59h1v1h-1zM13 59h2v1h-2zM39 59h2v1h-2zM60 59h1v1h-1zM84 59h1v1h-1zM8 60h1v1h-1zM73 60h1v1h-1zM77 60h1v1h-1zM79 60h2v1h-2zM20 61h1v1h-1zM65 61h1v1h-1zM5 62h1v1h-1zM11 62h2v1h-2zM31 62h1v1h-1zM41 62h1v1h-1zM44 62h1v1h-1zM48 62h1v1h-1zM81 62h1v1h-1zM42 63h1v1h-1zM76 63h1v1h-1zM98 63h1v1h-1zM30 64h1v1h-1zM32 64h1v1h-1zM41 64h1v1h-1zM63 64h1v1h-1zM74 64h1v1h-1zM78 64h1v1h-1zM91 64h1v1h-1zM94 64h1v1h-1zM18 65h1v1h-1zM39 65h1v1h-1zM71 65h1v1h-1zM85 65h1v1h-1zM98 65h1v1h-1zM16 66h1v1h-1zM48 66h1v1h-1zM69 66h1v1h-1zM77 66h1v1h-1zM11 67h1v1h-1zM25 67h1v1h-1zM61 67h1v1h-1zM68 67h1v1h-1zM76 67h1v1h-1zM88 67h1v1h-1zM3 68h1v1h-1zM9 68h1v1h-1zM66 68h1v1h-1zM73 68h1v1h-1zM96 68h1v1h-1zM24 69h1v1h-1zM26 69h1v1h-1zM83 69h1v1h-1zM91 69h1v1h-1zM93 69h1v1h-1zM97 69h1v1h-1zM7 70h1v1h-1zM49 70h1v1h-1zM55 70h1v1h-1zM76 70h1v1h-1zM80 70h1v1h-1zM97 70h1v1h-1zM1 71h1v1h-1zM35 71h1v1h-1zM52 72h1v1h-1zM77 72h2v1h-2zM93 72h1v1h-1zM16 73h1v1h-1zM19 73h1v1h-1zM47 73h1v1h-1zM50 73h1v1h-1zM52 73h1v1h-1zM93 73h1v1h-1zM95 73h1v1h-1zM17 74h1v1h-1zM30 74h1v1h-1zM42 74h1v1h-1zM71 74h1v1h-1zM88 74h1v1h-1zM20 75h1v1h-1zM33 75h1v1h-1zM54 75h1v1h-1zM56 75h1v1h-1zM86 75h1v1h-1zM96 75h1v1h-1zM39 76h1v1h-1zM63 76h1v1h-1zM70 76h1v1h-1zM29 77h1v1h-1zM44 77h1v1h-1zM52 77h1v1h-1zM68 77h2v1h-2zM74 77h1v1h-1zM79 77h1v1h-1zM3 78h1v1h-1zM12 78h1v1h-1zM51 78h1v1h-1zM84 78h1v1h-1zM2 79h1v1h-1zM17 79h1v1h-1zM21 79h1v1h-1zM38 79h1v1h-1zM79 79h1v1h-1zM97 79h1v1h-1zM7 80h1v1h-1zM37 80h1v1h-1zM55 80h1v1h-1zM70 80h1v1h-1zM76 80h1v1h-1zM95 80h1v1h-1zM5 81h1v1h-1zM17 81h1v1h-1zM26 81h1v1h-1zM28 81h1v1h-1zM31 81h2v1h-2zM34 81h2v1h-2zM38 81h1v1h-1zM49 81h1v1h-1zM62 81h1v1h-1zM12 82h1v1h-1zM19 82h1v1h-1zM24 82h1v1h-1zM29 82h1v1h-1zM4 83h1v1h-1zM13 83h1v1h-1zM26 83h1v1h-1zM35 83h1v1h-1zM39 83h1v1h-1zM60 83h1v1h-1zM70 83h1v1h-1zM88 83h1v1h-1zM32 84h1v1h-1zM46 84h1v1h-1zM77 84h1v1h-1zM5 85h1v1h-1zM72 86h2v1h-2zM78 86h1v1h-1zM89 86h1v1h-1zM35 87h1v1h-1zM46 87h1v1h-1zM51 87h1v1h-1zM66 87h1v1h-1zM68 87h1v1h-1zM86 87h1v1h-1zM2 88h1v1h-1zM77 88h1v1h-1zM5 89h1v1h-1zM7 89h1v1h-1zM13 89h1v1h-1zM36 89h2v1h-2zM54 89h1v1h-1zM88 89h1v1h-1zM94 89h1v1h-1zM29 90h1v1h-1zM68 90h1v1h-1zM70 90h1v1h-1zM81 90h1v1h-1zM8 91h1v1h-1zM34 91h1v1h-1zM46 91h1v1h-1zM50 91h1v1h-1zM62 91h1v1h-1zM66 91h1v1h-1zM78 91h1v1h-1zM81 91h1v1h-1zM2 92h1v1h-1zM49 92h1v1h-1zM10 93h1v1h-1zM19 93h1v1h-1zM15 94h1v1h-1zM25 94h1v1h-1zM50 94h1v1h-1zM87 94h1v1h-1zM89 94h1v1h-1zM2 95h1v1h-1zM70 95h1v1h-1zM37 96h1v1h-1zM42 96h1v1h-1zM77 96h1v1h-1zM96 96h1v1h-1zM21 97h1v1h-1zM33 97h2v1h-2zM38 97h2v1h-2zM43 97h2v1h-2zM51 97h1v1h-1zM67 97h1v1h-1zM79 97h1v1h-1zM12 98h1v1h-1zM32 98h1v1h-1zM48 98h1v1h-1zM50 98h1v1h-1zM66 98h1v1h-1zM71 98h1v1h-1zM88 98h1v1h-1zM90 98h1v1h-1zM28 99h1v1h-1zM61 99h1v1h-1zM63 99h1v1h-1zM82 99h1v1h-1z"/>
<path fill="#F4FF0B" d="M20 0h1v1h-1zM35 0h1v1h-1zM55 0h1v1h-1zM71 0h1v1h-1zM21 1h1v1h-1zM82 1h1v1h-1zM6 2h1v1h-1zM8 2h1v1h-1zM23 2h1v1h-1zM53 2h1v1h-1zM81 2h1v1h-1zM55 3h1v1h-1zM64 3h1v1h-1zM75 3h1v1h-1zM82 3h1v1h-1zM19 4h1v1h-1zM39 4h1v1h-1zM66 4h1v1h-1zM99 4h1v1h-1zM40 6h1v1h-1zM59 6h1v1h-1zM65 6h1v1h-1zM69 6h1v1h-1zM94 6h1v1h-1zM29 7h2v1h-2zM33 7h1v1h-1zM60 7h1v1h-1zM82 7h1v1h-1zM23 8h1v1h-1zM61 8h1v1h-1zM70 8h1v1h-1zM90 8h1v1h-1zM94 8h1v1h-1zM96 8h1v1h-1zM16 9h1v1h-1zM28 9h1v1h-1zM48 10h1v1h-1zM97 10h1v1h-1zM14 11h1v1h-1zM33 11h1v1h-1zM44 11h1v1h-1zM94 11h1v1h-1zM14 12h1v1h-1zM28 12h1v1h-1zM53 12h1v1h-1zM73 12h1v1h-1zM81 12h1v1h-1zM84 12h1v1h-1zM35 13h1v1h-1zM7 14h1v1h-1zM57 14h1v1h-1zM91 14h1v1h-1zM99 14h1v1h-1zM61 15h1v1h-1zM87 15h1v1h-1zM1 16h1v1h-1zM12 16h2v1h-2zM27 16h1v1h-1zM78 16h1v1h-1zM83 16h1v1h-1zM6 17h1v1h-1zM4 18h1v1h-1zM9 18h1v1h-1zM53 18h1v1h-1zM57 18h1v1h-1zM17 19h1v1h-1zM46 19h1v1h-1zM77 19h1v1h-1zM24 20h1v1h-1zM63 20h1v1h-1zM74 20h1v1h-1zM77 20h1v1h-1zM90 20h1v1h-1zM38 21h1v1h-1zM48 21h1v1h-1zM55 21h1v1h-1zM68 21h1v1h-1zM75 21h1v1h-1zM85 21h1v1h-1zM87 21h1v1h-1zM7 22h1v1h-1zM23 22h1v1h-1zM47 22h1v1h-1zM85 22h1v1h-1zM71 23h1v1h-1zM76 23h1v1h-1zM24 24h2v1h-2zM50 24h1v1h-1zM85 24h1v1h-1zM94 24h1v1h-1zM9 25h1v1h-1zM33 25h1v1h-1zM60 25h1v1h-1zM99 25h1v1h-1zM59 26h1v1h-1zM14 27h1v1h-1zM20 27h1v1h-1zM22 27h1v1h-1zM29 27h1v1h-1zM45 27h1v1h-1zM57 27h1v1h-1zM62 27h1v1h-1zM94 27h2v1h-2zM2 28h1v1h-1zM82 28h1v1h-1zM34 29h1v1h-1zM56 29h1v1h-1zM63 29h1v1h-1zM70 29h1v1h-1zM98 29h1v1h-1zM29 30h1v1h-1zM45 30h1v1h-1zM51 30h1v1h-1zM71 30h1v1h-1zM82 30h1v1h-1zM91 30h1v1h-1zM98 30h1v1h-1zM25 31h2v1h-2zM47 31h1v1h-1zM53 31h1v1h-1zM64 31h1v1h-1zM73 31h1v1h-1zM34 32h1v1h-1zM39 32h1v1h-1zM97 32h1v1h-1zM2 33h1v1h-1zM5 33h1v1h-1zM55 33h1v1h-1zM62 33h1v1h-1zM67 33h1v1h-1zM6 34h1v1h-1zM46 34h1v1h-1zM78 34h1v1h-1zM8 35h1v1h-1zM29 35h1v1h-1zM99 35h1v1h-1zM19 36h1v1h-1zM36 36h1v1h-1zM13 37h2v1h-2zM22 37h1v1h-1zM51 37h1v1h-1zM2 38h1v1h-1zM32 38h1v1h-1zM51 38h1v1h-1zM89 38h1v1h-1zM1 39h1v1h-1zM4 39h1v1h-1zM51 39h1v1h-1zM98 39h1v1h-1zM16 40h1v1h-1zM21 40h2v1h-2zM33 40h1v1h-1zM44 40h1v1h-1zM47 40h1v1h-1zM65 40h1v1h-1zM0 41h1v1h-1zM41 41h1v1h-1zM48 41h1v1h-1zM59 41h1v1h-1zM85 41h1v1h-1zM88 41h1v1h-1zM1 42h1v1h-1zM5 42h1v1h-1zM44 42h1v1h-1zM58 42h1v1h-1zM1 43h1v1h-1zM56 43h1v1h-1zM82 43h1v1h-1zM88 43h1v1h-1zM96 43h1v1h-1zM73 44h1v1h-1zM82 44h1v1h-1zM88 44h1v1h-1zM90 44h1v1h-1zM4 45h1v1h-1zM29 45h1v1h-1zM44 45h1v1h-1zM61 45h1v1h-1zM38 46h1v1h-1zM52 46h1v1h-1zM82 46h1v1h-1zM4 47h1v1h-1zM19 47h1v1h-1zM37 47h1v1h-1zM41 47h1v1h-1zM52 47h1v1h-1zM62 47h1v1h-1zM21 48h2v1h-2zM28 48h1v1h-1zM46 48h1v1h-1zM83 48h1v1h-1zM89 49h1v1h-1zM10 50h2v1h-2zM59 50h2v1h-2zM69 50h1v1h-1zM78 50h1v1h-1zM86 50h1v1h-1zM20 51h1v1h-1zM69 51h1v1h-1zM13 52h1v1h-1zM46 52h1v1h-1zM79 52h1v1h-1zM92 52h1v1h-1zM95 52h1v1h-1zM14 53h1v1h-1zM22 53h1v1h-1zM33 53h1v1h-1zM73 53h1v1h-1zM76 53h1v1h-1zM80 53h1v1h-1zM88 53h1v1h-1zM99 54h1v1h-1zM91 55h1v1h-1zM15 56h1v1h-1zM53 57h1v1h-1zM60 57h1v1h-1zM65 57h1v1h-1zM71 57h1v1h-1zM2 58h1v1h-1zM27 58h1v1h-1zM71 58h1v1h-1zM74 58h1v1h-1zM36 59h1v1h-1zM58 59h1v1h-1zM92 59h1v1h-1zM0 60h1v1h-1zM4 60h1v1h-1zM28 60h1v1h-1zM36 60h1v1h-1zM95 60h1v1h-1zM10 61h1v1h-1zM24 61h1v1h-1zM68 62h1v1h-1zM12 63h1v1h-1zM18 63h1v1h-1zM41 63h1v1h-1zM4 64h1v1h-1zM31 64h1v1h-1zM33 64h1v1h-1zM40 64h1v1h-1zM50 64h1v1h-1zM59 64h1v1h-1zM82 64h2v1h-2zM89 64h1v1h-1zM99 64h1v1h-1zM25 65h1v1h-1zM60 65h1v1h-1zM11 66h1v1h-1zM40 66h1v1h-1zM92 66h1v1h-1zM29 67h1v1h-1zM4 68h2v1h-2zM40 69h2v1h-2zM66 69h1v1h-1zM74 70h1v1h-1zM16 71h1v1h-1zM20 71h1v1h-1zM24 71h1v1h-1zM47 71h1v1h-1zM53 71h1v1h-1zM83 71h1v1h-1zM4 72h1v1h-1zM35 72h1v1h-1zM3 73h1v1h-1zM10 73h1v1h-1zM45 73h1v1h-1zM57 73h1v1h-1zM66 73h1v1h-1zM4 74h1v1h-1zM13 74h1v1h-1zM28 74h1v1h-1zM77 74h1v1h-1zM6 75h1v1h-1zM28 75h2v1h-2zM57 75h1v1h-1zM63 75h1v1h-1zM82 75h1v1h-1zM1 76h1v1h-1zM6 76h1v1h-1zM54 76h1v1h-1zM26 77h1v1h-1zM43 77h1v1h-1zM77 77h1v1h-1zM80 77h1v1h-1zM32 78h1v1h-1zM49 78h1v1h-1zM61 78h1v1h-1zM76 78h1v1h-1zM88 78h1v1h-1zM9 79h1v1h-1zM30 79h1v1h-1zM32 79h1v1h-1zM69 79h1v1h-1zM71 79h2v1h-2zM85 79h1v1h-1zM44 80h1v1h-1zM23 81h1v1h-1zM58 81h1v1h-1zM67 81h1v1h-1zM28 82h1v1h-1zM59 82h1v1h-1zM11 83h1v1h-1zM14 83h1v1h-1zM50 83h1v1h-1zM47 84h1v1h-1zM61 84h1v1h-1zM65 84h1v1h-1zM59 85h3v1h-3zM88 85h1v1h-1zM17 86h1v1h-1zM33 86h1v1h-1zM18 87h1v1h-1zM55 87h1v1h-1zM63 88h1v1h-1zM12 89h1v1h-1zM34 89h1v1h-1zM43 89h1v1h-1zM58 89h1v1h-1zM66 89h1v1h-1zM81 89h1v1h-1zM3 90h1v1h-1zM36 90h1v1h-1zM18 91h1v1h-1zM37 91h1v1h-1zM58 91h1v1h-1zM64 92h1v1h-1zM69 92h1v1h-1zM75 92h1v1h-1zM1 93h1v1h-1zM21 93h1v1h-1zM35 93h1v1h-1zM56 93h1v1h-1zM64 93h1v1h-1zM81 93h1v1h-1zM34 94h1v1h-1zM49 94h1v1h-1zM84 94h1v1h-1zM47 95h1v1h-1zM62 95h1v1h-1zM64 95h1v1h-1zM22 96h1v1h-1zM46 96h1v1h-1zM52 96h2v1h-2zM95 96h1v1h-1zM22 97h1v1h-1zM37 97h1v1h-1zM41 97h1v1h-1zM55 97h1v1h-1zM76 97h1v1h-1zM11 98h1v1h-1zM25 98h2v1h-2zM45 98h1v1h-1zM47 98h1v1h-1zM95 98h1v1h-1zM0 99h1v1h-1zM13 99h1v1h-1zM38 99h1v1h-1zM76 99h1v1h-1zM94 99h1v1h-1z"/>
<path fill="#FFF400" d="M1 0h1v1h-1zM39 0h1v1h-1zM50 0h1v1h-1zM88 0h1v1h-1zM5 1h1v1h-1zM20 1h1v1h-1zM23 1h1v1h-1zM32 1h1v1h-1zM36 1h1v1h-1zM0 2h1v1h-1zM31 2h1v1h-1zM46 2h1v1h-1zM51 2h1v1h-1zM79 2h1v1h-1zM22 3h1v1h-1zM28 3h1v1h-1zM42 3h1v1h-1zM44 3h1v1h-1zM74 3h1v1h-1zM31 4h1v1h-1zM76 4h1v1h-1zM5 5h1v1h-1zM51 5h1v1h-1zM75 5h1v1h-1zM81 5h4v1h-4zM93 5h1v1h-1zM4 6h1v1h-1zM18 6h3v1h-3zM42 6h1v1h-1zM2 7h1v1h-1zM50 7h1v1h-1zM85 7h1v1h-1zM49 8h1v1h-1zM54 8h1v1h-1zM72 8h1v1h-1zM79 8h2v1h-2zM18 9h1v1h-1zM53 9h1v1h-1zM84 9h1v1h-1zM89 9h1v1h-1zM95 9h1v1h-1zM43 10h1v1h-1zM52 10h1v1h-1zM76 10h1v1h-1zM98 10h1v1h-1zM10 11h1v1h-1zM75 11h1v1h-1zM84 11h1v1h-1zM89 11h1v1h-1zM31 12h1v1h-1zM47 12h1v1h-1zM59 12h1v1h-1zM17 13h1v1h-1zM32 13h1v1h-1zM39 13h1v1h-1zM47 13h1v1h-1zM19 14h1v1h-1zM51 14h1v1h-1zM0 15h1v1h-1zM28 16h1v1h-1zM45 16h1v1h-1zM92 16h1v1h-1zM37 17h1v1h-1zM59 17h2v1h-2zM77 17h1v1h-1zM80 17h1v1h-1zM0 18h1v1h-1zM20 18h1v1h-1zM51 18h1v1h-1zM64 18h1v1h-1zM80 18h1v1h-1zM27 19h1v1h-1zM53 19h1v1h-1zM57 19h1v1h-1zM62 19h1v1h-1zM94 19h1v1h-1zM0 20h1v1h-1zM36 20h1v1h-1zM43 20h1v1h-1zM48 20h1v1h-1zM61 20h1v1h-1zM89 20h1v1h-1zM78 21h1v1h-1zM90 21h2v1h-2zM10 22h1v1h-1zM22 22h1v1h-1zM28 22h1v1h-1zM4 23h1v1h-1zM17 23h1v1h-1zM25 23h1v1h-1zM35 23h1v1h-1zM85 23h1v1h-1zM64 24h1v1h-1zM76 24h1v1h-1zM96 24h1v1h-1zM93 25h1v1h-1zM21 26h1v1h-1zM64 27h1v1h-1zM68 27h1v1h-1zM96 27h1v1h-1zM38 28h1v1h-1zM20 29h2v1h-2zM43 29h1v1h-1zM55 29h1v1h-1zM77 29h1v1h-1zM26 30h1v1h-1zM48 30h1v1h-1zM77 30h1v1h-1zM94 30h1v1h-1zM36 31h1v1h-1zM54 31h1v1h-1zM61 31h1v1h-1zM81 31h1v1h-1zM52 32h1v1h-1zM1 33h1v1h-1zM28 33h1v1h-1zM58 33h1v1h-1zM65 33h1v1h-1zM29 34h1v1h-1zM32 34h1v1h-1zM47 34h1v1h-1zM50 34h1v1h-1zM56 34h1v1h-1zM76 34h1v1h-1zM17 35h1v1h-1zM46 35h1v1h-1zM82 35h1v1h-1zM33 36h1v1h-1zM37 36h1v1h-1zM43 36h1v1h-1zM68 36h1v1h-1zM76 36h1v1h-1zM18 37h1v1h-1zM45 38h1v1h-1zM85 38h1v1h-1zM27 39h1v1h-1zM59 39h1v1h-1zM73 39h1v1h-1zM78 39h1v1h-1zM3 40h1v1h-1zM35 40h1v1h-1zM43 40h1v1h-1zM64 40h1v1h-1zM74 40h1v1h-1zM40 41h1v1h-1zM76 41h1v1h-1zM12 42h1v1h-1zM70 42h1v1h-1zM82 42h1v1h-1zM88 42h1v1h-1zM19 43h1v1h-1zM40 43h1v1h-1zM10 44h1v1h-1zM56 44h1v1h-1zM55 45h1v1h-1zM70 45h1v1h-1zM76 45h1v1h-1zM23 46h1v1h-1zM25 46h1v1h-1zM31 46h1v1h-1zM64 46h1v1h-1zM67 46h1v1h-1zM99 46h1v1h-1zM21 47h1v1h-1zM43 47h1v1h-1zM54 48h1v1h-1zM24 49h1v1h-1zM79 49h1v1h-1zM93 49h1v1h-1zM2 50h1v1h-1zM18 50h1v1h-1zM22 50h1v1h-1zM36 50h1v1h-1zM40 50h1v1h-1zM71 50h1v1h-1zM74 50h1v1h-1zM10 51h1v1h-1zM22 51h1v1h-1zM25 51h1v1h-1zM28 51h1v1h-1zM44 51h1v1h-1zM58 51h1v1h-1zM67 51h1v1h-1zM7 52h1v1h-1zM71 52h1v1h-1zM86 52h1v1h-1zM16 53h1v1h-1zM54 53h2v1h-2zM89 53h1v1h-1zM1 54h1v1h-1zM54 54h1v1h-1zM61 54h1v1h-1zM18 55h1v1h-1zM22 55h1v1h-1zM51 55h2v1h-2zM61 55h1v1h-1zM12 56h1v1h-1zM14 56h1v1h-1zM80 56h1v1h-1zM33 57h1v1h-1zM58 57h1v1h-1zM40 58h1v1h-1zM94 58h1v1h-1zM9 59h1v1h-1zM46 59h1v1h-1zM98 59h1v1h-1zM18 60h1v1h-1zM64 60h1v1h-1zM2 61h1v1h-1zM14 61h1v1h-1zM41 61h1v1h-1zM63 61h1v1h-1zM91 61h1v1h-1zM0 62h1v1h-1zM94 62h1v1h-1zM8 63h1v1h-1zM22 63h1v1h-1zM44 63h1v1h-1zM23 64h1v1h-1zM49 64h1v1h-1zM53 64h1v1h-1zM31 66h1v1h-1zM59 66h1v1h-1zM8 67h1v1h-1zM10 67h1v1h-1zM77 67h1v1h-1zM95 67h1v1h-1zM2 68h1v1h-1zM19 68h1v1h-1zM39 68h1v1h-1zM63 68h1v1h-1zM71 68h1v1h-1zM80 68h1v1h-1zM35 69h1v1h-1zM88 69h1v1h-1zM86 70h1v1h-1zM33 71h1v1h-1zM99 71h1v1h-1zM1 72h1v1h-1zM10 72h1v1h-1zM48 72h1v1h-1zM53 72h1v1h-1zM67 72h1v1h-1zM26 73h1v1h-1zM61 73h1v1h-1zM76 73h1v1h-1zM16 74h1v1h-1zM31 74h1v1h-1zM59 74h1v1h-1zM3 75h1v1h-1zM12 75h1v1h-1zM53 75h1v1h-1zM44 76h1v1h-1zM82 76h1v1h-1zM95 76h1v1h-1zM15 77h1v1h-1zM21 77h1v1h-1zM27 77h1v1h-1zM94 77h1v1h-1zM0 78h1v1h-1zM24 78h1v1h-1zM29 78h1v1h-1zM35 78h1v1h-1zM40 78h1v1h-1zM44 78h2v1h-2zM81 78h1v1h-1zM62 79h1v1h-1zM50 80h1v1h-1zM94 80h1v1h-1zM79 81h1v1h-1zM7 82h1v1h-1zM16 82h1v1h-1zM93 82h1v1h-1zM3 83h1v1h-1zM28 83h1v1h-1zM38 83h1v1h-1zM49 83h1v1h-1zM54 83h1v1h-1zM39 84h1v1h-1zM81 84h1v1h-1zM87 84h1v1h-1zM30 85h1v1h-1zM43 85h1v1h-1zM52 85h1v1h-1zM73 85h1v1h-1zM81 85h1v1h-1zM21 86h1v1h-1zM43 86h1v1h-1zM62 86h1v1h-1zM79 86h1v1h-1zM90 86h1v1h-1zM96 86h1v1h-1zM3 87h1v1h-1zM58 87h1v1h-1zM95 87h1v1h-1zM7 88h1v1h-1zM9 88h1v1h-1zM28 88h1v1h-1zM42 88h1v1h-1zM30 89h1v1h-1zM53 89h1v1h-1zM74 89h1v1h-1zM5 90h1v1h-1zM18 90h1v1h-1zM23 90h1v1h-1zM40 90h1v1h-1zM48 90h1v1h-1zM52 90h1v1h-1zM15 91h1v1h-1zM19 91h1v1h-1zM44 91h1v1h-1zM52 91h1v1h-1zM71 91h1v1h-1zM6 92h1v1h-1zM16 92h1v1h-1zM52 92h1v1h-1zM87 92h1v1h-1zM38 93h1v1h-1zM48 93h1v1h-1zM69 93h1v1h-1zM70 94h1v1h-1zM7 95h1v1h-1zM39 95h1v1h-1zM58 95h1v1h-1zM81 95h1v1h-1zM24 96h1v1h-1zM38 96h1v1h-1zM43 96h1v1h-1zM49 96h1v1h-1zM13 97h1v1h-1zM19 97h1v1h-1zM49 97h1v1h-1zM73 97h1v1h-1zM86 97h1v1h-1zM93 97h1v1h-1zM17 98h1v1h-1zM35 98h1v1h-1zM78 98h1v1h-1zM2 99h1v1h-1zM23 99h1v1h-1zM39 99h1v1h-1zM70 99h1v1h-1z"/>
<path fill="#FFDF00" d="M17 0h1v1h-1zM16 1h1v1h-1zM13 2h1v1h-1zM17 2h1v1h-1zM24 2h1v1h-1zM27 2h1v1h-1zM72 2h1v1h-1zM49 3h1v1h-1zM52 3h1v1h-1zM22 4h1v1h-1zM21 5h1v1h-1zM36 5h1v1h-1zM80 5h1v1h-1zM3 6h1v1h-1zM32 6h1v1h-1zM6 7h1v1h-1zM8 7h1v1h-1zM14 7h1v1h-1zM76 7h2v1h-2zM80 7h1v1h-1zM10 8h1v1h-1zM25 8h1v1h-1zM53 8h1v1h-1zM20 9h2v1h-2zM36 9h1v1h-1zM72 9h1v1h-1zM80 9h1v1h-1zM5 10h1v1h-1zM65 10h1v1h-1zM64 11h1v1h-1zM9 12h1v1h-1zM69 13h1v1h-1zM75 13h1v1h-1zM92 14h1v1h-1zM24 15h1v1h-1zM66 15h1v1h-1zM89 15h1v1h-1zM3 16h1v1h-1zM35 17h1v1h-1zM40 17h1v1h-1zM72 18h1v1h-1zM28 19h1v1h-1zM38 19h1v1h-1zM66 19h1v1h-1zM95 19h1v1h-1zM31 20h1v1h-1zM52 20h1v1h-1zM76 20h1v1h-1zM95 20h1v1h-1zM10 21h1v1h-1zM6 22h1v1h-1zM58 22h1v1h-1zM77 22h1v1h-1zM93 23h1v1h-1zM4 24h1v1h-1zM7 24h1v1h-1zM15 24h1v1h-1zM22 24h1v1h-1zM29 24h1v1h-1zM56 24h1v1h-1zM80 24h1v1h-1zM99 24h1v1h-1zM26 25h1v1h-1zM22 26h1v1h-1zM35 26h1v1h-1zM81 26h1v1h-1zM25 27h1v1h-1zM38 27h1v1h-1zM79 27h1v1h-1zM83 27h1v1h-1zM30 28h1v1h-1zM73 28h1v1h-1zM90 28h1v1h-1zM98 28h1v1h-1zM47 29h1v1h-1zM79 29h1v1h-1zM39 30h1v1h-1zM7 31h1v1h-1zM13 31h1v1h-1zM45 31h1v1h-1zM67 31h1v1h-1zM3 32h1v1h-1zM25 32h1v1h-1zM90 32h1v1h-1zM51 34h1v1h-1zM72 34h1v1h-1zM28 35h1v1h-1zM48 35h1v1h-1zM65 35h1v1h-1zM76 35h1v1h-1zM91 35h1v1h-1zM4 36h1v1h-1zM31 36h1v1h-1zM38 36h2v1h-2zM20 37h1v1h-1zM82 37h1v1h-1zM26 38h1v1h-1zM55 38h1v1h-1zM91 38h1v1h-1zM5 39h1v1h-1zM11 39h1v1h-1zM10 40h1v1h-1zM36 40h1v1h-1zM40 40h1v1h-1zM50 40h1v1h-1zM83 40h1v1h-1zM16 41h1v1h-1zM37 41h1v1h-1zM57 41h1v1h-1zM60 41h1v1h-1zM68 41h1v1h-1zM71 41h1v1h-1zM84 42h1v1h-1zM64 43h1v1h-1zM67 43h1v1h-1zM97 43h1v1h-1zM47 44h1v1h-1zM94 44h1v1h-1zM38 45h1v1h-1zM46 45h1v1h-1zM73 45h1v1h-1zM91 45h1v1h-1zM99 45h1v1h-1zM49 46h1v1h-1zM89 46h1v1h-1zM23 47h1v1h-1zM68 47h1v1h-1zM37 48h1v1h-1zM66 48h1v1h-1zM26 50h1v1h-1zM8 51h1v1h-1zM37 51h1v1h-1zM75 51h1v1h-1zM95 51h1v1h-1zM0 52h1v1h-1zM15 52h1v1h-1zM54 52h1v1h-1zM88 52h1v1h-1zM38 53h1v1h-1zM47 53h1v1h-1zM49 53h1v1h-1zM39 54h1v1h-1zM45 54h1v1h-1zM63 54h1v1h-1zM72 54h1v1h-1zM96 54h1v1h-1zM65 55h1v1h-1zM49 56h1v1h-1zM56 56h1v1h-1zM70 57h1v1h-1zM88 57h1v1h-1zM22 58h1v1h-1zM32 59h1v1h-1zM45 59h1v1h-1zM49 59h2v1h-2zM83 59h1v1h-1zM14 60h1v1h-1zM42 60h2v1h-2zM65 60h1v1h-1zM1 61h1v1h-1zM32 61h1v1h-1zM93 61h1v1h-1zM96 61h1v1h-1zM87 62h1v1h-1zM31 63h2v1h-2zM48 63h1v1h-1zM26 64h1v1h-1zM62 64h1v1h-1zM79 64h1v1h-1zM97 64h1v1h-1zM28 65h1v1h-1zM76 65h1v1h-1zM84 65h1v1h-1zM22 66h1v1h-1zM7 67h1v1h-1zM51 67h1v1h-1zM27 68h1v1h-1zM47 68h1v1h-1zM72 68h1v1h-1zM7 69h1v1h-1zM23 69h1v1h-1zM49 69h1v1h-1zM57 69h1v1h-1zM63 69h1v1h-1zM20 70h1v1h-1zM24 70h1v1h-1zM58 70h1v1h-1zM63 70h1v1h-1zM48 71h1v1h-1zM19 72h1v1h-1zM71 72h1v1h-1zM85 72h1v1h-1zM15 73h1v1h-1zM25 73h1v1h-1zM32 73h1v1h-1zM54 73h1v1h-1zM59 73h1v1h-1zM90 73h1v1h-1zM1 74h1v1h-1zM25 74h1v1h-1zM52 74h1v1h-1zM58 74h1v1h-1zM91 74h1v1h-1zM89 75h1v1h-1zM99 75h1v1h-1zM8 76h1v1h-1zM11 76h1v1h-1zM52 76h1v1h-1zM55 76h1v1h-1zM99 76h1v1h-1zM28 77h1v1h-1zM49 77h1v1h-1zM64 77h1v1h-1zM88 77h1v1h-1zM1 78h1v1h-1zM22 78h1v1h-1zM33 78h1v1h-1zM43 78h1v1h-1zM70 78h1v1h-1zM79 78h1v1h-1zM44 79h1v1h-1zM55 79h1v1h-1zM23 80h1v1h-1zM87 80h1v1h-1zM4 81h1v1h-1zM12 81h1v1h-1zM72 81h1v1h-1zM53 82h1v1h-1zM1 83h1v1h-1zM41 83h1v1h-1zM43 83h1v1h-1zM46 83h1v1h-1zM48 83h1v1h-1zM68 83h1v1h-1zM84 83h1v1h-1zM95 83h1v1h-1zM16 84h1v1h-1zM85 84h1v1h-1zM20 85h1v1h-1zM37 85h1v1h-1zM48 85h1v1h-1zM56 85h1v1h-1zM86 85h1v1h-1zM8 86h1v1h-1zM16 86h1v1h-1zM58 86h1v1h-1zM83 86h1v1h-1zM11 87h1v1h-1zM20 87h1v1h-1zM49 87h1v1h-1zM73 87h1v1h-1zM55 88h1v1h-1zM93 89h1v1h-1zM10 90h1v1h-1zM28 90h1v1h-1zM39 90h1v1h-1zM11 91h1v1h-1zM28 91h1v1h-1zM11 92h1v1h-1zM14 92h1v1h-1zM29 92h1v1h-1zM59 92h1v1h-1zM84 92h1v1h-1zM11 93h1v1h-1zM40 93h1v1h-1zM50 93h1v1h-1zM77 93h1v1h-1zM91 95h1v1h-1zM7 96h1v1h-1zM31 96h1v1h-1zM45 96h1v1h-1zM63 96h1v1h-1zM89 96h1v1h-1zM45 97h1v1h-1zM95 97h1v1h-1zM2 98h1v1h-1zM22 98h1v1h-1zM33 98h1v1h-1zM3 99h1v1h-1zM9 99h1v1h-1zM24 99h1v1h-1zM46 99h1v1h-1zM69 99h1v1h-1zM77 99h1v1h-1z"/>
<path fill="#FFCA00" d="M46 0h1v1h-1zM51 0h1v1h-1zM48 1h1v1h-1zM65 1h2v1h-2zM76 1h1v1h-1zM47 2h1v1h-1zM69 2h1v1h-1zM91 2h1v1h-1zM47 3h1v1h-1zM67 3h1v1h-1zM17 5h1v1h-1zM62 5h1v1h-1zM26 6h1v1h-1zM28 6h1v1h-1zM56 6h1v1h-1zM58 6h1v1h-1zM34 7h1v1h-1zM48 7h1v1h-1zM84 7h1v1h-1zM94 7h1v1h-1zM66 9h1v1h-1zM70 9h1v1h-1zM59 10h1v1h-1zM96 10h1v1h-1zM1 11h1v1h-1zM18 11h1v1h-1zM48 11h1v1h-1zM67 11h1v1h-1zM16 13h1v1h-1zM34 13h1v1h-1zM90 13h1v1h-1zM0 14h1v1h-1zM4 15h1v1h-1zM8 15h1v1h-1zM37 15h1v1h-1zM35 16h1v1h-1zM46 16h1v1h-1zM46 17h1v1h-1zM77 18h1v1h-1zM81 18h1v1h-1zM37 19h1v1h-1zM58 19h1v1h-1zM7 20h1v1h-1zM32 20h1v1h-1zM62 21h1v1h-1zM64 21h1v1h-1zM77 21h1v1h-1zM92 21h1v1h-1zM56 23h1v1h-1zM98 23h1v1h-1zM6 24h1v1h-1zM67 24h1v1h-1zM81 25h1v1h-1zM8 26h1v1h-1zM20 26h1v1h-1zM24 26h1v1h-1zM50 26h1v1h-1zM58 27h1v1h-1zM89 27h1v1h-1zM51 29h1v1h-1zM85 29h1v1h-1zM23 30h1v1h-1zM32 30h1v1h-1zM85 30h1v1h-1zM87 30h1v1h-1zM22 31h1v1h-1zM41 31h1v1h-1zM44 31h1v1h-1zM95 31h1v1h-1zM47 32h1v1h-1zM68 32h1v1h-1zM25 33h1v1h-1zM37 33h1v1h-1zM93 33h1v1h-1zM13 34h1v1h-1zM34 34h1v1h-1zM83 34h1v1h-1zM34 35h1v1h-1zM79 35h1v1h-1zM87 35h1v1h-1zM95 35h1v1h-1zM7 36h1v1h-1zM62 36h1v1h-1zM88 36h1v1h-1zM26 37h1v1h-1zM5 38h1v1h-1zM12 38h1v1h-1zM17 38h1v1h-1zM82 38h1v1h-1zM20 39h1v1h-1zM26 39h1v1h-1zM37 39h1v1h-1zM61 39h1v1h-1zM83 39h1v1h-1zM72 40h1v1h-1zM81 40h1v1h-1zM34 41h1v1h-1zM52 41h1v1h-1zM64 41h1v1h-1zM95 41h1v1h-1zM97 41h1v1h-1zM42 42h1v1h-1zM72 43h1v1h-1zM74 43h1v1h-1zM98 43h1v1h-1zM4 44h1v1h-1zM60 44h1v1h-1zM89 44h1v1h-1zM66 45h1v1h-1zM27 47h1v1h-1zM5 48h1v1h-1zM63 48h1v1h-1zM7 49h1v1h-1zM99 49h1v1h-1zM9 50h1v1h-1zM42 50h1v1h-1zM88 50h1v1h-1zM62 51h1v1h-1zM94 51h1v1h-1zM98 51h1v1h-1zM61 53h1v1h-1zM68 53h1v1h-1zM18 54h1v1h-1zM32 54h1v1h-1zM65 54h1v1h-1zM67 54h1v1h-1zM81 54h1v1h-1zM90 54h1v1h-1zM8 55h1v1h-1zM89 55h1v1h-1zM54 56h1v1h-1zM99 56h1v1h-1zM9 57h1v1h-1zM46 57h1v1h-1zM66 57h1v1h-1zM35 58h1v1h-1zM66 58h1v1h-1zM68 59h1v1h-1zM74 59h1v1h-1zM59 60h1v1h-1zM21 61h1v1h-1zM74 62h1v1h-1zM71 63h1v1h-1zM57 64h1v1h-1zM66 64h1v1h-1zM2 66h1v1h-1zM95 68h1v1h-1zM44 69h1v1h-1zM99 69h1v1h-1zM1 70h1v1h-1zM31 70h1v1h-1zM69 70h1v1h-1zM75 70h1v1h-1zM11 71h1v1h-1zM59 71h1v1h-1zM60 73h1v1h-1zM64 73h1v1h-1zM97 73h1v1h-1zM2 75h1v1h-1zM4 75h1v1h-1zM10 75h1v1h-1zM24 76h1v1h-1zM37 77h1v1h-1zM58 77h1v1h-1zM73 77h1v1h-1zM83 77h1v1h-1zM95 77h1v1h-1zM69 78h1v1h-1zM74 78h1v1h-1zM97 78h1v1h-1zM22 80h1v1h-1zM91 81h1v1h-1zM21 82h1v1h-1zM77 82h1v1h-1zM25 83h1v1h-1zM55 83h1v1h-1zM69 83h1v1h-1zM72 83h1v1h-1zM80 83h1v1h-1zM45 84h1v1h-1zM60 84h1v1h-1zM68 84h1v1h-1zM14 85h1v1h-1zM47 85h1v1h-1zM11 86h1v1h-1zM13 86h1v1h-1zM19 86h1v1h-1zM28 86h1v1h-1zM95 86h1v1h-1zM6 87h1v1h-1zM43 87h1v1h-1zM92 87h1v1h-1zM0 89h1v1h-1zM8 89h1v1h-1zM45 89h2v1h-2zM0 90h1v1h-1zM42 91h1v1h-1zM77 91h1v1h-1zM19 92h1v1h-1zM31 93h2v1h-2zM17 94h1v1h-1zM24 94h1v1h-1zM92 94h1v1h-1zM82 95h1v1h-1zM27 96h1v1h-1zM27 97h1v1h-1zM69 97h1v1h-1zM72 97h1v1h-1zM54 98h1v1h-1zM69 98h1v1h-1zM32 99h1v1h-1zM98 99h1v1h-1z"/>
<path fill="#FFB500" d="M38 0h1v1h-1zM40 1h1v1h-1zM54 1h1v1h-1zM59 3h1v1h-1zM95 3h1v1h-1zM99 3h1v1h-1zM85 4h1v1h-1zM92 4h1v1h-1zM25 5h1v1h-1zM50 5h1v1h-1zM96 5h1v1h-1zM27 6h1v1h-1zM45 6h1v1h-1zM10 7h1v1h-1zM38 7h3v1h-3zM78 8h1v1h-1zM85 8h1v1h-1zM33 9h1v1h-1zM57 9h1v1h-1zM71 9h1v1h-1zM85 9h1v1h-1zM0 11h1v1h-1zM6 12h1v1h-1zM91 12h1v1h-1zM26 13h1v1h-1zM52 14h1v1h-1zM63 14h1v1h-1zM4 16h1v1h-1zM10 16h1v1h-1zM65 16h1v1h-1zM76 16h1v1h-1zM15 17h1v1h-1zM65 17h1v1h-1zM91 17h1v1h-1zM94 17h1v1h-1zM11 18h1v1h-1zM18 18h1v1h-1zM83 18h1v1h-1zM92 18h1v1h-1zM35 19h1v1h-1zM71 19h1v1h-1zM80 19h1v1h-1zM88 19h1v1h-1zM5 20h1v1h-1zM30 20h1v1h-1zM64 20h1v1h-1zM79 20h1v1h-1zM54 21h1v1h-1zM24 23h1v1h-1zM34 25h1v1h-1zM63 25h1v1h-1zM91 25h1v1h-1zM5 26h1v1h-1zM61 26h1v1h-1zM99 27h1v1h-1zM66 28h1v1h-1zM10 29h1v1h-1zM26 29h1v1h-1zM71 29h1v1h-1zM44 30h1v1h-1zM46 30h1v1h-1zM33 31h1v1h-1zM49 31h1v1h-1zM35 32h1v1h-1zM27 33h1v1h-1zM36 33h1v1h-1zM98 33h1v1h-1zM1 34h1v1h-1zM43 35h1v1h-1zM69 35h1v1h-1zM9 36h1v1h-1zM5 37h1v1h-1zM43 37h1v1h-1zM60 37h1v1h-1zM62 37h1v1h-1zM11 38h1v1h-1zM30 39h1v1h-1zM8 40h1v1h-1zM4 41h1v1h-1zM38 41h1v1h-1zM57 43h1v1h-1zM2 44h1v1h-1zM19 44h1v1h-1zM43 44h1v1h-1zM42 45h1v1h-1zM50 45h1v1h-1zM36 46h1v1h-1zM50 46h1v1h-1zM73 46h1v1h-1zM7 47h1v1h-1zM84 47h1v1h-1zM86 47h1v1h-1zM88 47h1v1h-1zM98 47h1v1h-1zM75 48h1v1h-1zM89 48h1v1h-1zM19 49h1v1h-1zM51 49h1v1h-1zM19 50h1v1h-1zM23 50h1v1h-1zM90 50h1v1h-1zM56 51h1v1h-1zM63 51h1v1h-1zM9 52h1v1h-1zM29 52h1v1h-1zM59 52h1v1h-1zM53 53h1v1h-1zM98 53h1v1h-1zM86 54h1v1h-1zM94 54h1v1h-1zM10 55h1v1h-1zM77 55h1v1h-1zM0 56h1v1h-1zM17 56h1v1h-1zM66 56h1v1h-1zM61 57h1v1h-1zM64 57h1v1h-1zM67 57h1v1h-1zM99 58h1v1h-1zM86 59h1v1h-1zM15 60h1v1h-1zM32 60h1v1h-1zM40 60h1v1h-1zM71 60h1v1h-1zM53 61h1v1h-1zM57 61h1v1h-1zM17 62h1v1h-1zM46 62h1v1h-1zM64 62h1v1h-1zM72 62h1v1h-1zM14 63h1v1h-1zM36 63h1v1h-1zM22 65h1v1h-1zM89 65h1v1h-1zM14 66h1v1h-1zM36 66h1v1h-1zM61 66h1v1h-1zM82 66h1v1h-1zM9 67h1v1h-1zM67 67h1v1h-1zM86 68h1v1h-1zM81 69h1v1h-1zM5 70h1v1h-1zM30 71h1v1h-1zM51 71h1v1h-1zM57 71h1v1h-1zM92 71h1v1h-1zM38 72h1v1h-1zM49 72h1v1h-1zM81 72h1v1h-1zM92 72h1v1h-1zM38 73h1v1h-1zM48 73h1v1h-1zM83 73h1v1h-1zM86 73h1v1h-1zM0 74h1v1h-1zM55 75h1v1h-1zM59 75h1v1h-1zM90 75h1v1h-1zM19 76h1v1h-1zM48 76h1v1h-1zM92 76h1v1h-1zM66 77h1v1h-1zM89 77h1v1h-1zM4 79h1v1h-1zM78 79h1v1h-1zM86 80h1v1h-1zM37 81h1v1h-1zM4 82h1v1h-1zM20 82h1v1h-1zM73 82h1v1h-1zM63 83h1v1h-1zM62 84h1v1h-1zM25 85h2v1h-2zM0 86h1v1h-1zM2 86h1v1h-1zM27 86h1v1h-1zM36 86h1v1h-1zM69 86h1v1h-1zM80 86h1v1h-1zM92 86h1v1h-1zM9 87h1v1h-1zM56 87h1v1h-1zM80 87h1v1h-1zM31 88h1v1h-1zM84 88h1v1h-1zM47 89h1v1h-1zM69 89h1v1h-1zM1 90h1v1h-1zM43 90h1v1h-1zM91 90h1v1h-1zM1 91h1v1h-1zM67 92h1v1h-1zM92 92h1v1h-1zM4 93h1v1h-1zM18 93h1v1h-1zM36 93h1v1h-1zM53 93h1v1h-1zM71 93h1v1h-1zM87 93h1v1h-1zM98 94h1v1h-1zM1 95h1v1h-1zM99 95h1v1h-1zM58 96h1v1h-1zM4 97h1v1h-1zM15 99h1v1h-1zM86 99h1v1h-1z"/>
<path fill="#FF9F00" d="M61 1h1v1h-1zM28 2h1v1h-1zM49 2h1v1h-1zM94 2h1v1h-1zM2 3h1v1h-1zM6 4h1v1h-1zM79 4h1v1h-1zM74 5h1v1h-1zM33 6h1v1h-1zM70 6h2v1h-2zM35 7h1v1h-1zM1 9h1v1h-1zM35 9h1v1h-1zM75 9h1v1h-1zM45 10h1v1h-1zM75 10h1v1h-1zM86 10h1v1h-1zM29 11h1v1h-1zM11 12h1v1h-1zM79 12h1v1h-1zM41 14h1v1h-1zM11 15h1v1h-1zM47 16h1v1h-1zM36 18h1v1h-1zM52 18h1v1h-1zM56 18h1v1h-1zM66 18h1v1h-1zM73 18h1v1h-1zM13 19h1v1h-1zM34 19h1v1h-1zM47 20h1v1h-1zM62 20h1v1h-1zM69 20h1v1h-1zM2 21h1v1h-1zM11 21h1v1h-1zM37 21h1v1h-1zM57 21h1v1h-1zM60 21h1v1h-1zM99 21h1v1h-1zM45 22h1v1h-1zM74 22h1v1h-1zM79 22h1v1h-1zM30 24h1v1h-1zM32 24h1v1h-1zM40 26h1v1h-1zM66 26h1v1h-1zM40 27h1v1h-1zM62 28h1v1h-1zM65 28h1v1h-1zM70 28h1v1h-1zM24 29h1v1h-1zM32 29h1v1h-1zM36 29h1v1h-1zM60 30h1v1h-1zM89 32h1v1h-1zM94 32h1v1h-1zM39 34h1v1h-1zM85 34h1v1h-1zM92 34h1v1h-1zM99 34h1v1h-1zM49 36h1v1h-1zM50 37h1v1h-1zM12 39h1v1h-1zM56 40h1v1h-1zM68 40h1v1h-1zM43 43h1v1h-1zM22 45h1v1h-1zM96 45h1v1h-1zM96 46h1v1h-1zM2 47h1v1h-1zM59 47h1v1h-1zM1 48h1v1h-1zM35 49h1v1h-1zM3 50h1v1h-1zM24 50h1v1h-1zM12 51h1v1h-1zM26 52h1v1h-1zM45 52h1v1h-1zM66 53h1v1h-1zM14 54h1v1h-1zM16 54h1v1h-1zM25 54h1v1h-1zM36 54h1v1h-1zM45 55h1v1h-1zM37 56h1v1h-1zM60 56h1v1h-1zM69 56h1v1h-1zM15 59h1v1h-1zM55 59h1v1h-1zM73 59h1v1h-1zM62 60h1v1h-1zM68 60h1v1h-1zM91 60h1v1h-1zM89 61h1v1h-1zM13 62h2v1h-2zM85 63h1v1h-1zM60 64h1v1h-1zM34 65h1v1h-1zM73 65h1v1h-1zM55 66h1v1h-1zM65 66h1v1h-1zM12 67h1v1h-1zM54 68h1v1h-1zM13 69h1v1h-1zM81 70h1v1h-1zM52 71h1v1h-1zM45 72h1v1h-1zM88 72h1v1h-1zM23 73h1v1h-1zM82 73h1v1h-1zM33 74h1v1h-1zM18 75h1v1h-1zM65 75h1v1h-1zM1 77h1v1h-1zM14 77h1v1h-1zM18 80h1v1h-1zM20 80h1v1h-1zM85 80h1v1h-1zM97 82h1v1h-1zM10 83h1v1h-1zM45 83h1v1h-1zM19 84h1v1h-1zM12 85h1v1h-1zM33 85h1v1h-1zM32 86h1v1h-1zM64 87h1v1h-1zM60 89h1v1h-1zM14 90h1v1h-1zM35 90h1v1h-1zM90 90h1v1h-1zM95 90h2v1h-2zM9 91h1v1h-1zM35 91h1v1h-1zM64 91h1v1h-1zM89 91h1v1h-1zM96 92h2v1h-2zM6 93h1v1h-1zM4 94h1v1h-1zM71 94h1v1h-1zM93 94h1v1h-1zM54 96h1v1h-1zM65 96h1v1h-1zM73 96h1v1h-1zM42 97h1v1h-1zM74 98h1v1h-1zM44 99h1v1h-1z"/>
<path fill="#FF8A00" d="M13 0h1v1h-1zM96 0h1v1h-1zM22 2h1v1h-1zM38 2h1v1h-1zM86 4h1v1h-1zM61 5h1v1h-1zM90 5h1v1h-1zM16 8h1v1h-1zM75 8h1v1h-1zM89 8h1v1h-1zM46 10h1v1h-1zM25 14h1v1h-1zM75 14h1v1h-1zM10 15h1v1h-1zM57 16h1v1h-1zM13 17h1v1h-1zM32 18h1v1h-1zM43 19h1v1h-1zM3 21h1v1h-1zM35 22h1v1h-1zM37 23h1v1h-1zM69 26h1v1h-1zM33 27h1v1h-1zM91 27h1v1h-1zM7 28h1v1h-1zM63 28h1v1h-1zM78 29h1v1h-1zM32 32h1v1h-1zM62 32h1v1h-1zM92 33h1v1h-1zM15 35h1v1h-1zM90 35h1v1h-1zM17 36h1v1h-1zM77 38h1v1h-1zM85 40h1v1h-1zM46 41h1v1h-1zM53 41h1v1h-1zM51 43h1v1h-1zM54 43h1v1h-1zM8 44h1v1h-1zM23 45h1v1h-1zM31 45h1v1h-1zM28 46h1v1h-1zM58 46h1v1h-1zM0 48h1v1h-1zM7 48h1v1h-1zM0 51h1v1h-1zM1 52h1v1h-1zM8 54h1v1h-1zM55 54h1v1h-1zM88 54h1v1h-1zM71 55h1v1h-1zM78 55h1v1h-1zM39 56h1v1h-1zM69 57h1v1h-1zM72 58h1v1h-1zM88 59h1v1h-1zM3 60h1v1h-1zM23 60h1v1h-1zM76 61h1v1h-1zM15 63h2v1h-2zM26 63h1v1h-1zM55 63h1v1h-1zM75 64h1v1h-1zM96 65h1v1h-1zM43 66h1v1h-1zM89 66h1v1h-1zM85 68h1v1h-1zM1 69h1v1h-1zM4 69h1v1h-1zM48 69h1v1h-1zM40 70h1v1h-1zM38 71h1v1h-1zM67 71h1v1h-1zM94 71h2v1h-2zM75 72h1v1h-1zM95 72h1v1h-1zM56 73h1v1h-1zM99 74h1v1h-1zM13 77h1v1h-1zM51 80h1v1h-1zM54 80h1v1h-1zM57 82h1v1h-1zM16 85h1v1h-1zM84 86h1v1h-1zM8 87h1v1h-1zM14 87h1v1h-1zM32 87h1v1h-1zM51 88h1v1h-1zM85 88h1v1h-1zM24 90h1v1h-1zM51 91h1v1h-1zM74 91h1v1h-1zM77 92h1v1h-1zM34 93h1v1h-1zM83 93h1v1h-1zM35 94h1v1h-1zM55 94h1v1h-1zM57 94h1v1h-1zM51 95h1v1h-1zM29 98h1v1h-1zM31 98h1v1h-1z"/>
<path fill="#FF7500" d="M98 2h1v1h-1zM89 4h1v1h-1zM18 8h1v1h-1zM38 8h1v1h-1zM63 10h1v1h-1zM99 10h1v1h-1zM70 12h1v1h-1zM24 13h1v1h-1zM36 16h1v1h-1zM73 22h1v1h-1zM94 22h1v1h-1zM74 23h1v1h-1zM66 25h1v1h-1zM35 29h1v1h-1zM39 29h1v1h-1zM80 30h1v1h-1zM24 31h1v1h-1zM34 31h1v1h-1zM16 32h1v1h-1zM49 33h1v1h-1zM96 37h1v1h-1zM31 38h1v1h-1zM79 38h1v1h-1zM72 39h1v1h-1zM71 40h1v1h-1zM6 43h1v1h-1zM16 43h1v1h-1zM48 44h1v1h-1zM22 47h1v1h-1zM85 49h1v1h-1zM49 50h1v1h-1zM21 52h1v1h-1zM52 52h1v1h-1zM73 55h1v1h-1zM10 58h1v1h-1zM93 62h1v1h-1zM38 63h1v1h-1zM24 65h1v1h-1zM73 67h1v1h-1zM65 70h1v1h-1zM91 72h1v1h-1zM88 73h1v1h-1zM7 75h1v1h-1zM10 76h1v1h-1zM94 76h1v1h-1zM9 78h1v1h-1zM36 78h1v1h-1zM71 78h1v1h-1zM8 79h1v1h-1zM63 80h1v1h-1zM92 80h1v1h-1zM60 81h1v1h-1zM31 83h1v1h-1zM66 84h1v1h-1zM23 85h1v1h-1zM4 88h1v1h-1zM30 88h1v1h-1zM51 89h1v1h-1zM73 89h1v1h-1zM84 91h1v1h-1zM87 91h1v1h-1zM46 92h1v1h-1zM16 95h1v1h-1zM61 97h1v1h-1zM89 98h1v1h-1zM92 99h1v1h-1z"/>
<path fill="#FF6000" d="M82 0h1v1h-1zM53 3h1v1h-1zM87 3h1v1h-1zM90 3h1v1h-1zM0 5h1v1h-1zM22 8h1v1h-1zM39 9h1v1h-1zM33 10h1v1h-1zM38 11h1v1h-1zM3 12h1v1h-1zM58 13h1v1h-1zM90 16h1v1h-1zM4 17h1v1h-1zM55 18h1v1h-1zM21 19h1v1h-1zM61 19h1v1h-1zM30 22h1v1h-1zM11 25h1v1h-1zM20 25h1v1h-1zM64 29h1v1h-1zM13 30h1v1h-1zM71 31h1v1h-1zM9 34h1v1h-1zM32 36h1v1h-1zM44 37h1v1h-1zM21 39h1v1h-1zM18 43h1v1h-1zM38 43h1v1h-1zM43 45h1v1h-1zM47 45h1v1h-1zM46 46h1v1h-1zM56 46h1v1h-1zM43 49h1v1h-1zM94 50h1v1h-1zM80 54h1v1h-1zM59 55h1v1h-1zM96 58h1v1h-1zM97 59h1v1h-1zM3 61h1v1h-1zM22 61h1v1h-1zM62 61h1v1h-1zM4 63h1v1h-1zM5 66h1v1h-1zM17 66h1v1h-1zM22 67h1v1h-1zM8 69h1v1h-1zM37 69h1v1h-1zM11 70h1v1h-1zM46 70h1v1h-1zM70 72h1v1h-1zM34 77h1v1h-1zM39 77h1v1h-1zM45 80h1v1h-1zM47 80h1v1h-1zM65 82h1v1h-1zM19 83h1v1h-1zM83 83h1v1h-1zM80 88h1v1h-1zM95 91h1v1h-1zM3 92h1v1h-1zM89 92h1v1h-1zM10 94h1v1h-1zM31 94h1v1h-1zM4 95h1v1h-1z"/>
<path fill="#FF4A00" d="M25 6h1v1h-1zM74 6h1v1h-1zM71 7h1v1h-1zM4 11h1v1h-1zM18 15h2v1h-2zM14 16h1v1h-1zM24 17h1v1h-1zM15 20h1v1h-1zM9 26h1v1h-1zM14 32h1v1h-1zM12 33h1v1h-1zM14 40h1v1h-1zM34 45h1v1h-1zM9 53h1v1h-1zM57 55h1v1h-1zM24 58h1v1h-1zM75 60h1v1h-1zM33 67h1v1h-1zM33 68h1v1h-1zM26 80h1v1h-1zM73 83h1v1h-1zM80 84h1v1h-1zM55 85h1v1h-1zM47 86h1v1h-1zM58 90h1v1h-1zM97 91h1v1h-1zM61 95h1v1h-1zM79 95h1v1h-1zM13 98h1v1h-1zM53 99h1v1h-1z"/>
<path fill="#FF3500" d="M4 2h1v1h-1zM58 12h1v1h-1zM80 15h1v1h-1zM49 17h1v1h-1zM80 20h1v1h-1zM5 22h1v1h-1zM52 28h1v1h-1zM42 31h1v1h-1zM19 33h1v1h-1zM51 36h1v1h-1zM55 36h1v1h-1zM87 42h1v1h-1zM92 46h1v1h-1zM32 47h1v1h-1zM76 52h1v1h-1zM49 55h1v1h-1zM19 58h1v1h-1zM7 59h1v1h-1zM16 62h1v1h-1zM80 67h1v1h-1zM79 72h1v1h-1zM5 74h1v1h-1zM80 74h1v1h-1zM81 77h1v1h-1zM23 83h1v1h-1zM95 84h1v1h-1zM39 88h1v1h-1zM51 93h1v1h-1zM59 93h1v1h-1z"/>
<path fill="#FF2000" d="M39 5h1v1h-1zM50 10h1v1h-1zM71 10h1v1h-1zM54 15h1v1h-1zM13 23h1v1h-1zM60 24h1v1h-1zM53 25h1v1h-1zM80 35h1v1h-1zM40 44h1v1h-1zM79 61h1v1h-1zM45 62h1v1h-1zM54 63h1v1h-1zM89 81h1v1h-1zM53 94h1v1h-1zM15 95h1v1h-1zM26 95h1v1h-1zM24 98h1v1h-1z"/>
<path fill="#FF0B00" d="M32 21h1v1h-1zM25 30h1v1h-1zM52 33h1v1h-1zM33 39h1v1h-1zM65 39h1v1h-1zM72 45h1v1h-1zM50 48h1v1h-1zM7 54h1v1h-1zM77 64h1v1h-1zM82 69h1v1h-1zM88 75h1v1h-1zM17 87h1v1h-1zM27 87h1v1h-1zM28 92h1v1h-1zM11 95h1v1h-1z"/>
<path fill="#F40000" d="M46 12h1v1h-1zM87 17h1v1h-1zM25 44h1v1h-1zM23 76h1v1h-1zM24 85h1v1h-1zM97 93h1v1h-1z"/>
<path fill="#DF0000" d="M70 10h1v1h-1zM87 40h1v1h-1zM24 54h1v1h-1zM83 67h1v1h-1zM12 72h1v1h-1z"/>
<path fill="#B50000" d="M51 23h1v1h-1zM33 59h1v1h-1zM41 65h1v1h-1zM60 82h1v1h-1zM9 84h1v1h-1z"/>
<path fill="#9F0000" d="M88 14h1v1h-1zM5 36h1v1h-1z"/>
<path fill="#8A0000" d="M24 12h1v1h-1z"/>
</g>
<rect x="209.7" y="848.8" width="938.1" height="630.0" fill="none" stroke="#262626" stroke-width="5"/>
<line x1="209.7" y1="909.1" x2="221.7" y2="909.1" stroke="#262626" stroke-width="4.4"/>
<line x1="1147.8" y1="909.1" x2="1135.8" y2="909.1" stroke="#262626" stroke-width="4.4"/>
<text x="199.5" y="919.5" font-size="27.6" text-anchor="end" fill="#262626">10</text>
<line x1="298.9" y1="849.3" x2="298.9" y2="861.3" stroke="#262626" stroke-width="4.2"/>
<line x1="298.9" y1="1478.8" x2="298.9" y2="1466.8" stroke="#262626" stroke-width="4.2"/>
<text x="298.9" y="1516.8" font-size="27.6" text-anchor="middle" fill="#262626">10</text>
<line x1="209.7" y1="972.0" x2="221.7" y2="972.0" stroke="#262626" stroke-width="4.4"/>
<line x1="1147.8" y1="972.0" x2="1135.8" y2="972.0" stroke="#262626" stroke-width="4.4"/>
<text x="199.5" y="982.4" font-size="27.6" text-anchor="end" fill="#262626">20</text>
<line x1="392.8" y1="849.3" x2="392.8" y2="861.3" stroke="#262626" stroke-width="4.2"/>
<line x1="392.8" y1="1478.8" x2="392.8" y2="1466.8" stroke="#262626" stroke-width="4.2"/>
<text x="392.8" y="1516.8" font-size="27.6" text-anchor="middle" fill="#262626">20</text>
<line x1="209.7" y1="1034.9" x2="221.7" y2="1034.9" stroke="#262626" stroke-width="4.4"/>
<line x1="1147.8" y1="1034.9" x2="1135.8" y2="1034.9" stroke="#262626" stroke-width="4.4"/>
<text x="199.5" y="1045.3" font-size="27.6" text-anchor="end" fill="#262626">30</text>
<line x1="486.7" y1="849.3" x2="486.7" y2="861.3" stroke="#262626" stroke-width="4.2"/>
<line x1="486.7" y1="1478.8" x2="486.7" y2="1466.8" stroke="#262626" stroke-width="4.2"/>
<text x="486.7" y="1516.8" font-size="27.6" text-anchor="middle" fill="#262626">30</text>
<line x1="209.7" y1="1097.8" x2="221.7" y2="1097.8" stroke="#262626" stroke-width="4.4"/>
<line x1="1147.8" y1="1097.8" x2="1135.8" y2="1097.8" stroke="#262626" stroke-width="4.4"/>
<text x="199.5" y="1108.2" font-size="27.6" text-anchor="end" fill="#262626">40</text>
<line x1="580.6" y1="849.3" x2="580.6" y2="861.3" stroke="#262626" stroke-width="4.2"/>
<line x1="580.6" y1="1478.8" x2="580.6" y2="1466.8" stroke="#262626" stroke-width="4.2"/>
<text x="580.6" y="1516.8" font-size="27.6" text-anchor="middle" fill="#262626">40</text>
<line x1="209.7" y1="1160.7" x2="221.7" y2="1160.7" stroke="#262626" stroke-width="4.4"/>
<line x1="1147.8" y1="1160.7" x2="1135.8" y2="1160.7" stroke="#262626" stroke-width="4.4"/>
<text x="199.5" y="1171.1" font-size="27.6" text-anchor="end" fill="#262626">50</text>
<line x1="674.5" y1="849.3" x2="674.5" y2="861.3" stroke="#262626" stroke-width="4.2"/>
<line x1="674.5" y1="1478.8" x2="674.5" y2="1466.8" stroke="#262626" stroke-width="4.2"/>
<text x="674.5" y="1516.8" font-size="27.6" text-anchor="middle" fill="#262626">50</text>
<line x1="209.7" y1="1223.6" x2="221.7" y2="1223.6" stroke="#262626" stroke-width="4.4"/>
<line x1="1147.8" y1="1223.6" x2="1135.8" y2="1223.6" stroke="#262626" stroke-width="4.4"/>
<text x="199.5" y="1234.0" font-size="27.6" text-anchor="end" fill="#262626">60</text>
<line x1="768.4" y1="849.3" x2="768.4" y2="861.3" stroke="#262626" stroke-width="4.2"/>
<line x1="768.4" y1="1478.8" x2="768.4" y2="1466.8" stroke="#262626" stroke-width="4.2"/>
<text x="768.4" y="1516.8" font-size="27.6" text-anchor="middle" fill="#262626">60</text>
<line x1="209.7" y1="1286.5" x2="221.7" y2="1286.5" stroke="#262626" stroke-width="4.4"/>
<line x1="1147.8" y1="1286.5" x2="1135.8" y2="1286.5" stroke="#262626" stroke-width="4.4"/>
<text x="199.5" y="1296.9" font-size="27.6" text-anchor="end" fill="#262626">70</text>
<line x1="862.3" y1="849.3" x2="862.3" y2="861.3" stroke="#262626" stroke-width="4.2"/>
<line x1="862.3" y1="1478.8" x2="862.3" y2="1466.8" stroke="#262626" stroke-width="4.2"/>
<text x="862.3" y="1516.8" font-size="27.6" text-anchor="middle" fill="#262626">70</text>
<line x1="209.7" y1="1349.4" x2="221.7" y2="1349.4" stroke="#262626" stroke-width="4.4"/>
<line x1="1147.8" y1="1349.4" x2="1135.8" y2="1349.4" stroke="#262626" stroke-width="4.4"/>
<text x="199.5" y="1359.8" font-size="27.6" text-anchor="end" fill="#262626">80</text>
<line x1="956.2" y1="849.3" x2="956.2" y2="861.3" stroke="#262626" stroke-width="4.2"/>
<line x1="956.2" y1="1478.8" x2="956.2" y2="1466.8" stroke="#262626" stroke-width="4.2"/>
<text x="956.2" y="1516.8" font-size="27.6" text-anchor="middle" fill="#262626">80</text>
<line x1="209.7" y1="1412.3" x2="221.7" y2="1412.3" stroke="#262626" stroke-width="4.4"/>
<line x1="1147.8" y1="1412.3" x2="1135.8" y2="1412.3" stroke="#262626" stroke-width="4.4"/>
<text x="199.5" y="1422.7" font-size="27.6" text-anchor="end" fill="#262626">90</text>
<line x1="1050.1" y1="849.3" x2="1050.1" y2="861.3" stroke="#262626" stroke-width="4.2"/>
<line x1="1050.1" y1="1478.8" x2="1050.1" y2="1466.8" stroke="#262626" stroke-width="4.2"/>
<text x="1050.1" y="1516.8" font-size="27.6" text-anchor="middle" fill="#262626">90</text>
<line x1="209.7" y1="1475.2" x2="221.7" y2="1475.2" stroke="#262626" stroke-width="4.4"/>
<line x1="1147.8" y1="1475.2" x2="1135.8" y2="1475.2" stroke="#262626" stroke-width="4.4"/>
<text x="199.5" y="1485.6" font-size="27.6" text-anchor="end" fill="#262626">100</text>
<line x1="1144.0" y1="849.3" x2="1144.0" y2="861.3" stroke="#262626" stroke-width="4.2"/>
<line x1="1144.0" y1="1478.8" x2="1144.0" y2="1466.8" stroke="#262626" stroke-width="4.2"/>
<text x="1144.0" y="1516.8" font-size="27.6" text-anchor="middle" fill="#262626">100</text>
<text x="678.2" y="1556.6" font-size="31.2" text-anchor="middle" fill="#262626">X neurons</text>
<text x="141.2" y="1164.4" font-size="31.2" text-anchor="middle" fill="#262626" transform="rotate(-90 141.2 1164.4)">Y neurons</text>
<rect x="854.80" y="840.00" width="300.00" height="223.40" fill="#fff"/>
<rect x="892.20" y="858.10" width="38.93" height="30.55" fill="#0070FF"/>
<rect x="930.83" y="858.10" width="38.93" height="30.55" fill="#0090FF"/>
<rect x="969.47" y="858.10" width="38.93" height="30.55" fill="#00FFFF"/>
<rect x="1008.10" y="858.10" width="38.93" height="30.55" fill="#00D0FF"/>
<rect x="1046.73" y="858.10" width="38.93" height="30.55" fill="#AFFF50"/>
<rect x="1085.37" y="858.10" width="38.93" height="30.55" fill="#FFDF00"/>
<rect x="892.20" y="888.35" width="38.93" height="30.55" fill="#40FFBF"/>
<rect x="930.83" y="888.35" width="38.93" height="30.55" fill="#0000FF"/>
<rect x="969.47" y="888.35" width="38.93" height="30.55" fill="#0090FF"/>
<rect x="1008.10" y="888.35" width="38.93" height="30.55" fill="#00FFFF"/>
<rect x="1046.73" y="888.35" width="38.93" height="30.55" fill="#FFCF00"/>
<rect x="1085.37" y="888.35" width="38.93" height="30.55" fill="#00FFFF"/>
<rect x="892.20" y="918.60" width="38.93" height="30.55" fill="#FFDF00"/>
<rect x="930.83" y="918.60" width="38.93" height="30.55" fill="#0020FF"/>
<rect x="969.47" y="918.60" width="38.93" height="30.55" fill="#FFEF00"/>
<rect x="1008.10" y="918.60" width="38.93" height="30.55" fill="#0090FF"/>
<rect x="1046.73" y="918.60" width="38.93" height="30.55" fill="#FFDF00"/>
<rect x="1085.37" y="918.60" width="38.93" height="30.55" fill="#00008F"/>
<rect x="892.20" y="948.85" width="38.93" height="30.55" fill="#00FFFF"/>
<rect x="930.83" y="948.85" width="38.93" height="30.55" fill="#009FFF"/>
<rect x="969.47" y="948.85" width="38.93" height="30.55" fill="#009FFF"/>
<rect x="1008.10" y="948.85" width="38.93" height="30.55" fill="#0060FF"/>
<rect x="1046.73" y="948.85" width="38.93" height="30.55" fill="#0040FF"/>
<rect x="1085.37" y="948.85" width="38.93" height="30.55" fill="#00EFFF"/>
<rect x="892.20" y="979.10" width="38.93" height="30.55" fill="#DFFF20"/>
<rect x="930.83" y="979.10" width="38.93" height="30.55" fill="#BFFF40"/>
<rect x="969.47" y="979.10" width="38.93" height="30.55" fill="#20FFDF"/>
<rect x="1008.10" y="979.10" width="38.93" height="30.55" fill="#00DFFF"/>
<rect x="1046.73" y="979.10" width="38.93" height="30.55" fill="#0060FF"/>
<rect x="1085.37" y="979.10" width="38.93" height="30.55" fill="#50FFAF"/>
<rect x="892.20" y="1009.35" width="38.93" height="30.55" fill="#0050FF"/>
<rect x="930.83" y="1009.35" width="38.93" height="30.55" fill="#80FF80"/>
<rect x="969.47" y="1009.35" width="38.93" height="30.55" fill="#00AFFF"/>
<rect x="1008.10" y="1009.35" width="38.93" height="30.55" fill="#00CFFF"/>
<rect x="1046.73" y="1009.35" width="38.93" height="30.55" fill="#800000"/>
<rect x="1085.37" y="1009.35" width="38.93" height="30.55" fill="#BFFF40"/>
<rect x="892.8000000000001" y="858.5" width="230.6" height="180.7" fill="none" stroke="#262626" stroke-width="2.2"/>
<line x1="911.5" y1="858.1" x2="911.5" y2="861.1" stroke="#262626" stroke-width="1"/>
<line x1="911.5" y1="1039.6" x2="911.5" y2="1036.6" stroke="#262626" stroke-width="1"/>
<line x1="892.2" y1="873.2" x2="895.2" y2="873.2" stroke="#262626" stroke-width="1"/>
<line x1="1124.0" y1="873.2" x2="1121.0" y2="873.2" stroke="#262626" stroke-width="1"/>
<line x1="950.2" y1="858.1" x2="950.2" y2="861.1" stroke="#262626" stroke-width="1"/>
<line x1="950.2" y1="1039.6" x2="950.2" y2="1036.6" stroke="#262626" stroke-width="1"/>
<line x1="892.2" y1="903.5" x2="895.2" y2="903.5" stroke="#262626" stroke-width="1"/>
<line x1="1124.0" y1="903.5" x2="1121.0" y2="903.5" stroke="#262626" stroke-width="1"/>
<line x1="988.8" y1="858.1" x2="988.8" y2="861.1" stroke="#262626" stroke-width="1"/>
<line x1="988.8" y1="1039.6" x2="988.8" y2="1036.6" stroke="#262626" stroke-width="1"/>
<line x1="892.2" y1="933.7" x2="895.2" y2="933.7" stroke="#262626" stroke-width="1"/>
<line x1="1124.0" y1="933.7" x2="1121.0" y2="933.7" stroke="#262626" stroke-width="1"/>
<line x1="1027.4" y1="858.1" x2="1027.4" y2="861.1" stroke="#262626" stroke-width="1"/>
<line x1="1027.4" y1="1039.6" x2="1027.4" y2="1036.6" stroke="#262626" stroke-width="1"/>
<line x1="892.2" y1="964.0" x2="895.2" y2="964.0" stroke="#262626" stroke-width="1"/>
<line x1="1124.0" y1="964.0" x2="1121.0" y2="964.0" stroke="#262626" stroke-width="1"/>
<line x1="1066.0" y1="858.1" x2="1066.0" y2="861.1" stroke="#262626" stroke-width="1"/>
<line x1="1066.0" y1="1039.6" x2="1066.0" y2="1036.6" stroke="#262626" stroke-width="1"/>
<line x1="892.2" y1="994.2" x2="895.2" y2="994.2" stroke="#262626" stroke-width="1"/>
<line x1="1124.0" y1="994.2" x2="1121.0" y2="994.2" stroke="#262626" stroke-width="1"/>
<line x1="1104.7" y1="858.1" x2="1104.7" y2="861.1" stroke="#262626" stroke-width="1"/>
<line x1="1104.7" y1="1039.6" x2="1104.7" y2="1036.6" stroke="#262626" stroke-width="1"/>
<line x1="892.2" y1="1024.5" x2="895.2" y2="1024.5" stroke="#262626" stroke-width="1"/>
<line x1="1124.0" y1="1024.5" x2="1121.0" y2="1024.5" stroke="#262626" stroke-width="1"/>
<rect x="661.4" y="911.8" width="30.6" height="26.8" fill="none" stroke="#000" stroke-width="9.6"/>
<line x1="705.6" y1="928.5" x2="858.0" y2="928.5" stroke="#000" stroke-width="9.5"/>
<path d="M855.6 915.2L884 929.5L855.6 943.7Z" fill="#000"/>
<defs><linearGradient id="jet" x1="0" y1="1" x2="0" y2="0">
<stop offset="0.0000" stop-color="#000080"/>
<stop offset="0.0625" stop-color="#0000BF"/>
<stop offset="0.1250" stop-color="#0000FF"/>
<stop offset="0.1875" stop-color="#0040FF"/>
<stop offset="0.2500" stop-color="#0080FF"/>
<stop offset="0.3125" stop-color="#00BFFF"/>
<stop offset="0.3750" stop-color="#00FFFF"/>
<stop offset="0.4375" stop-color="#40FFBF"/>
<stop offset="0.5000" stop-color="#80FF80"/>
<stop offset="0.5625" stop-color="#BFFF40"/>
<stop offset="0.6250" stop-color="#FFFF00"/>
<stop offset="0.6875" stop-color="#FFBF00"/>
<stop offset="0.7500" stop-color="#FF8000"/>
<stop offset="0.8125" stop-color="#FF4000"/>
<stop offset="0.8750" stop-color="#FF0000"/>
<stop offset="0.9375" stop-color="#BF0000"/>
<stop offset="1.0000" stop-color="#800000"/>
</linearGradient></defs>
<rect x="1172.70" y="1250.70" width="22.40" height="214.90" fill="url(#jet)"/>
<text x="1201.5" y="1266.7" font-size="30" text-anchor="start" fill="#262626">1</text>
<text x="1203.0" y="1372.2" font-size="30" text-anchor="start" fill="#262626">0</text>
<text x="1203.0" y="1474.2" font-size="30" text-anchor="start" fill="#262626">-1</text>
<line x1="1195.0" y1="1358.0" x2="1192.0" y2="1358.0" stroke="#262626" stroke-width="1"/>
<path d="M1330.6 96.2V161.2M1328.6 96.2h4M1328.6 161.2h4M1332.6 67.9V129.3M1330.6 67.9h4M1330.6 129.3h4M1334.6 68.3V130.8M1332.6 68.3h4M1332.6 130.8h4M1336.6 109.2V168.5M1334.6 109.2h4M1334.6 168.5h4M1338.6 103.6V167.3M1336.6 103.6h4M1336.6 167.3h4M1340.6 97.4V155.7M1338.6 97.4h4M1338.6 155.7h4M1342.7 109.7V172.2M1340.7 109.7h4M1340.7 172.2h4M1344.7 103.6V173.2M1342.7 103.6h4M1342.7 173.2h4M1346.7 77.0V148.4M1344.7 77.0h4M1344.7 148.4h4M1348.7 76.4V140.8M1346.7 76.4h4M1346.7 140.8h4M1350.7 79.2V150.1M1348.7 79.2h4M1348.7 150.1h4M1352.7 61.9V131.2M1350.7 61.9h4M1350.7 131.2h4M1354.7 98.3V155.0M1352.7 98.3h4M1352.7 155.0h4M1356.7 66.6V130.6M1354.7 66.6h4M1354.7 130.6h4M1358.7 96.3V156.1M1356.7 96.3h4M1356.7 156.1h4M1360.8 72.3V130.9M1358.8 72.3h4M1358.8 130.9h4M1362.8 101.8V165.5M1360.8 101.8h4M1360.8 165.5h4M1364.8 76.4V140.8M1362.8 76.4h4M1362.8 140.8h4M1366.8 81.1V151.8M1364.8 81.1h4M1364.8 151.8h4M1368.8 86.2V143.1M1366.8 86.2h4M1366.8 143.1h4M1370.8 117.6V162.8M1368.8 117.6h4M1368.8 162.8h4M1372.8 99.8V133.6M1370.8 99.8h4M1370.8 133.6h4M1374.8 97.5V144.2M1372.8 97.5h4M1372.8 144.2h4M1376.8 115.4V153.9M1374.8 115.4h4M1374.8 153.9h4M1378.8 102.3V144.1M1376.8 102.3h4M1376.8 144.1h4M1380.8 101.4V148.8M1378.8 101.4h4M1378.8 148.8h4M1382.9 116.2V164.3M1380.9 116.2h4M1380.9 164.3h4M1384.9 100.9V137.7M1382.9 100.9h4M1382.9 137.7h4M1386.9 105.1V143.2M1384.9 105.1h4M1384.9 143.2h4M1388.9 109.1V142.3M1386.9 109.1h4M1386.9 142.3h4M1390.9 101.7V138.6M1388.9 101.7h4M1388.9 138.6h4M1392.9 121.7V157.2M1390.9 121.7h4M1390.9 157.2h4M1394.9 112.0V149.0M1392.9 112.0h4M1392.9 149.0h4M1396.9 92.4V140.2M1394.9 92.4h4M1394.9 140.2h4M1398.9 97.8V139.5M1396.9 97.8h4M1396.9 139.5h4M1400.9 89.9V139.4M1398.9 89.9h4M1398.9 139.4h4M1403.0 99.4V148.8M1401.0 99.4h4M1401.0 148.8h4M1405.0 113.3V156.9M1403.0 113.3h4M1403.0 156.9h4M1407.0 106.0V146.6M1405.0 106.0h4M1405.0 146.6h4M1409.0 55.3V93.7M1407.0 55.3h4M1407.0 93.7h4M1411.0 85.6V131.6M1409.0 85.6h4M1409.0 131.6h4M1413.0 87.5V129.7M1411.0 87.5h4M1411.0 129.7h4M1415.0 99.0V141.6M1413.0 99.0h4M1413.0 141.6h4M1417.0 88.9V130.3M1415.0 88.9h4M1415.0 130.3h4M1419.0 106.5V148.4M1417.0 106.5h4M1417.0 148.4h4M1421.0 107.3V154.0M1419.0 107.3h4M1419.0 154.0h4M1423.1 100.0V132.6M1421.1 100.0h4M1421.1 132.6h4M1425.1 104.7V138.8M1423.1 104.7h4M1423.1 138.8h4M1427.1 107.8V145.1M1425.1 107.8h4M1425.1 145.1h4M1429.1 118.2V150.6M1427.1 118.2h4M1427.1 150.6h4M1431.1 118.5V158.4M1429.1 118.5h4M1429.1 158.4h4M1433.1 104.0V139.1M1431.1 104.0h4M1431.1 139.1h4M1435.1 92.3V139.0M1433.1 92.3h4M1433.1 139.0h4M1437.1 111.7V145.9M1435.1 111.7h4M1435.1 145.9h4M1439.1 110.3V145.9M1437.1 110.3h4M1437.1 145.9h4M1441.1 119.7V162.6M1439.1 119.7h4M1439.1 162.6h4M1443.2 116.1V153.9M1441.2 116.1h4M1441.2 153.9h4M1445.2 112.9V161.6M1443.2 112.9h4M1443.2 161.6h4M1447.2 106.2V142.3M1445.2 106.2h4M1445.2 142.3h4M1449.2 111.3V149.9M1447.2 111.3h4M1447.2 149.9h4M1451.2 112.2V145.8M1449.2 112.2h4M1449.2 145.8h4M1453.2 112.7V157.7M1451.2 112.7h4M1451.2 157.7h4M1455.2 107.7V148.9M1453.2 107.7h4M1453.2 148.9h4M1457.2 123.1V161.5M1455.2 123.1h4M1455.2 161.5h4M1459.2 95.8V132.3M1457.2 95.8h4M1457.2 132.3h4M1461.2 108.3V149.0M1459.2 108.3h4M1459.2 149.0h4M1463.3 105.6V143.9M1461.3 105.6h4M1461.3 143.9h4M1465.3 100.9V149.5M1463.3 100.9h4M1463.3 149.5h4M1467.3 118.4V153.8M1465.3 118.4h4M1465.3 153.8h4M1469.3 95.8V138.8M1467.3 95.8h4M1467.3 138.8h4M1471.3 105.4V149.5M1469.3 105.4h4M1469.3 149.5h4M1473.3 105.1V155.2M1471.3 105.1h4M1471.3 155.2h4M1475.3 103.5V136.9M1473.3 103.5h4M1473.3 136.9h4M1477.3 118.6V154.5M1475.3 118.6h4M1475.3 154.5h4M1479.3 100.3V146.3M1477.3 100.3h4M1477.3 146.3h4M1481.3 96.6V131.2M1479.3 96.6h4M1479.3 131.2h4M1483.4 114.9V151.0M1481.4 114.9h4M1481.4 151.0h4M1485.4 101.9V148.1M1483.4 101.9h4M1483.4 148.1h4M1487.4 119.5V160.7M1485.4 119.5h4M1485.4 160.7h4M1489.4 79.8V119.3M1487.4 79.8h4M1487.4 119.3h4M1491.4 103.1V149.7M1489.4 103.1h4M1489.4 149.7h4M1493.4 71.4V111.7M1491.4 71.4h4M1491.4 111.7h4M1495.4 93.0V137.0M1493.4 93.0h4M1493.4 137.0h4M1497.4 93.9V129.0M1495.4 93.9h4M1495.4 129.0h4M1499.4 119.5V161.7M1497.4 119.5h4M1497.4 161.7h4M1501.4 107.2V143.2M1499.4 107.2h4M1499.4 143.2h4M1503.5 109.5V155.3M1501.5 109.5h4M1501.5 155.3h4M1505.5 114.1V147.9M1503.5 114.1h4M1503.5 147.9h4M1507.5 109.0V141.7M1505.5 109.0h4M1505.5 141.7h4M1509.5 109.3V147.4M1507.5 109.3h4M1507.5 147.4h4M1511.5 109.0V152.2M1509.5 109.0h4M1509.5 152.2h4M1513.5 104.5V148.4M1511.5 104.5h4M1511.5 148.4h4M1515.5 115.3V149.1M1513.5 115.3h4M1513.5 149.1h4M1517.5 85.0V126.2M1515.5 85.0h4M1515.5 126.2h4M1519.5 111.8V157.5M1517.5 111.8h4M1517.5 157.5h4M1521.5 102.6V140.2M1519.5 102.6h4M1519.5 140.2h4M1523.6 95.2V128.4M1521.6 95.2h4M1521.6 128.4h4M1525.6 107.8V149.5M1523.6 107.8h4M1523.6 149.5h4M1527.6 96.0V131.3M1525.6 96.0h4M1525.6 131.3h4M1529.6 107.4V139.9M1527.6 107.4h4M1527.6 139.9h4" stroke="#CDCDCD" stroke-width="1.6" fill="none"/>
<g fill="#000"><circle cx="1330.6" cy="128.7" r="4.8"/><circle cx="1332.6" cy="98.6" r="4.8"/><circle cx="1334.6" cy="99.6" r="4.8"/><circle cx="1336.6" cy="138.8" r="4.8"/><circle cx="1338.6" cy="135.5" r="4.8"/><circle cx="1340.6" cy="126.5" r="4.8"/><circle cx="1342.7" cy="140.9" r="4.8"/><circle cx="1344.7" cy="138.4" r="4.8"/><circle cx="1346.7" cy="112.7" r="4.8"/><circle cx="1348.7" cy="108.6" r="4.8"/><circle cx="1350.7" cy="114.6" r="4.8"/><circle cx="1352.7" cy="96.6" r="4.8"/><circle cx="1354.7" cy="126.6" r="4.8"/><circle cx="1356.7" cy="98.6" r="4.8"/><circle cx="1358.7" cy="126.2" r="4.8"/><circle cx="1360.8" cy="101.6" r="4.8"/><circle cx="1362.8" cy="133.6" r="4.8"/><circle cx="1364.8" cy="108.6" r="4.8"/><circle cx="1366.8" cy="116.5" r="4.8"/><circle cx="1368.8" cy="114.6" r="4.8"/><circle cx="1370.8" cy="140.2" r="4.8"/><circle cx="1372.8" cy="116.7" r="4.8"/><circle cx="1374.8" cy="120.8" r="4.8"/><circle cx="1376.8" cy="134.6" r="4.8"/><circle cx="1378.8" cy="123.2" r="4.8"/><circle cx="1380.8" cy="125.1" r="4.8"/><circle cx="1382.9" cy="140.3" r="4.8"/><circle cx="1384.9" cy="119.3" r="4.8"/><circle cx="1386.9" cy="124.1" r="4.8"/><circle cx="1388.9" cy="125.7" r="4.8"/><circle cx="1390.9" cy="120.1" r="4.8"/><circle cx="1392.9" cy="139.4" r="4.8"/><circle cx="1394.9" cy="130.5" r="4.8"/><circle cx="1396.9" cy="116.3" r="4.8"/><circle cx="1398.9" cy="118.7" r="4.8"/><circle cx="1400.9" cy="114.6" r="4.8"/><circle cx="1403.0" cy="124.1" r="4.8"/><circle cx="1405.0" cy="135.1" r="4.8"/><circle cx="1407.0" cy="126.3" r="4.8"/><circle cx="1409.0" cy="74.5" r="4.8"/><circle cx="1411.0" cy="108.6" r="4.8"/><circle cx="1413.0" cy="108.6" r="4.8"/><circle cx="1415.0" cy="120.3" r="4.8"/><circle cx="1417.0" cy="109.6" r="4.8"/><circle cx="1419.0" cy="127.5" r="4.8"/><circle cx="1421.0" cy="130.7" r="4.8"/><circle cx="1423.1" cy="116.3" r="4.8"/><circle cx="1425.1" cy="121.7" r="4.8"/><circle cx="1427.1" cy="126.5" r="4.8"/><circle cx="1429.1" cy="134.4" r="4.8"/><circle cx="1431.1" cy="138.5" r="4.8"/><circle cx="1433.1" cy="121.6" r="4.8"/><circle cx="1435.1" cy="115.6" r="4.8"/><circle cx="1437.1" cy="128.8" r="4.8"/><circle cx="1439.1" cy="128.1" r="4.8"/><circle cx="1441.1" cy="141.2" r="4.8"/><circle cx="1443.2" cy="135.0" r="4.8"/><circle cx="1445.2" cy="137.2" r="4.8"/><circle cx="1447.2" cy="124.3" r="4.8"/><circle cx="1449.2" cy="130.6" r="4.8"/><circle cx="1451.2" cy="129.0" r="4.8"/><circle cx="1453.2" cy="135.2" r="4.8"/><circle cx="1455.2" cy="128.3" r="4.8"/><circle cx="1457.2" cy="142.3" r="4.8"/><circle cx="1459.2" cy="114.1" r="4.8"/><circle cx="1461.2" cy="128.7" r="4.8"/><circle cx="1463.3" cy="124.8" r="4.8"/><circle cx="1465.3" cy="125.2" r="4.8"/><circle cx="1467.3" cy="136.1" r="4.8"/><circle cx="1469.3" cy="117.3" r="4.8"/><circle cx="1471.3" cy="127.4" r="4.8"/><circle cx="1473.3" cy="130.2" r="4.8"/><circle cx="1475.3" cy="120.2" r="4.8"/><circle cx="1477.3" cy="136.5" r="4.8"/><circle cx="1479.3" cy="123.3" r="4.8"/><circle cx="1481.3" cy="113.9" r="4.8"/><circle cx="1483.4" cy="133.0" r="4.8"/><circle cx="1485.4" cy="125.0" r="4.8"/><circle cx="1487.4" cy="140.1" r="4.8"/><circle cx="1489.4" cy="99.6" r="4.8"/><circle cx="1491.4" cy="126.4" r="4.8"/><circle cx="1493.4" cy="91.6" r="4.8"/><circle cx="1495.4" cy="115.0" r="4.8"/><circle cx="1497.4" cy="111.4" r="4.8"/><circle cx="1499.4" cy="140.6" r="4.8"/><circle cx="1501.4" cy="125.2" r="4.8"/><circle cx="1503.5" cy="132.4" r="4.8"/><circle cx="1505.5" cy="131.0" r="4.8"/><circle cx="1507.5" cy="125.4" r="4.8"/><circle cx="1509.5" cy="128.4" r="4.8"/><circle cx="1511.5" cy="130.6" r="4.8"/><circle cx="1513.5" cy="126.5" r="4.8"/><circle cx="1515.5" cy="132.2" r="4.8"/><circle cx="1517.5" cy="105.6" r="4.8"/><circle cx="1519.5" cy="134.6" r="4.8"/><circle cx="1521.5" cy="121.4" r="4.8"/><circle cx="1523.6" cy="111.8" r="4.8"/><circle cx="1525.6" cy="128.7" r="4.8"/><circle cx="1527.6" cy="113.6" r="4.8"/><circle cx="1529.6" cy="123.7" r="4.8"/></g>
<line x1="1328.7" y1="55.3" x2="1328.7" y2="176.4" stroke="#262626" stroke-width="2"/>
<line x1="1327.7" y1="175.4" x2="1532.5" y2="175.4" stroke="#262626" stroke-width="2"/>
<line x1="1328.7" y1="62.5" x2="1331.7" y2="62.5" stroke="#262626" stroke-width="1.2"/>
<text x="1323.3" y="71.3" font-size="22" text-anchor="end" fill="#262626">8</text>
<line x1="1328.7" y1="82.5" x2="1331.7" y2="82.5" stroke="#262626" stroke-width="1.2"/>
<text x="1323.3" y="91.3" font-size="22" text-anchor="end" fill="#262626">6</text>
<line x1="1328.7" y1="102.6" x2="1331.7" y2="102.6" stroke="#262626" stroke-width="1.2"/>
<text x="1323.3" y="111.4" font-size="22" text-anchor="end" fill="#262626">4</text>
<line x1="1328.7" y1="122.6" x2="1331.7" y2="122.6" stroke="#262626" stroke-width="1.2"/>
<text x="1323.3" y="131.4" font-size="22" text-anchor="end" fill="#262626">2</text>
<line x1="1328.7" y1="142.7" x2="1331.7" y2="142.7" stroke="#262626" stroke-width="1.2"/>
<text x="1323.3" y="151.5" font-size="22" text-anchor="end" fill="#262626">0</text>
<line x1="1328.7" y1="162.8" x2="1331.7" y2="162.8" stroke="#262626" stroke-width="1.2"/>
<text x="1323.3" y="171.6" font-size="22" text-anchor="end" fill="#262626">-2</text>
<line x1="1368.8" y1="175.4" x2="1368.8" y2="172.4" stroke="#262626" stroke-width="1.2"/>
<text x="1368.8" y="203.6" font-size="22" text-anchor="middle" fill="#262626">20</text>
<line x1="1409.0" y1="175.4" x2="1409.0" y2="172.4" stroke="#262626" stroke-width="1.2"/>
<text x="1409.0" y="203.6" font-size="22" text-anchor="middle" fill="#262626">40</text>
<line x1="1449.2" y1="175.4" x2="1449.2" y2="172.4" stroke="#262626" stroke-width="1.2"/>
<text x="1449.2" y="203.6" font-size="22" text-anchor="middle" fill="#262626">60</text>
<line x1="1489.4" y1="175.4" x2="1489.4" y2="172.4" stroke="#262626" stroke-width="1.2"/>
<text x="1489.4" y="203.6" font-size="22" text-anchor="middle" fill="#262626">80</text>
<line x1="1529.6" y1="175.4" x2="1529.6" y2="172.4" stroke="#262626" stroke-width="1.2"/>
<text x="1529.6" y="203.6" font-size="22" text-anchor="middle" fill="#262626">100</text>
<text x="1430.7" y="232.3" font-size="23.7" text-anchor="middle" fill="#262626">% of null modes</text>
<text x="1295.6" y="171.3" font-size="23.7" text-anchor="start" fill="#262626" transform="rotate(-90 1295.6 171.3)" textLength="107.5" lengthAdjust="spacingAndGlyphs">mean corr.</text>
<text x="1330.5" y="51.0" font-size="21" text-anchor="start" fill="#262626"><tspan font-size="27">×</tspan>10<tspan dy="-9" font-size="16">-3</tspan></text>
<path d="M1324.1 355.7V390.3M1322.1 355.7h4M1322.1 390.3h4M1326.2 324.5V366.6M1324.2 324.5h4M1324.2 366.6h4M1328.3 335.2V379.2M1326.3 335.2h4M1326.3 379.2h4M1330.3 324.6V358.7M1328.3 324.6h4M1328.3 358.7h4M1332.4 310.2V355.2M1330.4 310.2h4M1330.4 355.2h4M1334.5 330.7V379.0M1332.5 330.7h4M1332.5 379.0h4M1336.6 353.8V389.1M1334.6 353.8h4M1334.6 389.1h4M1338.7 352.6V387.6M1336.7 352.6h4M1336.7 387.6h4M1340.7 337.7V373.2M1338.7 337.7h4M1338.7 373.2h4M1342.8 346.5V384.1M1340.8 346.5h4M1340.8 384.1h4M1344.9 338.2V386.8M1342.9 338.2h4M1342.9 386.8h4M1347.0 321.5V361.2M1345.0 321.5h4M1345.0 361.2h4M1349.1 334.8V370.9M1347.1 334.8h4M1347.1 370.9h4M1351.1 308.9V356.4M1349.1 308.9h4M1349.1 356.4h4M1353.2 331.3V376.3M1351.2 331.3h4M1351.2 376.3h4M1355.3 312.7V359.3M1353.3 312.7h4M1353.3 359.3h4M1357.4 313.0V363.6M1355.4 313.0h4M1355.4 363.6h4M1359.5 345.0V393.6M1357.5 345.0h4M1357.5 393.6h4M1361.5 334.0V380.5M1359.5 334.0h4M1359.5 380.5h4M1363.6 338.4V375.1M1361.6 338.4h4M1361.6 375.1h4M1365.7 324.2V374.2M1363.7 324.2h4M1363.7 374.2h4M1367.8 327.1V373.7M1365.8 327.1h4M1365.8 373.7h4M1369.9 333.8V373.5M1367.9 333.8h4M1367.9 373.5h4M1371.9 327.5V377.1M1369.9 327.5h4M1369.9 377.1h4M1374.0 337.3V374.1M1372.0 337.3h4M1372.0 374.1h4M1376.1 325.8V365.7M1374.1 325.8h4M1374.1 365.7h4M1378.2 347.8V389.0M1376.2 347.8h4M1376.2 389.0h4M1380.3 327.2V378.4M1378.3 327.2h4M1378.3 378.4h4M1382.3 333.9V371.0M1380.3 333.9h4M1380.3 371.0h4M1384.4 345.2V396.2M1382.4 345.2h4M1382.4 396.2h4M1386.5 334.1V376.8M1384.5 334.1h4M1384.5 376.8h4M1388.6 322.7V360.9M1386.6 322.7h4M1386.6 360.9h4M1390.7 340.7V386.9M1388.7 340.7h4M1388.7 386.9h4M1392.7 327.9V378.2M1390.7 327.9h4M1390.7 378.2h4M1394.8 341.2V376.2M1392.8 341.2h4M1392.8 376.2h4M1396.9 309.3V360.5M1394.9 309.3h4M1394.9 360.5h4M1399.0 331.7V380.0M1397.0 331.7h4M1397.0 380.0h4M1401.1 346.4V381.3M1399.1 346.4h4M1399.1 381.3h4M1403.1 328.8V378.6M1401.1 328.8h4M1401.1 378.6h4M1405.2 276.8V316.9M1403.2 276.8h4M1403.2 316.9h4M1407.3 322.7V360.6M1405.3 322.7h4M1405.3 360.6h4M1409.4 342.8V383.6M1407.4 342.8h4M1407.4 383.6h4M1411.5 351.0V391.5M1409.5 351.0h4M1409.5 391.5h4M1413.5 311.4V356.2M1411.5 311.4h4M1411.5 356.2h4M1415.6 349.5V395.9M1413.6 349.5h4M1413.6 395.9h4M1417.7 344.5V387.8M1415.7 344.5h4M1415.7 387.8h4M1419.8 333.3V381.3M1417.8 333.3h4M1417.8 381.3h4M1421.9 327.6V368.3M1419.9 327.6h4M1419.9 368.3h4M1423.9 331.8V367.5M1421.9 331.8h4M1421.9 367.5h4M1426.0 353.0V390.0M1424.0 353.0h4M1424.0 390.0h4M1428.1 326.9V370.9M1426.1 326.9h4M1426.1 370.9h4M1430.2 348.9V388.0M1428.2 348.9h4M1428.2 388.0h4M1432.3 331.9V380.2M1430.3 331.9h4M1430.3 380.2h4M1434.3 337.9V376.3M1432.3 337.9h4M1432.3 376.3h4M1436.4 327.7V371.8M1434.4 327.7h4M1434.4 371.8h4M1438.5 338.8V374.0M1436.5 338.8h4M1436.5 374.0h4M1440.6 324.1V372.2M1438.6 324.1h4M1438.6 372.2h4M1442.7 342.1V385.4M1440.7 342.1h4M1440.7 385.4h4M1444.7 340.0V378.3M1442.7 340.0h4M1442.7 378.3h4M1446.8 326.9V372.8M1444.8 326.9h4M1444.8 372.8h4M1448.9 342.0V384.0M1446.9 342.0h4M1446.9 384.0h4M1451.0 338.4V387.9M1449.0 338.4h4M1449.0 387.9h4M1453.1 333.9V380.8M1451.1 333.9h4M1451.1 380.8h4M1455.1 347.2V397.9M1453.1 347.2h4M1453.1 397.9h4M1457.2 335.1V385.4M1455.2 335.1h4M1455.2 385.4h4M1459.3 324.0V359.3M1457.3 324.0h4M1457.3 359.3h4M1461.4 325.1V363.4M1459.4 325.1h4M1459.4 363.4h4M1463.5 328.2V364.3M1461.5 328.2h4M1461.5 364.3h4M1465.5 331.7V371.1M1463.5 331.7h4M1463.5 371.1h4M1467.6 330.5V375.2M1465.6 330.5h4M1465.6 375.2h4M1469.7 337.8V374.4M1467.7 337.8h4M1467.7 374.4h4M1471.8 341.5V381.5M1469.8 341.5h4M1469.8 381.5h4M1473.9 337.2V372.4M1471.9 337.2h4M1471.9 372.4h4M1475.9 338.1V372.1M1473.9 338.1h4M1473.9 372.1h4M1478.0 336.6V384.8M1476.0 336.6h4M1476.0 384.8h4M1480.1 337.4V371.8M1478.1 337.4h4M1478.1 371.8h4M1482.2 352.4V386.3M1480.2 352.4h4M1480.2 386.3h4M1484.3 345.0V389.4M1482.3 345.0h4M1482.3 389.4h4M1486.3 301.8V352.4M1484.3 301.8h4M1484.3 352.4h4M1488.4 346.1V393.1M1486.4 346.1h4M1486.4 393.1h4M1490.5 297.4V334.3M1488.5 297.4h4M1488.5 334.3h4M1492.6 328.9V379.1M1490.6 328.9h4M1490.6 379.1h4M1494.7 346.8V380.5M1492.7 346.8h4M1492.7 380.5h4M1496.7 322.9V372.3M1494.7 322.9h4M1494.7 372.3h4M1498.8 335.1V376.4M1496.8 335.1h4M1496.8 376.4h4M1500.9 324.4V360.6M1498.9 324.4h4M1498.9 360.6h4M1503.0 341.7V378.2M1501.0 341.7h4M1501.0 378.2h4M1505.1 315.3V365.8M1503.1 315.3h4M1503.1 365.8h4M1507.1 336.4V371.3M1505.1 336.4h4M1505.1 371.3h4M1509.2 348.4V386.9M1507.2 348.4h4M1507.2 386.9h4M1511.3 323.9V372.8M1509.3 323.9h4M1509.3 372.8h4M1513.4 332.9V376.1M1511.4 332.9h4M1511.4 376.1h4M1515.5 309.1V358.5M1513.5 309.1h4M1513.5 358.5h4M1517.5 340.0V376.8M1515.5 340.0h4M1515.5 376.8h4M1519.6 330.5V382.0M1517.6 330.5h4M1517.6 382.0h4M1521.7 348.2V391.1M1519.7 348.2h4M1519.7 391.1h4M1523.8 340.5V381.6M1521.8 340.5h4M1521.8 381.6h4M1525.9 329.3V362.9M1523.9 329.3h4M1523.9 362.9h4M1527.9 349.2V389.1M1525.9 349.2h4M1525.9 389.1h4M1530.0 330.7V380.8M1528.0 330.7h4M1528.0 380.8h4" stroke="#CDCDCD" stroke-width="1.6" fill="none"/>
<g fill="#000"><circle cx="1324.1" cy="373.0" r="4.8"/><circle cx="1326.2" cy="345.6" r="4.8"/><circle cx="1328.3" cy="357.2" r="4.8"/><circle cx="1330.3" cy="341.6" r="4.8"/><circle cx="1332.4" cy="332.7" r="4.8"/><circle cx="1334.5" cy="354.8" r="4.8"/><circle cx="1336.6" cy="371.4" r="4.8"/><circle cx="1338.7" cy="370.1" r="4.8"/><circle cx="1340.7" cy="355.4" r="4.8"/><circle cx="1342.8" cy="365.3" r="4.8"/><circle cx="1344.9" cy="362.5" r="4.8"/><circle cx="1347.0" cy="341.3" r="4.8"/><circle cx="1349.1" cy="352.8" r="4.8"/><circle cx="1351.1" cy="332.7" r="4.8"/><circle cx="1353.2" cy="353.8" r="4.8"/><circle cx="1355.3" cy="336.0" r="4.8"/><circle cx="1357.4" cy="338.3" r="4.8"/><circle cx="1359.5" cy="369.3" r="4.8"/><circle cx="1361.5" cy="357.2" r="4.8"/><circle cx="1363.6" cy="356.8" r="4.8"/><circle cx="1365.7" cy="349.2" r="4.8"/><circle cx="1367.8" cy="350.4" r="4.8"/><circle cx="1369.9" cy="353.7" r="4.8"/><circle cx="1371.9" cy="352.3" r="4.8"/><circle cx="1374.0" cy="355.7" r="4.8"/><circle cx="1376.1" cy="345.8" r="4.8"/><circle cx="1378.2" cy="368.4" r="4.8"/><circle cx="1380.3" cy="352.8" r="4.8"/><circle cx="1382.3" cy="352.5" r="4.8"/><circle cx="1384.4" cy="370.7" r="4.8"/><circle cx="1386.5" cy="355.4" r="4.8"/><circle cx="1388.6" cy="341.8" r="4.8"/><circle cx="1390.7" cy="363.8" r="4.8"/><circle cx="1392.7" cy="353.1" r="4.8"/><circle cx="1394.8" cy="358.7" r="4.8"/><circle cx="1396.9" cy="334.9" r="4.8"/><circle cx="1399.0" cy="355.8" r="4.8"/><circle cx="1401.1" cy="363.9" r="4.8"/><circle cx="1403.1" cy="353.7" r="4.8"/><circle cx="1405.2" cy="296.8" r="4.8"/><circle cx="1407.3" cy="341.6" r="4.8"/><circle cx="1409.4" cy="363.2" r="4.8"/><circle cx="1411.5" cy="371.3" r="4.8"/><circle cx="1413.5" cy="333.8" r="4.8"/><circle cx="1415.6" cy="372.7" r="4.8"/><circle cx="1417.7" cy="366.2" r="4.8"/><circle cx="1419.8" cy="357.3" r="4.8"/><circle cx="1421.9" cy="348.0" r="4.8"/><circle cx="1423.9" cy="349.7" r="4.8"/><circle cx="1426.0" cy="371.5" r="4.8"/><circle cx="1428.1" cy="348.9" r="4.8"/><circle cx="1430.2" cy="368.5" r="4.8"/><circle cx="1432.3" cy="356.0" r="4.8"/><circle cx="1434.3" cy="357.1" r="4.8"/><circle cx="1436.4" cy="349.7" r="4.8"/><circle cx="1438.5" cy="356.4" r="4.8"/><circle cx="1440.6" cy="348.2" r="4.8"/><circle cx="1442.7" cy="363.7" r="4.8"/><circle cx="1444.7" cy="359.2" r="4.8"/><circle cx="1446.8" cy="349.8" r="4.8"/><circle cx="1448.9" cy="363.0" r="4.8"/><circle cx="1451.0" cy="363.2" r="4.8"/><circle cx="1453.1" cy="357.4" r="4.8"/><circle cx="1455.1" cy="372.5" r="4.8"/><circle cx="1457.2" cy="360.2" r="4.8"/><circle cx="1459.3" cy="341.6" r="4.8"/><circle cx="1461.4" cy="344.2" r="4.8"/><circle cx="1463.5" cy="346.2" r="4.8"/><circle cx="1465.5" cy="351.4" r="4.8"/><circle cx="1467.6" cy="352.8" r="4.8"/><circle cx="1469.7" cy="356.1" r="4.8"/><circle cx="1471.8" cy="361.5" r="4.8"/><circle cx="1473.9" cy="354.8" r="4.8"/><circle cx="1475.9" cy="355.1" r="4.8"/><circle cx="1478.0" cy="360.7" r="4.8"/><circle cx="1480.1" cy="354.6" r="4.8"/><circle cx="1482.2" cy="369.3" r="4.8"/><circle cx="1484.3" cy="367.2" r="4.8"/><circle cx="1486.3" cy="327.1" r="4.8"/><circle cx="1488.4" cy="369.6" r="4.8"/><circle cx="1490.5" cy="315.9" r="4.8"/><circle cx="1492.6" cy="354.0" r="4.8"/><circle cx="1494.7" cy="363.7" r="4.8"/><circle cx="1496.7" cy="347.6" r="4.8"/><circle cx="1498.8" cy="355.8" r="4.8"/><circle cx="1500.9" cy="342.5" r="4.8"/><circle cx="1503.0" cy="359.9" r="4.8"/><circle cx="1505.1" cy="340.5" r="4.8"/><circle cx="1507.1" cy="353.9" r="4.8"/><circle cx="1509.2" cy="367.7" r="4.8"/><circle cx="1511.3" cy="348.3" r="4.8"/><circle cx="1513.4" cy="354.5" r="4.8"/><circle cx="1515.5" cy="333.8" r="4.8"/><circle cx="1517.5" cy="358.4" r="4.8"/><circle cx="1519.6" cy="356.3" r="4.8"/><circle cx="1521.7" cy="369.7" r="4.8"/><circle cx="1523.8" cy="361.0" r="4.8"/><circle cx="1525.9" cy="346.1" r="4.8"/><circle cx="1527.9" cy="369.2" r="4.8"/><circle cx="1530.0" cy="355.7" r="4.8"/></g>
<line x1="1321.3" y1="274.8" x2="1321.3" y2="395.3" stroke="#262626" stroke-width="2"/>
<line x1="1320.3" y1="394.3" x2="1532.5" y2="394.3" stroke="#262626" stroke-width="2"/>
<line x1="1321.3" y1="283.4" x2="1324.3" y2="283.4" stroke="#262626" stroke-width="1.2"/>
<text x="1314.5" y="291.2" font-size="22" text-anchor="end" fill="#262626">4</text>
<line x1="1321.3" y1="328.2" x2="1324.3" y2="328.2" stroke="#262626" stroke-width="1.2"/>
<text x="1314.5" y="336.0" font-size="22" text-anchor="end" fill="#262626">2</text>
<line x1="1321.3" y1="373.0" x2="1324.3" y2="373.0" stroke="#262626" stroke-width="1.2"/>
<text x="1314.5" y="380.8" font-size="22" text-anchor="end" fill="#262626">0</text>
<line x1="1363.6" y1="394.3" x2="1363.6" y2="391.3" stroke="#262626" stroke-width="1.2"/>
<text x="1363.6" y="423.2" font-size="22" text-anchor="middle" fill="#262626">20</text>
<line x1="1405.2" y1="394.3" x2="1405.2" y2="391.3" stroke="#262626" stroke-width="1.2"/>
<text x="1405.2" y="423.2" font-size="22" text-anchor="middle" fill="#262626">40</text>
<line x1="1446.8" y1="394.3" x2="1446.8" y2="391.3" stroke="#262626" stroke-width="1.2"/>
<text x="1446.8" y="423.2" font-size="22" text-anchor="middle" fill="#262626">60</text>
<line x1="1488.4" y1="394.3" x2="1488.4" y2="391.3" stroke="#262626" stroke-width="1.2"/>
<text x="1488.4" y="423.2" font-size="22" text-anchor="middle" fill="#262626">80</text>
<line x1="1530.0" y1="394.3" x2="1530.0" y2="391.3" stroke="#262626" stroke-width="1.2"/>
<text x="1530.0" y="423.2" font-size="22" text-anchor="middle" fill="#262626">100</text>
<text x="1427.3" y="451.7" font-size="23.7" text-anchor="middle" fill="#262626">% of null modes</text>
<text x="1295.6" y="402.5" font-size="23.7" text-anchor="start" fill="#262626" transform="rotate(-90 1295.6 402.5)" textLength="135.7" lengthAdjust="spacingAndGlyphs">mean weight</text>
<text x="1322.8" y="270.2" font-size="21" text-anchor="start" fill="#262626"><tspan font-size="27">×</tspan>10<tspan dy="-9" font-size="16">-3</tspan></text>
<path d="M1324.4 554.1V576.1M1322.4 554.1h4M1322.4 576.1h4M1326.3 556.4V576.7M1324.3 556.4h4M1324.3 576.7h4M1328.1 557.0V578.4M1326.1 557.0h4M1326.1 578.4h4M1330.0 557.6V584.0M1328.0 557.6h4M1328.0 584.0h4M1331.8 563.9V581.8M1329.8 563.9h4M1329.8 581.8h4M1333.7 556.1V578.0M1331.7 556.1h4M1331.7 578.0h4M1335.5 558.7V575.5M1333.5 558.7h4M1333.5 575.5h4M1337.4 575.9V590.8M1335.4 575.9h4M1335.4 590.8h4M1339.2 565.6V592.0M1337.2 565.6h4M1337.2 592.0h4M1341.1 557.1V575.3M1339.1 557.1h4M1339.1 575.3h4M1342.9 561.3V578.2M1340.9 561.3h4M1340.9 578.2h4M1344.8 560.2V581.1M1342.8 560.2h4M1342.8 581.1h4M1346.6 517.4V561.2M1344.6 517.4h4M1344.6 561.2h4M1348.5 569.9V613.0M1346.5 569.9h4M1346.5 613.0h4M1350.3 558.0V597.8M1348.3 558.0h4M1348.3 597.8h4M1352.2 549.8V583.7M1350.2 549.8h4M1350.2 583.7h4M1354.0 552.9V590.9M1352.0 552.9h4M1352.0 590.9h4M1355.9 571.8V613.9M1353.9 571.8h4M1353.9 613.9h4M1357.7 540.7V577.3M1355.7 540.7h4M1355.7 577.3h4M1359.6 562.8V598.1M1357.6 562.8h4M1357.6 598.1h4M1361.5 553.9V582.5M1359.5 553.9h4M1359.5 582.5h4M1363.3 570.2V611.3M1361.3 570.2h4M1361.3 611.3h4M1365.2 528.8V564.1M1363.2 528.8h4M1363.2 564.1h4M1367.0 542.3V571.9M1365.0 542.3h4M1365.0 571.9h4M1368.9 540.9V571.5M1366.9 540.9h4M1366.9 571.5h4M1370.7 539.5V574.4M1368.7 539.5h4M1368.7 574.4h4M1372.6 545.3V578.4M1370.6 545.3h4M1370.6 578.4h4M1374.4 567.6V592.9M1372.4 567.6h4M1372.4 592.9h4M1376.3 571.0V603.0M1374.3 571.0h4M1374.3 603.0h4M1378.1 532.9V567.3M1376.1 532.9h4M1376.1 567.3h4M1380.0 569.4V600.8M1378.0 569.4h4M1378.0 600.8h4M1381.8 564.8V596.3M1379.8 564.8h4M1379.8 596.3h4M1383.7 542.2V575.7M1381.7 542.2h4M1381.7 575.7h4M1385.5 546.3V588.3M1383.5 546.3h4M1383.5 588.3h4M1387.4 537.1V565.5M1385.4 537.1h4M1385.4 565.5h4M1389.2 551.9V596.6M1387.2 551.9h4M1387.2 596.6h4M1391.1 535.3V573.4M1389.1 535.3h4M1389.1 573.4h4M1392.9 516.1V544.9M1390.9 516.1h4M1390.9 544.9h4M1394.8 553.9V598.8M1392.8 553.9h4M1392.8 598.8h4M1396.6 554.7V583.2M1394.6 554.7h4M1394.6 583.2h4M1398.5 562.9V588.4M1396.5 562.9h4M1396.5 588.4h4M1400.4 549.3V591.8M1398.4 549.3h4M1398.4 591.8h4M1402.2 506.0V539.7M1400.2 506.0h4M1400.2 539.7h4M1404.1 543.3V573.9M1402.1 543.3h4M1402.1 573.9h4M1405.9 592.0V620.0M1403.9 592.0h4M1403.9 620.0h4M1407.8 546.0V584.1M1405.8 546.0h4M1405.8 584.1h4M1409.6 541.4V573.2M1407.6 541.4h4M1407.6 573.2h4M1411.5 564.5V597.5M1409.5 564.5h4M1409.5 597.5h4M1413.3 520.6V560.0M1411.3 520.6h4M1411.3 560.0h4M1415.2 561.2V590.2M1413.2 561.2h4M1413.2 590.2h4M1417.0 532.5V575.2M1415.0 532.5h4M1415.0 575.2h4M1418.9 544.5V581.8M1416.9 544.5h4M1416.9 581.8h4M1420.7 574.7V611.7M1418.7 574.7h4M1418.7 611.7h4M1422.6 551.0V585.4M1420.6 551.0h4M1420.6 585.4h4M1424.4 568.7V601.7M1422.4 568.7h4M1422.4 601.7h4M1426.3 556.2V587.9M1424.3 556.2h4M1424.3 587.9h4M1428.1 578.1V613.4M1426.1 578.1h4M1426.1 613.4h4M1430.0 525.1V557.3M1428.0 525.1h4M1428.0 557.3h4M1431.8 542.7V581.2M1429.8 542.7h4M1429.8 581.2h4M1433.7 543.9V579.1M1431.7 543.9h4M1431.7 579.1h4M1435.6 499.1V528.1M1433.6 499.1h4M1433.6 528.1h4M1437.4 556.7V585.0M1435.4 556.7h4M1435.4 585.0h4M1439.3 575.4V610.2M1437.3 575.4h4M1437.3 610.2h4M1441.1 593.7V628.5M1439.1 593.7h4M1439.1 628.5h4M1443.0 542.7V587.0M1441.0 542.7h4M1441.0 587.0h4M1444.8 522.3V550.1M1442.8 522.3h4M1442.8 550.1h4M1446.7 547.3V580.1M1444.7 547.3h4M1444.7 580.1h4M1448.5 539.2V584.2M1446.5 539.2h4M1446.5 584.2h4M1450.4 553.0V579.3M1448.4 553.0h4M1448.4 579.3h4M1452.2 526.3V560.5M1450.2 526.3h4M1450.2 560.5h4M1454.1 505.2V548.8M1452.1 505.2h4M1452.1 548.8h4M1455.9 531.8V573.7M1453.9 531.8h4M1453.9 573.7h4M1457.8 558.0V586.2M1455.8 558.0h4M1455.8 586.2h4M1459.6 554.0V591.4M1457.6 554.0h4M1457.6 591.4h4M1461.5 569.1V594.4M1459.5 569.1h4M1459.5 594.4h4M1463.3 556.3V600.8M1461.3 556.3h4M1461.3 600.8h4M1465.2 581.4V619.8M1463.2 581.4h4M1463.2 619.8h4M1467.0 562.1V606.5M1465.0 562.1h4M1465.0 606.5h4M1468.9 553.3V589.3M1466.9 553.3h4M1466.9 589.3h4M1470.7 596.8V627.5M1468.7 596.8h4M1468.7 627.5h4M1472.6 502.3V537.2M1470.6 502.3h4M1470.6 537.2h4M1474.5 551.0V593.8M1472.5 551.0h4M1472.5 593.8h4M1476.3 525.3V565.5M1474.3 525.3h4M1474.3 565.5h4M1478.2 547.8V589.4M1476.2 547.8h4M1476.2 589.4h4M1480.0 578.5V608.5M1478.0 578.5h4M1478.0 608.5h4M1481.9 562.5V587.4M1479.9 562.5h4M1479.9 587.4h4M1483.7 518.8V561.6M1481.7 518.8h4M1481.7 561.6h4M1485.6 540.3V570.6M1483.6 540.3h4M1483.6 570.6h4M1487.4 560.1V593.1M1485.4 560.1h4M1485.4 593.1h4M1489.3 546.5V584.3M1487.3 546.5h4M1487.3 584.3h4M1491.1 541.6V568.5M1489.1 541.6h4M1489.1 568.5h4M1493.0 550.7V590.7M1491.0 550.7h4M1491.0 590.7h4M1494.8 547.3V572.7M1492.8 547.3h4M1492.8 572.7h4M1496.7 549.5V582.3M1494.7 549.5h4M1494.7 582.3h4M1498.5 576.8V612.5M1496.5 576.8h4M1496.5 612.5h4M1500.4 554.4V579.5M1498.4 554.4h4M1498.4 579.5h4M1502.2 562.1V604.4M1500.2 562.1h4M1500.2 604.4h4M1504.1 556.4V581.2M1502.1 556.4h4M1502.1 581.2h4M1505.9 533.5V571.7M1503.9 533.5h4M1503.9 571.7h4M1507.8 536.4V562.7M1505.8 536.4h4M1505.8 562.7h4" stroke="#CDCDCD" stroke-width="1.6" fill="none"/>
<g fill="#000"><circle cx="1324.4" cy="565.1" r="4.8"/><circle cx="1326.3" cy="566.5" r="4.8"/><circle cx="1328.1" cy="567.7" r="4.8"/><circle cx="1330.0" cy="570.8" r="4.8"/><circle cx="1331.8" cy="572.8" r="4.8"/><circle cx="1333.7" cy="567.0" r="4.8"/><circle cx="1335.5" cy="567.1" r="4.8"/><circle cx="1337.4" cy="583.4" r="4.8"/><circle cx="1339.2" cy="578.8" r="4.8"/><circle cx="1341.1" cy="566.2" r="4.8"/><circle cx="1342.9" cy="569.8" r="4.8"/><circle cx="1344.8" cy="570.6" r="4.8"/><circle cx="1346.6" cy="539.3" r="4.8"/><circle cx="1348.5" cy="591.5" r="4.8"/><circle cx="1350.3" cy="577.9" r="4.8"/><circle cx="1352.2" cy="566.7" r="4.8"/><circle cx="1354.0" cy="571.9" r="4.8"/><circle cx="1355.9" cy="592.9" r="4.8"/><circle cx="1357.7" cy="559.0" r="4.8"/><circle cx="1359.6" cy="580.5" r="4.8"/><circle cx="1361.5" cy="568.2" r="4.8"/><circle cx="1363.3" cy="590.8" r="4.8"/><circle cx="1365.2" cy="546.5" r="4.8"/><circle cx="1367.0" cy="557.1" r="4.8"/><circle cx="1368.9" cy="556.2" r="4.8"/><circle cx="1370.7" cy="556.9" r="4.8"/><circle cx="1372.6" cy="561.8" r="4.8"/><circle cx="1374.4" cy="580.3" r="4.8"/><circle cx="1376.3" cy="587.0" r="4.8"/><circle cx="1378.1" cy="550.1" r="4.8"/><circle cx="1380.0" cy="585.1" r="4.8"/><circle cx="1381.8" cy="580.6" r="4.8"/><circle cx="1383.7" cy="558.9" r="4.8"/><circle cx="1385.5" cy="567.3" r="4.8"/><circle cx="1387.4" cy="551.3" r="4.8"/><circle cx="1389.2" cy="574.3" r="4.8"/><circle cx="1391.1" cy="554.4" r="4.8"/><circle cx="1392.9" cy="530.5" r="4.8"/><circle cx="1394.8" cy="576.4" r="4.8"/><circle cx="1396.6" cy="569.0" r="4.8"/><circle cx="1398.5" cy="575.6" r="4.8"/><circle cx="1400.4" cy="570.5" r="4.8"/><circle cx="1402.2" cy="522.9" r="4.8"/><circle cx="1404.1" cy="558.6" r="4.8"/><circle cx="1405.9" cy="606.0" r="4.8"/><circle cx="1407.8" cy="565.0" r="4.8"/><circle cx="1409.6" cy="557.3" r="4.8"/><circle cx="1411.5" cy="581.0" r="4.8"/><circle cx="1413.3" cy="540.3" r="4.8"/><circle cx="1415.2" cy="575.7" r="4.8"/><circle cx="1417.0" cy="553.8" r="4.8"/><circle cx="1418.9" cy="563.2" r="4.8"/><circle cx="1420.7" cy="593.2" r="4.8"/><circle cx="1422.6" cy="568.2" r="4.8"/><circle cx="1424.4" cy="585.2" r="4.8"/><circle cx="1426.3" cy="572.0" r="4.8"/><circle cx="1428.1" cy="595.7" r="4.8"/><circle cx="1430.0" cy="541.2" r="4.8"/><circle cx="1431.8" cy="561.9" r="4.8"/><circle cx="1433.7" cy="561.5" r="4.8"/><circle cx="1435.6" cy="513.6" r="4.8"/><circle cx="1437.4" cy="570.9" r="4.8"/><circle cx="1439.3" cy="592.8" r="4.8"/><circle cx="1441.1" cy="611.1" r="4.8"/><circle cx="1443.0" cy="564.9" r="4.8"/><circle cx="1444.8" cy="536.2" r="4.8"/><circle cx="1446.7" cy="563.7" r="4.8"/><circle cx="1448.5" cy="561.7" r="4.8"/><circle cx="1450.4" cy="566.2" r="4.8"/><circle cx="1452.2" cy="543.4" r="4.8"/><circle cx="1454.1" cy="527.0" r="4.8"/><circle cx="1455.9" cy="552.8" r="4.8"/><circle cx="1457.8" cy="572.1" r="4.8"/><circle cx="1459.6" cy="572.7" r="4.8"/><circle cx="1461.5" cy="581.8" r="4.8"/><circle cx="1463.3" cy="578.6" r="4.8"/><circle cx="1465.2" cy="600.6" r="4.8"/><circle cx="1467.0" cy="584.3" r="4.8"/><circle cx="1468.9" cy="571.3" r="4.8"/><circle cx="1470.7" cy="612.1" r="4.8"/><circle cx="1472.6" cy="519.8" r="4.8"/><circle cx="1474.5" cy="572.4" r="4.8"/><circle cx="1476.3" cy="545.4" r="4.8"/><circle cx="1478.2" cy="568.6" r="4.8"/><circle cx="1480.0" cy="593.5" r="4.8"/><circle cx="1481.9" cy="575.0" r="4.8"/><circle cx="1483.7" cy="540.2" r="4.8"/><circle cx="1485.6" cy="555.4" r="4.8"/><circle cx="1487.4" cy="576.6" r="4.8"/><circle cx="1489.3" cy="565.4" r="4.8"/><circle cx="1491.1" cy="555.1" r="4.8"/><circle cx="1493.0" cy="570.7" r="4.8"/><circle cx="1494.8" cy="560.0" r="4.8"/><circle cx="1496.7" cy="565.9" r="4.8"/><circle cx="1498.5" cy="594.7" r="4.8"/><circle cx="1500.4" cy="567.0" r="4.8"/><circle cx="1502.2" cy="583.2" r="4.8"/><circle cx="1504.1" cy="568.8" r="4.8"/><circle cx="1505.9" cy="552.6" r="4.8"/><circle cx="1507.8" cy="549.5" r="4.8"/></g>
<line x1="1322.8" y1="493.3" x2="1322.8" y2="631.1" stroke="#262626" stroke-width="2"/>
<line x1="1321.8" y1="630.1" x2="1510.3" y2="630.1" stroke="#262626" stroke-width="2"/>
<line x1="1322.8" y1="516.5" x2="1325.8" y2="516.5" stroke="#262626" stroke-width="1.2"/>
<text x="1316.8" y="524.3" font-size="22" text-anchor="end" fill="#262626">10.5</text>
<line x1="1322.8" y1="568.0" x2="1325.8" y2="568.0" stroke="#262626" stroke-width="1.2"/>
<text x="1316.8" y="575.8" font-size="22" text-anchor="end" fill="#262626">10</text>
<line x1="1322.8" y1="619.0" x2="1325.8" y2="619.0" stroke="#262626" stroke-width="1.2"/>
<text x="1316.8" y="626.8" font-size="22" text-anchor="end" fill="#262626">9.5</text>
<line x1="1359.6" y1="630.1" x2="1359.6" y2="627.1" stroke="#262626" stroke-width="1.2"/>
<text x="1359.6" y="657.8" font-size="22" text-anchor="middle" fill="#262626">20</text>
<line x1="1396.6" y1="630.1" x2="1396.6" y2="627.1" stroke="#262626" stroke-width="1.2"/>
<text x="1396.6" y="657.8" font-size="22" text-anchor="middle" fill="#262626">40</text>
<line x1="1433.7" y1="630.1" x2="1433.7" y2="627.1" stroke="#262626" stroke-width="1.2"/>
<text x="1433.7" y="657.8" font-size="22" text-anchor="middle" fill="#262626">60</text>
<line x1="1470.7" y1="630.1" x2="1470.7" y2="627.1" stroke="#262626" stroke-width="1.2"/>
<text x="1470.7" y="657.8" font-size="22" text-anchor="middle" fill="#262626">80</text>
<line x1="1507.8" y1="630.1" x2="1507.8" y2="627.1" stroke="#262626" stroke-width="1.2"/>
<text x="1507.8" y="657.8" font-size="22" text-anchor="middle" fill="#262626">100</text>
<text x="1416.4" y="687.8" font-size="23.7" text-anchor="middle" fill="#262626">% of null modes</text>
<text x="1266.3" y="640.5" font-size="23.7" text-anchor="start" fill="#262626" transform="rotate(-90 1266.3 640.5)">mean rate (Hz)</text>
<line x1="1342.8" y1="783.0" x2="1342.8" y2="1063.3" stroke="#262626" stroke-width="4.2"/>
<line x1="1340.7" y1="1061.2" x2="1753.5" y2="1061.2" stroke="#262626" stroke-width="4.2"/>
<line x1="1342.8" y1="839.3" x2="1350.8" y2="839.3" stroke="#262626" stroke-width="3"/>
<text x="1331.0" y="857.1" font-size="44" text-anchor="end" fill="#262626" textLength="36.4" lengthAdjust="spacingAndGlyphs" stroke-width="0.2">-1</text>
<line x1="1342.8" y1="929.6" x2="1350.8" y2="929.6" stroke="#262626" stroke-width="3"/>
<text x="1331.0" y="947.4" font-size="44" text-anchor="end" fill="#262626" textLength="36.4" lengthAdjust="spacingAndGlyphs" stroke-width="0.2">-2</text>
<line x1="1342.8" y1="1019.9" x2="1350.8" y2="1019.9" stroke="#262626" stroke-width="3"/>
<text x="1331.0" y="1037.7" font-size="44" text-anchor="end" fill="#262626" textLength="36.4" lengthAdjust="spacingAndGlyphs" stroke-width="0.2">-3</text>
<line x1="1481.3" y1="1061.2" x2="1481.3" y2="1053.7" stroke="#262626" stroke-width="3"/>
<text x="1481.3" y="1118.1" font-size="44" text-anchor="middle" fill="#262626" stroke-width="0.2">2</text>
<line x1="1693.3" y1="1061.2" x2="1693.3" y2="1053.7" stroke="#262626" stroke-width="3"/>
<text x="1693.3" y="1118.1" font-size="44" text-anchor="middle" fill="#262626" stroke-width="0.2">4</text>
<text x="1550.3" y="1178.0" font-size="46.5" text-anchor="middle" fill="#262626" textLength="319.0" lengthAdjust="spacingAndGlyphs" stroke-width="0.2">log null modes</text>
<text x="1276.0" y="1069.0" font-size="49.5" text-anchor="start" fill="#262626" transform="rotate(-90 1276.0 1069.0)" textLength="295.0" lengthAdjust="spacingAndGlyphs" stroke-width="0.2">log Gini index</text>
<g fill="#A6A61C"><circle cx="1342.8" cy="858.6" r="4"/><circle cx="1385.8" cy="878.1" r="4"/><circle cx="1416.2" cy="900.9" r="4"/><circle cx="1439.9" cy="902.2" r="4"/><circle cx="1459.2" cy="914.7" r="4"/><circle cx="1475.6" cy="932.0" r="4"/><circle cx="1489.7" cy="946.4" r="4"/><circle cx="1502.2" cy="941.6" r="4"/><circle cx="1513.4" cy="949.9" r="4"/><circle cx="1523.5" cy="953.1" r="4"/><circle cx="1532.7" cy="963.9" r="4"/><circle cx="1541.2" cy="957.5" r="4"/><circle cx="1549.0" cy="959.7" r="4"/><circle cx="1556.4" cy="963.6" r="4"/><circle cx="1563.2" cy="968.3" r="4"/><circle cx="1569.6" cy="975.6" r="4"/><circle cx="1575.7" cy="971.7" r="4"/><circle cx="1581.4" cy="977.3" r="4"/><circle cx="1586.8" cy="972.9" r="4"/><circle cx="1592.0" cy="983.9" r="4"/><circle cx="1597.0" cy="987.8" r="4"/><circle cx="1601.7" cy="985.8" r="4"/><circle cx="1606.2" cy="986.7" r="4"/><circle cx="1610.5" cy="1004.5" r="4"/><circle cx="1614.7" cy="993.4" r="4"/><circle cx="1618.7" cy="991.5" r="4"/><circle cx="1622.5" cy="985.7" r="4"/><circle cx="1626.2" cy="984.4" r="4"/><circle cx="1629.8" cy="996.9" r="4"/><circle cx="1633.3" cy="990.4" r="4"/><circle cx="1636.7" cy="995.7" r="4"/><circle cx="1639.9" cy="1004.6" r="4"/><circle cx="1643.1" cy="999.9" r="4"/><circle cx="1646.2" cy="1003.5" r="4"/><circle cx="1649.2" cy="1001.6" r="4"/><circle cx="1652.1" cy="1007.0" r="4"/><circle cx="1654.9" cy="997.2" r="4"/><circle cx="1657.6" cy="1008.8" r="4"/><circle cx="1660.3" cy="1013.1" r="4"/><circle cx="1662.9" cy="1003.4" r="4"/><circle cx="1665.5" cy="1007.0" r="4"/><circle cx="1668.0" cy="1010.6" r="4"/><circle cx="1670.4" cy="1003.6" r="4"/><circle cx="1672.8" cy="1021.1" r="4"/><circle cx="1675.1" cy="1015.9" r="4"/><circle cx="1677.4" cy="1004.2" r="4"/><circle cx="1679.6" cy="1021.9" r="4"/><circle cx="1681.8" cy="1005.7" r="4"/><circle cx="1684.0" cy="1011.4" r="4"/><circle cx="1686.1" cy="1019.3" r="4"/><circle cx="1688.1" cy="1014.8" r="4"/><circle cx="1690.2" cy="1040.5" r="4"/><circle cx="1692.1" cy="1016.4" r="4"/><circle cx="1694.1" cy="1030.3" r="4"/><circle cx="1696.0" cy="1030.1" r="4"/><circle cx="1697.9" cy="1032.6" r="4"/><circle cx="1699.7" cy="1020.4" r="4"/><circle cx="1701.5" cy="1022.9" r="4"/><circle cx="1703.3" cy="1032.0" r="4"/><circle cx="1705.1" cy="1026.3" r="4"/><circle cx="1706.8" cy="1030.5" r="4"/><circle cx="1708.5" cy="1038.8" r="4"/><circle cx="1710.1" cy="1026.0" r="4"/><circle cx="1711.8" cy="1030.6" r="4"/><circle cx="1713.4" cy="1021.4" r="4"/><circle cx="1715.0" cy="1024.0" r="4"/><circle cx="1716.6" cy="1037.2" r="4"/><circle cx="1718.1" cy="1029.7" r="4"/><circle cx="1719.6" cy="1035.7" r="4"/><circle cx="1721.1" cy="1025.0" r="4"/><circle cx="1722.6" cy="1038.6" r="4"/><circle cx="1724.1" cy="1028.2" r="4"/><circle cx="1725.5" cy="1034.7" r="4"/><circle cx="1727.0" cy="1034.7" r="4"/><circle cx="1728.4" cy="1027.5" r="4"/><circle cx="1729.7" cy="1032.7" r="4"/><circle cx="1731.1" cy="1061.0" r="4"/><circle cx="1732.5" cy="1038.4" r="4"/><circle cx="1733.8" cy="1037.9" r="4"/><circle cx="1735.1" cy="1048.8" r="4"/><circle cx="1736.4" cy="1038.7" r="4"/><circle cx="1737.7" cy="1040.9" r="4"/><circle cx="1739.0" cy="1037.9" r="4"/><circle cx="1740.2" cy="1041.9" r="4"/><circle cx="1741.5" cy="1042.8" r="4"/><circle cx="1742.7" cy="1038.7" r="4"/><circle cx="1743.9" cy="1027.5" r="4"/><circle cx="1745.1" cy="1046.2" r="4"/><circle cx="1746.3" cy="1041.7" r="4"/><circle cx="1747.5" cy="1057.7" r="4"/><circle cx="1748.6" cy="1038.3" r="4"/><circle cx="1749.8" cy="1041.6" r="4"/><circle cx="1750.9" cy="1044.1" r="4"/><circle cx="1752.0" cy="1042.9" r="4"/><circle cx="1753.1" cy="1048.9" r="4"/><circle cx="1754.2" cy="1047.2" r="4"/><circle cx="1755.3" cy="1038.2" r="4"/><circle cx="1756.4" cy="1041.0" r="4"/><circle cx="1757.4" cy="1051.2" r="4"/></g>
<g fill="#A0148C"><circle cx="1342.8" cy="811.9" r="4"/><circle cx="1385.8" cy="833.0" r="4"/><circle cx="1416.2" cy="858.0" r="4"/><circle cx="1439.9" cy="860.5" r="4"/><circle cx="1459.2" cy="876.7" r="4"/><circle cx="1475.6" cy="890.8" r="4"/><circle cx="1489.7" cy="911.5" r="4"/><circle cx="1502.2" cy="902.5" r="4"/><circle cx="1513.4" cy="909.6" r="4"/><circle cx="1523.5" cy="912.2" r="4"/><circle cx="1532.7" cy="914.8" r="4"/><circle cx="1541.2" cy="920.2" r="4"/><circle cx="1549.0" cy="927.7" r="4"/><circle cx="1556.4" cy="926.8" r="4"/><circle cx="1563.2" cy="929.6" r="4"/><circle cx="1569.6" cy="924.8" r="4"/><circle cx="1575.7" cy="933.5" r="4"/><circle cx="1581.4" cy="936.6" r="4"/><circle cx="1586.8" cy="944.0" r="4"/><circle cx="1592.0" cy="940.1" r="4"/><circle cx="1597.0" cy="948.0" r="4"/><circle cx="1601.7" cy="940.5" r="4"/><circle cx="1606.2" cy="939.5" r="4"/><circle cx="1610.5" cy="942.5" r="4"/><circle cx="1614.7" cy="948.1" r="4"/><circle cx="1618.7" cy="948.2" r="4"/><circle cx="1622.5" cy="951.0" r="4"/><circle cx="1626.2" cy="971.9" r="4"/><circle cx="1629.8" cy="950.8" r="4"/><circle cx="1633.3" cy="973.5" r="4"/><circle cx="1636.7" cy="953.0" r="4"/><circle cx="1639.9" cy="962.4" r="4"/><circle cx="1643.1" cy="960.4" r="4"/><circle cx="1646.2" cy="965.7" r="4"/><circle cx="1649.2" cy="963.2" r="4"/><circle cx="1652.1" cy="970.2" r="4"/><circle cx="1654.9" cy="973.7" r="4"/><circle cx="1657.6" cy="962.5" r="4"/><circle cx="1660.3" cy="970.4" r="4"/><circle cx="1662.9" cy="968.8" r="4"/><circle cx="1665.5" cy="978.0" r="4"/><circle cx="1668.0" cy="965.4" r="4"/><circle cx="1670.4" cy="969.4" r="4"/><circle cx="1672.8" cy="975.9" r="4"/><circle cx="1675.1" cy="978.5" r="4"/><circle cx="1677.4" cy="980.7" r="4"/><circle cx="1679.6" cy="994.9" r="4"/><circle cx="1681.8" cy="975.6" r="4"/><circle cx="1684.0" cy="980.3" r="4"/><circle cx="1686.1" cy="976.6" r="4"/><circle cx="1688.1" cy="986.9" r="4"/><circle cx="1690.2" cy="1003.6" r="4"/><circle cx="1692.1" cy="980.4" r="4"/><circle cx="1694.1" cy="990.5" r="4"/><circle cx="1696.0" cy="987.3" r="4"/><circle cx="1697.9" cy="975.4" r="4"/><circle cx="1699.7" cy="987.4" r="4"/><circle cx="1701.5" cy="987.8" r="4"/><circle cx="1703.3" cy="999.2" r="4"/><circle cx="1705.1" cy="984.9" r="4"/><circle cx="1706.8" cy="977.9" r="4"/><circle cx="1708.5" cy="990.9" r="4"/><circle cx="1710.1" cy="997.6" r="4"/><circle cx="1711.8" cy="986.8" r="4"/><circle cx="1713.4" cy="987.4" r="4"/><circle cx="1715.0" cy="991.6" r="4"/><circle cx="1716.6" cy="995.9" r="4"/><circle cx="1718.1" cy="993.8" r="4"/><circle cx="1719.6" cy="1002.7" r="4"/><circle cx="1721.1" cy="988.6" r="4"/><circle cx="1722.6" cy="996.1" r="4"/><circle cx="1724.1" cy="994.4" r="4"/><circle cx="1725.5" cy="995.1" r="4"/><circle cx="1727.0" cy="1002.9" r="4"/><circle cx="1728.4" cy="1009.6" r="4"/><circle cx="1729.7" cy="998.4" r="4"/><circle cx="1731.1" cy="1005.8" r="4"/><circle cx="1732.5" cy="996.2" r="4"/><circle cx="1733.8" cy="1004.1" r="4"/><circle cx="1735.1" cy="1004.9" r="4"/><circle cx="1736.4" cy="994.2" r="4"/><circle cx="1737.7" cy="1014.3" r="4"/><circle cx="1739.0" cy="999.5" r="4"/><circle cx="1740.2" cy="995.3" r="4"/><circle cx="1741.5" cy="994.4" r="4"/><circle cx="1742.7" cy="1016.4" r="4"/><circle cx="1743.9" cy="1003.4" r="4"/><circle cx="1745.1" cy="1024.8" r="4"/><circle cx="1746.3" cy="1005.1" r="4"/><circle cx="1747.5" cy="1004.1" r="4"/><circle cx="1748.6" cy="1000.2" r="4"/><circle cx="1749.8" cy="1005.8" r="4"/><circle cx="1750.9" cy="1015.3" r="4"/><circle cx="1752.0" cy="1021.6" r="4"/><circle cx="1753.1" cy="1012.9" r="4"/><circle cx="1754.2" cy="998.5" r="4"/><circle cx="1755.3" cy="998.7" r="4"/><circle cx="1756.4" cy="1004.2" r="4"/><circle cx="1757.4" cy="1007.7" r="4"/></g>
<g fill="#7C9CEB"><circle cx="1342.8" cy="782.7" r="4"/><circle cx="1385.8" cy="803.2" r="4"/><circle cx="1416.2" cy="825.8" r="4"/><circle cx="1439.9" cy="828.2" r="4"/><circle cx="1459.2" cy="848.3" r="4"/><circle cx="1475.6" cy="851.7" r="4"/><circle cx="1489.7" cy="878.1" r="4"/><circle cx="1502.2" cy="863.4" r="4"/><circle cx="1513.4" cy="873.0" r="4"/><circle cx="1523.5" cy="877.6" r="4"/><circle cx="1532.7" cy="880.8" r="4"/><circle cx="1541.2" cy="881.9" r="4"/><circle cx="1549.0" cy="889.7" r="4"/><circle cx="1556.4" cy="893.7" r="4"/><circle cx="1563.2" cy="891.2" r="4"/><circle cx="1569.6" cy="897.1" r="4"/><circle cx="1575.7" cy="898.4" r="4"/><circle cx="1581.4" cy="902.8" r="4"/><circle cx="1586.8" cy="915.7" r="4"/><circle cx="1592.0" cy="901.3" r="4"/><circle cx="1597.0" cy="911.4" r="4"/><circle cx="1601.7" cy="902.5" r="4"/><circle cx="1606.2" cy="917.2" r="4"/><circle cx="1610.5" cy="909.3" r="4"/><circle cx="1614.7" cy="908.6" r="4"/><circle cx="1618.7" cy="913.6" r="4"/><circle cx="1622.5" cy="917.6" r="4"/><circle cx="1626.2" cy="923.2" r="4"/><circle cx="1629.8" cy="923.2" r="4"/><circle cx="1633.3" cy="914.1" r="4"/><circle cx="1636.7" cy="935.0" r="4"/><circle cx="1639.9" cy="926.4" r="4"/><circle cx="1643.1" cy="925.8" r="4"/><circle cx="1646.2" cy="925.2" r="4"/><circle cx="1649.2" cy="928.7" r="4"/><circle cx="1652.1" cy="935.9" r="4"/><circle cx="1654.9" cy="937.6" r="4"/><circle cx="1657.6" cy="934.2" r="4"/><circle cx="1660.3" cy="927.2" r="4"/><circle cx="1662.9" cy="924.7" r="4"/><circle cx="1665.5" cy="933.5" r="4"/><circle cx="1668.0" cy="927.4" r="4"/><circle cx="1670.4" cy="939.0" r="4"/><circle cx="1672.8" cy="926.8" r="4"/><circle cx="1675.1" cy="936.2" r="4"/><circle cx="1677.4" cy="936.2" r="4"/><circle cx="1679.6" cy="939.4" r="4"/><circle cx="1681.8" cy="946.4" r="4"/><circle cx="1684.0" cy="937.5" r="4"/><circle cx="1686.1" cy="939.0" r="4"/><circle cx="1688.1" cy="941.0" r="4"/><circle cx="1690.2" cy="940.1" r="4"/><circle cx="1692.1" cy="939.2" r="4"/><circle cx="1694.1" cy="944.2" r="4"/><circle cx="1696.0" cy="947.0" r="4"/><circle cx="1697.9" cy="947.8" r="4"/><circle cx="1699.7" cy="949.6" r="4"/><circle cx="1701.5" cy="940.0" r="4"/><circle cx="1703.3" cy="938.4" r="4"/><circle cx="1705.1" cy="952.4" r="4"/><circle cx="1706.8" cy="951.4" r="4"/><circle cx="1708.5" cy="940.0" r="4"/><circle cx="1710.1" cy="954.6" r="4"/><circle cx="1711.8" cy="942.6" r="4"/><circle cx="1713.4" cy="953.3" r="4"/><circle cx="1715.0" cy="957.7" r="4"/><circle cx="1716.6" cy="958.7" r="4"/><circle cx="1718.1" cy="951.8" r="4"/><circle cx="1719.6" cy="954.1" r="4"/><circle cx="1721.1" cy="958.9" r="4"/><circle cx="1722.6" cy="955.4" r="4"/><circle cx="1724.1" cy="959.0" r="4"/><circle cx="1725.5" cy="957.9" r="4"/><circle cx="1727.0" cy="960.3" r="4"/><circle cx="1728.4" cy="969.9" r="4"/><circle cx="1729.7" cy="956.2" r="4"/><circle cx="1731.1" cy="963.2" r="4"/><circle cx="1732.5" cy="955.0" r="4"/><circle cx="1733.8" cy="972.5" r="4"/><circle cx="1735.1" cy="954.8" r="4"/><circle cx="1736.4" cy="969.8" r="4"/><circle cx="1737.7" cy="973.8" r="4"/><circle cx="1739.0" cy="952.5" r="4"/><circle cx="1740.2" cy="970.1" r="4"/><circle cx="1741.5" cy="964.5" r="4"/><circle cx="1742.7" cy="981.2" r="4"/><circle cx="1743.9" cy="964.8" r="4"/><circle cx="1745.1" cy="960.0" r="4"/><circle cx="1746.3" cy="969.0" r="4"/><circle cx="1747.5" cy="962.0" r="4"/><circle cx="1748.6" cy="962.7" r="4"/><circle cx="1749.8" cy="955.9" r="4"/><circle cx="1750.9" cy="975.8" r="4"/><circle cx="1752.0" cy="965.1" r="4"/><circle cx="1753.1" cy="977.3" r="4"/><circle cx="1754.2" cy="968.1" r="4"/><circle cx="1755.3" cy="953.7" r="4"/><circle cx="1756.4" cy="977.5" r="4"/><circle cx="1757.4" cy="966.8" r="4"/></g>
<text x="1371.5" y="968.5" font-size="26" text-anchor="start" fill="#A6A61C" font-weight="bold" textLength="49.0" lengthAdjust="spacingAndGlyphs">30%</text>
<text x="1371.5" y="1003.5" font-size="26" text-anchor="start" fill="#A0148C" font-weight="bold" textLength="49.0" lengthAdjust="spacingAndGlyphs">50%</text>
<text x="1371.5" y="1038.5" font-size="26" text-anchor="start" fill="#7C9CEB" font-weight="bold" textLength="49.0" lengthAdjust="spacingAndGlyphs">70%</text>
</svg>
</body></html>
